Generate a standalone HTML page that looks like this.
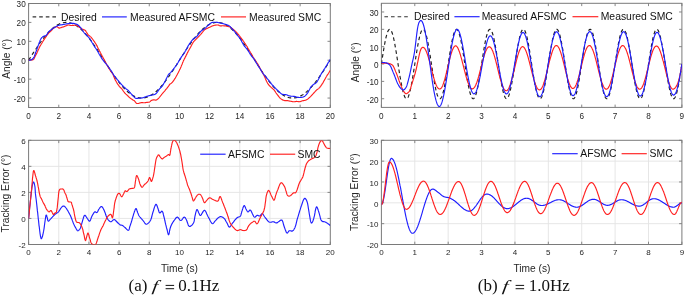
<!DOCTYPE html>
<html><head><meta charset="utf-8"><style>
html,body{margin:0;padding:0;background:#fff;width:685px;height:296px;overflow:hidden}
svg{display:block;will-change:transform}
</style></head><body>
<svg width="685" height="296" viewBox="0 0 685 296">
<defs>
<clipPath id="cTL"><rect x="28.6" y="3.5" width="301.70" height="104.00"/></clipPath>
<clipPath id="cTR"><rect x="381.4" y="3.3" width="300.50" height="104.10"/></clipPath>
<clipPath id="cBL"><rect x="28.6" y="140.3" width="301.70" height="104.20"/></clipPath>
<clipPath id="cBR"><rect x="381.4" y="140.3" width="300.50" height="104.20"/></clipPath>
</defs>
<rect width="685" height="296" fill="#fff"/>
<g font-family='"Liberation Sans", sans-serif' fill="#262626">
<line x1="28.60" y1="107.5" x2="28.60" y2="104.70" stroke="#7a7a7a" stroke-width="0.9"/>
<line x1="28.60" y1="3.5" x2="28.60" y2="6.30" stroke="#7a7a7a" stroke-width="0.9"/>
<text x="28.60" y="118.74" font-size="8.2" text-anchor="middle">0</text>
<line x1="58.77" y1="107.5" x2="58.77" y2="104.70" stroke="#7a7a7a" stroke-width="0.9"/>
<line x1="58.77" y1="3.5" x2="58.77" y2="6.30" stroke="#7a7a7a" stroke-width="0.9"/>
<text x="58.77" y="118.74" font-size="8.2" text-anchor="middle">2</text>
<line x1="88.94" y1="107.5" x2="88.94" y2="104.70" stroke="#7a7a7a" stroke-width="0.9"/>
<line x1="88.94" y1="3.5" x2="88.94" y2="6.30" stroke="#7a7a7a" stroke-width="0.9"/>
<text x="88.94" y="118.74" font-size="8.2" text-anchor="middle">4</text>
<line x1="119.11" y1="107.5" x2="119.11" y2="104.70" stroke="#7a7a7a" stroke-width="0.9"/>
<line x1="119.11" y1="3.5" x2="119.11" y2="6.30" stroke="#7a7a7a" stroke-width="0.9"/>
<text x="119.11" y="118.74" font-size="8.2" text-anchor="middle">6</text>
<line x1="149.28" y1="107.5" x2="149.28" y2="104.70" stroke="#7a7a7a" stroke-width="0.9"/>
<line x1="149.28" y1="3.5" x2="149.28" y2="6.30" stroke="#7a7a7a" stroke-width="0.9"/>
<text x="149.28" y="118.74" font-size="8.2" text-anchor="middle">8</text>
<line x1="179.45" y1="107.5" x2="179.45" y2="104.70" stroke="#7a7a7a" stroke-width="0.9"/>
<line x1="179.45" y1="3.5" x2="179.45" y2="6.30" stroke="#7a7a7a" stroke-width="0.9"/>
<text x="179.45" y="118.74" font-size="8.2" text-anchor="middle">10</text>
<line x1="209.62" y1="107.5" x2="209.62" y2="104.70" stroke="#7a7a7a" stroke-width="0.9"/>
<line x1="209.62" y1="3.5" x2="209.62" y2="6.30" stroke="#7a7a7a" stroke-width="0.9"/>
<text x="209.62" y="118.74" font-size="8.2" text-anchor="middle">12</text>
<line x1="239.79" y1="107.5" x2="239.79" y2="104.70" stroke="#7a7a7a" stroke-width="0.9"/>
<line x1="239.79" y1="3.5" x2="239.79" y2="6.30" stroke="#7a7a7a" stroke-width="0.9"/>
<text x="239.79" y="118.74" font-size="8.2" text-anchor="middle">14</text>
<line x1="269.96" y1="107.5" x2="269.96" y2="104.70" stroke="#7a7a7a" stroke-width="0.9"/>
<line x1="269.96" y1="3.5" x2="269.96" y2="6.30" stroke="#7a7a7a" stroke-width="0.9"/>
<text x="269.96" y="118.74" font-size="8.2" text-anchor="middle">16</text>
<line x1="300.13" y1="107.5" x2="300.13" y2="104.70" stroke="#7a7a7a" stroke-width="0.9"/>
<line x1="300.13" y1="3.5" x2="300.13" y2="6.30" stroke="#7a7a7a" stroke-width="0.9"/>
<text x="300.13" y="118.74" font-size="8.2" text-anchor="middle">18</text>
<line x1="330.30" y1="107.5" x2="330.30" y2="104.70" stroke="#7a7a7a" stroke-width="0.9"/>
<line x1="330.30" y1="3.5" x2="330.30" y2="6.30" stroke="#7a7a7a" stroke-width="0.9"/>
<text x="330.30" y="118.74" font-size="8.2" text-anchor="middle">20</text>
<line x1="28.6" y1="98.05" x2="31.40" y2="98.05" stroke="#7a7a7a" stroke-width="0.9"/>
<line x1="330.3" y1="98.05" x2="327.50" y2="98.05" stroke="#7a7a7a" stroke-width="0.9"/>
<text x="25.70" y="101.88" font-size="8.2" text-anchor="end">-20</text>
<line x1="28.6" y1="79.14" x2="31.40" y2="79.14" stroke="#7a7a7a" stroke-width="0.9"/>
<line x1="330.3" y1="79.14" x2="327.50" y2="79.14" stroke="#7a7a7a" stroke-width="0.9"/>
<text x="25.70" y="82.97" font-size="8.2" text-anchor="end">-10</text>
<line x1="28.6" y1="60.23" x2="31.40" y2="60.23" stroke="#7a7a7a" stroke-width="0.9"/>
<line x1="330.3" y1="60.23" x2="327.50" y2="60.23" stroke="#7a7a7a" stroke-width="0.9"/>
<text x="25.70" y="64.06" font-size="8.2" text-anchor="end">0</text>
<line x1="28.6" y1="41.32" x2="31.40" y2="41.32" stroke="#7a7a7a" stroke-width="0.9"/>
<line x1="330.3" y1="41.32" x2="327.50" y2="41.32" stroke="#7a7a7a" stroke-width="0.9"/>
<text x="25.70" y="45.15" font-size="8.2" text-anchor="end">10</text>
<line x1="28.6" y1="22.41" x2="31.40" y2="22.41" stroke="#7a7a7a" stroke-width="0.9"/>
<line x1="330.3" y1="22.41" x2="327.50" y2="22.41" stroke="#7a7a7a" stroke-width="0.9"/>
<text x="25.70" y="26.24" font-size="8.2" text-anchor="end">20</text>
<line x1="28.6" y1="3.50" x2="31.40" y2="3.50" stroke="#7a7a7a" stroke-width="0.9"/>
<line x1="330.3" y1="3.50" x2="327.50" y2="3.50" stroke="#7a7a7a" stroke-width="0.9"/>
<text x="25.70" y="7.34" font-size="8.2" text-anchor="end">30</text>
<rect x="28.6" y="3.5" width="301.70" height="104.00" fill="none" stroke="#7a7a7a" stroke-width="1"/>
<line x1="381.40" y1="107.4" x2="381.40" y2="104.60" stroke="#7a7a7a" stroke-width="0.9"/>
<line x1="381.40" y1="3.3" x2="381.40" y2="6.10" stroke="#7a7a7a" stroke-width="0.9"/>
<text x="381.40" y="118.54" font-size="8.2" text-anchor="middle">0</text>
<line x1="414.79" y1="107.4" x2="414.79" y2="104.60" stroke="#7a7a7a" stroke-width="0.9"/>
<line x1="414.79" y1="3.3" x2="414.79" y2="6.10" stroke="#7a7a7a" stroke-width="0.9"/>
<text x="414.79" y="118.54" font-size="8.2" text-anchor="middle">1</text>
<line x1="448.18" y1="107.4" x2="448.18" y2="104.60" stroke="#7a7a7a" stroke-width="0.9"/>
<line x1="448.18" y1="3.3" x2="448.18" y2="6.10" stroke="#7a7a7a" stroke-width="0.9"/>
<text x="448.18" y="118.54" font-size="8.2" text-anchor="middle">2</text>
<line x1="481.57" y1="107.4" x2="481.57" y2="104.60" stroke="#7a7a7a" stroke-width="0.9"/>
<line x1="481.57" y1="3.3" x2="481.57" y2="6.10" stroke="#7a7a7a" stroke-width="0.9"/>
<text x="481.57" y="118.54" font-size="8.2" text-anchor="middle">3</text>
<line x1="514.96" y1="107.4" x2="514.96" y2="104.60" stroke="#7a7a7a" stroke-width="0.9"/>
<line x1="514.96" y1="3.3" x2="514.96" y2="6.10" stroke="#7a7a7a" stroke-width="0.9"/>
<text x="514.96" y="118.54" font-size="8.2" text-anchor="middle">4</text>
<line x1="548.34" y1="107.4" x2="548.34" y2="104.60" stroke="#7a7a7a" stroke-width="0.9"/>
<line x1="548.34" y1="3.3" x2="548.34" y2="6.10" stroke="#7a7a7a" stroke-width="0.9"/>
<text x="548.34" y="118.54" font-size="8.2" text-anchor="middle">5</text>
<line x1="581.73" y1="107.4" x2="581.73" y2="104.60" stroke="#7a7a7a" stroke-width="0.9"/>
<line x1="581.73" y1="3.3" x2="581.73" y2="6.10" stroke="#7a7a7a" stroke-width="0.9"/>
<text x="581.73" y="118.54" font-size="8.2" text-anchor="middle">6</text>
<line x1="615.12" y1="107.4" x2="615.12" y2="104.60" stroke="#7a7a7a" stroke-width="0.9"/>
<line x1="615.12" y1="3.3" x2="615.12" y2="6.10" stroke="#7a7a7a" stroke-width="0.9"/>
<text x="615.12" y="118.54" font-size="8.2" text-anchor="middle">7</text>
<line x1="648.51" y1="107.4" x2="648.51" y2="104.60" stroke="#7a7a7a" stroke-width="0.9"/>
<line x1="648.51" y1="3.3" x2="648.51" y2="6.10" stroke="#7a7a7a" stroke-width="0.9"/>
<text x="648.51" y="118.54" font-size="8.2" text-anchor="middle">8</text>
<line x1="681.90" y1="107.4" x2="681.90" y2="104.60" stroke="#7a7a7a" stroke-width="0.9"/>
<line x1="681.90" y1="3.3" x2="681.90" y2="6.10" stroke="#7a7a7a" stroke-width="0.9"/>
<text x="681.90" y="118.54" font-size="8.2" text-anchor="middle">9</text>
<line x1="381.4" y1="98.73" x2="384.20" y2="98.73" stroke="#7a7a7a" stroke-width="0.9"/>
<line x1="681.9" y1="98.73" x2="679.10" y2="98.73" stroke="#7a7a7a" stroke-width="0.9"/>
<text x="378.50" y="102.56" font-size="8.2" text-anchor="end">-20</text>
<line x1="381.4" y1="81.38" x2="384.20" y2="81.38" stroke="#7a7a7a" stroke-width="0.9"/>
<line x1="681.9" y1="81.38" x2="679.10" y2="81.38" stroke="#7a7a7a" stroke-width="0.9"/>
<text x="378.50" y="85.21" font-size="8.2" text-anchor="end">-10</text>
<line x1="381.4" y1="64.03" x2="384.20" y2="64.03" stroke="#7a7a7a" stroke-width="0.9"/>
<line x1="681.9" y1="64.03" x2="679.10" y2="64.03" stroke="#7a7a7a" stroke-width="0.9"/>
<text x="378.50" y="67.86" font-size="8.2" text-anchor="end">0</text>
<line x1="381.4" y1="46.67" x2="384.20" y2="46.67" stroke="#7a7a7a" stroke-width="0.9"/>
<line x1="681.9" y1="46.67" x2="679.10" y2="46.67" stroke="#7a7a7a" stroke-width="0.9"/>
<text x="378.50" y="50.51" font-size="8.2" text-anchor="end">10</text>
<line x1="381.4" y1="29.33" x2="384.20" y2="29.33" stroke="#7a7a7a" stroke-width="0.9"/>
<line x1="681.9" y1="29.33" x2="679.10" y2="29.33" stroke="#7a7a7a" stroke-width="0.9"/>
<text x="378.50" y="33.16" font-size="8.2" text-anchor="end">20</text>
<line x1="381.4" y1="11.98" x2="384.20" y2="11.98" stroke="#7a7a7a" stroke-width="0.9"/>
<line x1="681.9" y1="11.98" x2="679.10" y2="11.98" stroke="#7a7a7a" stroke-width="0.9"/>
<text x="378.50" y="15.81" font-size="8.2" text-anchor="end">30</text>
<rect x="381.4" y="3.3" width="300.50" height="104.10" fill="none" stroke="#7a7a7a" stroke-width="1"/>
<line x1="58.77" y1="140.3" x2="58.77" y2="244.5" stroke="#e3e3e3" stroke-width="0.9"/>
<line x1="88.94" y1="140.3" x2="88.94" y2="244.5" stroke="#e3e3e3" stroke-width="0.9"/>
<line x1="119.11" y1="140.3" x2="119.11" y2="244.5" stroke="#e3e3e3" stroke-width="0.9"/>
<line x1="149.28" y1="140.3" x2="149.28" y2="244.5" stroke="#e3e3e3" stroke-width="0.9"/>
<line x1="179.45" y1="140.3" x2="179.45" y2="244.5" stroke="#e3e3e3" stroke-width="0.9"/>
<line x1="209.62" y1="140.3" x2="209.62" y2="244.5" stroke="#e3e3e3" stroke-width="0.9"/>
<line x1="239.79" y1="140.3" x2="239.79" y2="244.5" stroke="#e3e3e3" stroke-width="0.9"/>
<line x1="269.96" y1="140.3" x2="269.96" y2="244.5" stroke="#e3e3e3" stroke-width="0.9"/>
<line x1="300.13" y1="140.3" x2="300.13" y2="244.5" stroke="#e3e3e3" stroke-width="0.9"/>
<line x1="28.6" y1="218.45" x2="330.3" y2="218.45" stroke="#e3e3e3" stroke-width="0.9"/>
<line x1="28.6" y1="192.40" x2="330.3" y2="192.40" stroke="#e3e3e3" stroke-width="0.9"/>
<line x1="28.6" y1="166.35" x2="330.3" y2="166.35" stroke="#e3e3e3" stroke-width="0.9"/>
<line x1="28.60" y1="244.5" x2="28.60" y2="241.70" stroke="#7a7a7a" stroke-width="0.9"/>
<line x1="28.60" y1="140.3" x2="28.60" y2="143.10" stroke="#7a7a7a" stroke-width="0.9"/>
<text x="28.60" y="255.16" font-size="8.0" text-anchor="middle">0</text>
<line x1="58.77" y1="244.5" x2="58.77" y2="241.70" stroke="#7a7a7a" stroke-width="0.9"/>
<line x1="58.77" y1="140.3" x2="58.77" y2="143.10" stroke="#7a7a7a" stroke-width="0.9"/>
<text x="58.77" y="255.16" font-size="8.0" text-anchor="middle">2</text>
<line x1="88.94" y1="244.5" x2="88.94" y2="241.70" stroke="#7a7a7a" stroke-width="0.9"/>
<line x1="88.94" y1="140.3" x2="88.94" y2="143.10" stroke="#7a7a7a" stroke-width="0.9"/>
<text x="88.94" y="255.16" font-size="8.0" text-anchor="middle">4</text>
<line x1="119.11" y1="244.5" x2="119.11" y2="241.70" stroke="#7a7a7a" stroke-width="0.9"/>
<line x1="119.11" y1="140.3" x2="119.11" y2="143.10" stroke="#7a7a7a" stroke-width="0.9"/>
<text x="119.11" y="255.16" font-size="8.0" text-anchor="middle">6</text>
<line x1="149.28" y1="244.5" x2="149.28" y2="241.70" stroke="#7a7a7a" stroke-width="0.9"/>
<line x1="149.28" y1="140.3" x2="149.28" y2="143.10" stroke="#7a7a7a" stroke-width="0.9"/>
<text x="149.28" y="255.16" font-size="8.0" text-anchor="middle">8</text>
<line x1="179.45" y1="244.5" x2="179.45" y2="241.70" stroke="#7a7a7a" stroke-width="0.9"/>
<line x1="179.45" y1="140.3" x2="179.45" y2="143.10" stroke="#7a7a7a" stroke-width="0.9"/>
<text x="179.45" y="255.16" font-size="8.0" text-anchor="middle">10</text>
<line x1="209.62" y1="244.5" x2="209.62" y2="241.70" stroke="#7a7a7a" stroke-width="0.9"/>
<line x1="209.62" y1="140.3" x2="209.62" y2="143.10" stroke="#7a7a7a" stroke-width="0.9"/>
<text x="209.62" y="255.16" font-size="8.0" text-anchor="middle">12</text>
<line x1="239.79" y1="244.5" x2="239.79" y2="241.70" stroke="#7a7a7a" stroke-width="0.9"/>
<line x1="239.79" y1="140.3" x2="239.79" y2="143.10" stroke="#7a7a7a" stroke-width="0.9"/>
<text x="239.79" y="255.16" font-size="8.0" text-anchor="middle">14</text>
<line x1="269.96" y1="244.5" x2="269.96" y2="241.70" stroke="#7a7a7a" stroke-width="0.9"/>
<line x1="269.96" y1="140.3" x2="269.96" y2="143.10" stroke="#7a7a7a" stroke-width="0.9"/>
<text x="269.96" y="255.16" font-size="8.0" text-anchor="middle">16</text>
<line x1="300.13" y1="244.5" x2="300.13" y2="241.70" stroke="#7a7a7a" stroke-width="0.9"/>
<line x1="300.13" y1="140.3" x2="300.13" y2="143.10" stroke="#7a7a7a" stroke-width="0.9"/>
<text x="300.13" y="255.16" font-size="8.0" text-anchor="middle">18</text>
<line x1="330.30" y1="244.5" x2="330.30" y2="241.70" stroke="#7a7a7a" stroke-width="0.9"/>
<line x1="330.30" y1="140.3" x2="330.30" y2="143.10" stroke="#7a7a7a" stroke-width="0.9"/>
<text x="330.30" y="255.16" font-size="8.0" text-anchor="middle">20</text>
<line x1="28.6" y1="244.50" x2="31.40" y2="244.50" stroke="#7a7a7a" stroke-width="0.9"/>
<line x1="330.3" y1="244.50" x2="327.50" y2="244.50" stroke="#7a7a7a" stroke-width="0.9"/>
<text x="25.70" y="248.26" font-size="8.0" text-anchor="end">-2</text>
<line x1="28.6" y1="218.45" x2="31.40" y2="218.45" stroke="#7a7a7a" stroke-width="0.9"/>
<line x1="330.3" y1="218.45" x2="327.50" y2="218.45" stroke="#7a7a7a" stroke-width="0.9"/>
<text x="25.70" y="222.21" font-size="8.0" text-anchor="end">0</text>
<line x1="28.6" y1="192.40" x2="31.40" y2="192.40" stroke="#7a7a7a" stroke-width="0.9"/>
<line x1="330.3" y1="192.40" x2="327.50" y2="192.40" stroke="#7a7a7a" stroke-width="0.9"/>
<text x="25.70" y="196.16" font-size="8.0" text-anchor="end">2</text>
<line x1="28.6" y1="166.35" x2="31.40" y2="166.35" stroke="#7a7a7a" stroke-width="0.9"/>
<line x1="330.3" y1="166.35" x2="327.50" y2="166.35" stroke="#7a7a7a" stroke-width="0.9"/>
<text x="25.70" y="170.11" font-size="8.0" text-anchor="end">4</text>
<line x1="28.6" y1="140.30" x2="31.40" y2="140.30" stroke="#7a7a7a" stroke-width="0.9"/>
<line x1="330.3" y1="140.30" x2="327.50" y2="140.30" stroke="#7a7a7a" stroke-width="0.9"/>
<text x="25.70" y="144.06" font-size="8.0" text-anchor="end">6</text>
<rect x="28.6" y="140.3" width="301.70" height="104.20" fill="none" stroke="#7a7a7a" stroke-width="1"/>
<line x1="414.79" y1="140.3" x2="414.79" y2="244.5" stroke="#e3e3e3" stroke-width="0.9"/>
<line x1="448.18" y1="140.3" x2="448.18" y2="244.5" stroke="#e3e3e3" stroke-width="0.9"/>
<line x1="481.57" y1="140.3" x2="481.57" y2="244.5" stroke="#e3e3e3" stroke-width="0.9"/>
<line x1="514.96" y1="140.3" x2="514.96" y2="244.5" stroke="#e3e3e3" stroke-width="0.9"/>
<line x1="548.34" y1="140.3" x2="548.34" y2="244.5" stroke="#e3e3e3" stroke-width="0.9"/>
<line x1="581.73" y1="140.3" x2="581.73" y2="244.5" stroke="#e3e3e3" stroke-width="0.9"/>
<line x1="615.12" y1="140.3" x2="615.12" y2="244.5" stroke="#e3e3e3" stroke-width="0.9"/>
<line x1="648.51" y1="140.3" x2="648.51" y2="244.5" stroke="#e3e3e3" stroke-width="0.9"/>
<line x1="381.4" y1="223.66" x2="681.9" y2="223.66" stroke="#e3e3e3" stroke-width="0.9"/>
<line x1="381.4" y1="202.82" x2="681.9" y2="202.82" stroke="#e3e3e3" stroke-width="0.9"/>
<line x1="381.4" y1="181.98" x2="681.9" y2="181.98" stroke="#e3e3e3" stroke-width="0.9"/>
<line x1="381.4" y1="161.14" x2="681.9" y2="161.14" stroke="#e3e3e3" stroke-width="0.9"/>
<line x1="381.40" y1="244.5" x2="381.40" y2="241.70" stroke="#7a7a7a" stroke-width="0.9"/>
<line x1="381.40" y1="140.3" x2="381.40" y2="143.10" stroke="#7a7a7a" stroke-width="0.9"/>
<text x="381.40" y="255.06" font-size="8.0" text-anchor="middle">0</text>
<line x1="414.79" y1="244.5" x2="414.79" y2="241.70" stroke="#7a7a7a" stroke-width="0.9"/>
<line x1="414.79" y1="140.3" x2="414.79" y2="143.10" stroke="#7a7a7a" stroke-width="0.9"/>
<text x="414.79" y="255.06" font-size="8.0" text-anchor="middle">1</text>
<line x1="448.18" y1="244.5" x2="448.18" y2="241.70" stroke="#7a7a7a" stroke-width="0.9"/>
<line x1="448.18" y1="140.3" x2="448.18" y2="143.10" stroke="#7a7a7a" stroke-width="0.9"/>
<text x="448.18" y="255.06" font-size="8.0" text-anchor="middle">2</text>
<line x1="481.57" y1="244.5" x2="481.57" y2="241.70" stroke="#7a7a7a" stroke-width="0.9"/>
<line x1="481.57" y1="140.3" x2="481.57" y2="143.10" stroke="#7a7a7a" stroke-width="0.9"/>
<text x="481.57" y="255.06" font-size="8.0" text-anchor="middle">3</text>
<line x1="514.96" y1="244.5" x2="514.96" y2="241.70" stroke="#7a7a7a" stroke-width="0.9"/>
<line x1="514.96" y1="140.3" x2="514.96" y2="143.10" stroke="#7a7a7a" stroke-width="0.9"/>
<text x="514.96" y="255.06" font-size="8.0" text-anchor="middle">4</text>
<line x1="548.34" y1="244.5" x2="548.34" y2="241.70" stroke="#7a7a7a" stroke-width="0.9"/>
<line x1="548.34" y1="140.3" x2="548.34" y2="143.10" stroke="#7a7a7a" stroke-width="0.9"/>
<text x="548.34" y="255.06" font-size="8.0" text-anchor="middle">5</text>
<line x1="581.73" y1="244.5" x2="581.73" y2="241.70" stroke="#7a7a7a" stroke-width="0.9"/>
<line x1="581.73" y1="140.3" x2="581.73" y2="143.10" stroke="#7a7a7a" stroke-width="0.9"/>
<text x="581.73" y="255.06" font-size="8.0" text-anchor="middle">6</text>
<line x1="615.12" y1="244.5" x2="615.12" y2="241.70" stroke="#7a7a7a" stroke-width="0.9"/>
<line x1="615.12" y1="140.3" x2="615.12" y2="143.10" stroke="#7a7a7a" stroke-width="0.9"/>
<text x="615.12" y="255.06" font-size="8.0" text-anchor="middle">7</text>
<line x1="648.51" y1="244.5" x2="648.51" y2="241.70" stroke="#7a7a7a" stroke-width="0.9"/>
<line x1="648.51" y1="140.3" x2="648.51" y2="143.10" stroke="#7a7a7a" stroke-width="0.9"/>
<text x="648.51" y="255.06" font-size="8.0" text-anchor="middle">8</text>
<line x1="681.90" y1="244.5" x2="681.90" y2="241.70" stroke="#7a7a7a" stroke-width="0.9"/>
<line x1="681.90" y1="140.3" x2="681.90" y2="143.10" stroke="#7a7a7a" stroke-width="0.9"/>
<text x="681.90" y="255.06" font-size="8.0" text-anchor="middle">9</text>
<line x1="381.4" y1="244.50" x2="384.20" y2="244.50" stroke="#7a7a7a" stroke-width="0.9"/>
<line x1="681.9" y1="244.50" x2="679.10" y2="244.50" stroke="#7a7a7a" stroke-width="0.9"/>
<text x="378.50" y="248.26" font-size="8.0" text-anchor="end">-20</text>
<line x1="381.4" y1="223.66" x2="384.20" y2="223.66" stroke="#7a7a7a" stroke-width="0.9"/>
<line x1="681.9" y1="223.66" x2="679.10" y2="223.66" stroke="#7a7a7a" stroke-width="0.9"/>
<text x="378.50" y="227.42" font-size="8.0" text-anchor="end">-10</text>
<line x1="381.4" y1="202.82" x2="384.20" y2="202.82" stroke="#7a7a7a" stroke-width="0.9"/>
<line x1="681.9" y1="202.82" x2="679.10" y2="202.82" stroke="#7a7a7a" stroke-width="0.9"/>
<text x="378.50" y="206.58" font-size="8.0" text-anchor="end">0</text>
<line x1="381.4" y1="181.98" x2="384.20" y2="181.98" stroke="#7a7a7a" stroke-width="0.9"/>
<line x1="681.9" y1="181.98" x2="679.10" y2="181.98" stroke="#7a7a7a" stroke-width="0.9"/>
<text x="378.50" y="185.74" font-size="8.0" text-anchor="end">10</text>
<line x1="381.4" y1="161.14" x2="384.20" y2="161.14" stroke="#7a7a7a" stroke-width="0.9"/>
<line x1="681.9" y1="161.14" x2="679.10" y2="161.14" stroke="#7a7a7a" stroke-width="0.9"/>
<text x="378.50" y="164.90" font-size="8.0" text-anchor="end">20</text>
<line x1="381.4" y1="140.30" x2="384.20" y2="140.30" stroke="#7a7a7a" stroke-width="0.9"/>
<line x1="681.9" y1="140.30" x2="679.10" y2="140.30" stroke="#7a7a7a" stroke-width="0.9"/>
<text x="378.50" y="144.06" font-size="8.0" text-anchor="end">30</text>
<rect x="381.4" y="140.3" width="300.50" height="104.20" fill="none" stroke="#7a7a7a" stroke-width="1"/>
</g>
<g clip-path="url(#cBL)" fill="none" stroke-width="1.15" stroke-linejoin="round">
<path d="M28.6,218.4 L28.8,216.3 L29.1,213.5 L29.4,210.1 L29.8,206.5 L30.2,203.0 L30.5,200.0 L30.8,197.3 L31.1,194.6 L31.4,192.1 L31.7,189.8 L31.9,187.7 L32.2,186.0 L32.5,184.7 L32.7,183.6 L32.9,182.9 L33.2,182.4 L33.4,182.1 L33.6,182.0 L33.8,182.1 L34.0,182.6 L34.2,183.2 L34.4,184.0 L34.6,185.0 L34.8,186.0 L35.0,187.2 L35.1,188.6 L35.2,190.1 L35.3,191.7 L35.4,193.4 L35.6,195.0 L35.8,196.6 L36.0,198.2 L36.2,199.8 L36.4,201.5 L36.6,203.2 L36.8,205.0 L37.0,206.9 L37.2,208.9 L37.4,210.9 L37.7,212.9 L37.9,215.0 L38.1,217.0 L38.3,219.0 L38.6,221.1 L38.8,223.2 L39.0,225.3 L39.3,227.2 L39.5,229.0 L39.7,230.7 L39.9,232.3 L40.1,233.8 L40.3,235.1 L40.5,236.3 L40.7,237.2 L40.9,237.9 L41.0,238.4 L41.1,238.6 L41.2,238.8 L41.3,238.7 L41.5,238.6 L41.7,238.3 L41.9,237.9 L42.1,237.3 L42.4,236.6 L42.6,235.8 L42.8,235.0 L43.0,234.1 L43.2,233.2 L43.4,232.2 L43.6,231.2 L43.8,230.0 L44.0,228.8 L44.2,227.4 L44.4,225.9 L44.6,224.3 L44.8,222.7 L45.0,221.3 L45.2,220.0 L45.4,218.9 L45.5,217.8 L45.7,216.8 L45.9,216.0 L46.0,215.4 L46.2,215.0 L46.4,215.0 L46.5,215.2 L46.7,215.7 L46.9,216.3 L47.0,216.9 L47.2,217.5 L47.4,218.1 L47.5,218.9 L47.6,219.7 L47.8,220.4 L48.0,220.9 L48.3,221.2 L48.6,221.1 L49.0,220.8 L49.5,220.3 L49.9,219.7 L50.5,219.1 L51.0,218.5 L51.6,217.9 L52.3,217.2 L53.0,216.4 L53.7,215.7 L54.4,215.0 L55.0,214.4 L55.6,213.9 L56.2,213.5 L56.8,213.1 L57.3,212.8 L57.9,212.4 L58.4,211.9 L58.9,211.3 L59.3,210.6 L59.8,209.9 L60.2,209.2 L60.6,208.6 L61.0,208.0 L61.4,207.5 L61.8,207.0 L62.3,206.6 L62.7,206.3 L63.1,206.1 L63.5,206.0 L63.9,206.1 L64.3,206.3 L64.8,206.6 L65.2,207.0 L65.6,207.5 L66.0,208.0 L66.4,208.5 L66.8,209.1 L67.2,209.8 L67.7,210.4 L68.1,211.2 L68.5,211.9 L68.9,212.7 L69.3,213.5 L69.7,214.3 L70.2,215.1 L70.6,216.0 L71.0,217.0 L71.4,218.1 L71.9,219.2 L72.3,220.4 L72.8,221.6 L73.2,222.7 L73.6,223.7 L74.0,224.6 L74.4,225.4 L74.7,226.1 L75.1,226.8 L75.4,227.4 L75.8,228.0 L76.1,228.6 L76.5,229.3 L76.8,229.8 L77.1,230.3 L77.4,230.7 L77.8,230.8 L78.2,230.7 L78.6,230.4 L79.1,230.0 L79.5,229.5 L80.0,228.8 L80.4,228.0 L80.8,227.1 L81.1,225.9 L81.5,224.7 L81.8,223.4 L82.2,222.1 L82.5,221.0 L82.8,219.9 L83.2,218.7 L83.5,217.5 L83.9,216.5 L84.2,215.7 L84.6,215.3 L85.0,215.3 L85.4,215.6 L85.8,216.1 L86.2,216.8 L86.6,217.4 L87.0,218.0 L87.4,218.6 L87.9,219.3 L88.4,220.1 L88.8,220.7 L89.3,221.1 L89.7,221.2 L90.1,220.8 L90.5,220.0 L90.8,219.1 L91.2,218.0 L91.6,216.9 L92.0,216.0 L92.4,215.2 L92.9,214.4 L93.4,213.6 L93.8,212.9 L94.3,212.3 L94.7,211.9 L95.1,211.8 L95.5,211.9 L95.9,212.2 L96.3,212.4 L96.6,212.6 L97.0,212.5 L97.3,212.1 L97.7,211.6 L98.0,210.9 L98.3,210.2 L98.6,209.6 L99.0,209.0 L99.4,208.5 L99.8,207.9 L100.2,207.3 L100.6,206.9 L101.1,206.6 L101.5,206.5 L101.9,206.7 L102.3,207.0 L102.7,207.6 L103.1,208.2 L103.5,209.1 L104.0,210.0 L104.5,211.2 L105.1,212.7 L105.6,214.3 L106.2,216.0 L106.8,217.4 L107.4,218.6 L108.0,219.5 L108.5,220.2 L109.1,220.8 L109.7,221.3 L110.2,221.6 L110.8,221.7 L111.4,221.6 L111.9,221.2 L112.5,220.6 L113.0,220.1 L113.6,219.7 L114.1,219.5 L114.6,219.6 L115.1,220.0 L115.6,220.4 L116.0,221.0 L116.5,221.5 L117.0,222.0 L117.5,222.5 L118.0,223.0 L118.5,223.5 L119.0,223.9 L119.5,224.4 L120.0,224.7 L120.4,224.9 L120.9,225.1 L121.3,225.1 L121.7,225.2 L122.1,225.3 L122.5,225.5 L122.9,225.8 L123.3,226.0 L123.7,226.4 L124.1,226.7 L124.5,227.1 L125.0,227.5 L125.5,228.0 L126.1,228.6 L126.8,229.3 L127.4,229.9 L127.9,230.2 L128.4,230.3 L128.8,230.0 L129.1,229.4 L129.3,228.7 L129.5,227.8 L129.7,226.9 L130.0,226.0 L130.3,225.2 L130.6,224.3 L130.9,223.4 L131.2,222.5 L131.5,221.5 L131.8,220.5 L132.1,219.3 L132.5,218.0 L132.9,216.7 L133.3,215.3 L133.6,214.1 L134.0,213.0 L134.3,212.0 L134.7,211.0 L135.0,210.1 L135.4,209.3 L135.7,208.8 L136.0,208.6 L136.3,208.8 L136.6,209.5 L136.9,210.3 L137.2,211.3 L137.5,212.2 L137.8,213.0 L138.1,213.6 L138.3,214.1 L138.5,214.7 L138.7,215.2 L139.0,215.7 L139.4,216.3 L139.9,217.0 L140.5,217.7 L141.1,218.4 L141.8,219.1 L142.4,219.8 L143.0,220.5 L143.5,221.2 L144.1,222.0 L144.6,222.8 L145.1,223.5 L145.6,224.0 L146.2,224.2 L146.9,224.1 L147.6,223.7 L148.3,223.1 L149.1,222.4 L149.8,221.5 L150.4,220.5 L150.9,219.4 L151.4,218.0 L151.8,216.5 L152.2,214.9 L152.6,213.4 L153.0,212.0 L153.5,210.6 L153.9,209.0 L154.4,207.4 L154.9,206.1 L155.4,205.0 L155.8,204.4 L156.2,204.3 L156.5,204.7 L156.9,205.4 L157.2,206.3 L157.5,207.2 L157.8,208.0 L158.1,208.8 L158.4,209.8 L158.7,210.8 L159.0,211.7 L159.3,212.5 L159.7,212.9 L160.1,212.9 L160.5,212.5 L161.0,212.0 L161.4,211.5 L161.8,211.1 L162.2,211.2 L162.5,211.7 L162.9,212.5 L163.2,213.6 L163.4,214.7 L163.7,215.9 L164.0,217.0 L164.3,218.1 L164.6,219.3 L164.8,220.5 L165.1,221.7 L165.3,222.8 L165.6,223.9 L165.8,224.9 L166.1,225.9 L166.3,226.8 L166.5,227.7 L166.8,228.6 L167.0,229.5 L167.3,230.5 L167.5,231.7 L167.8,232.9 L168.1,233.9 L168.3,234.6 L168.6,234.8 L168.8,234.5 L169.1,233.6 L169.3,232.5 L169.5,231.2 L169.8,230.0 L170.0,229.0 L170.2,228.2 L170.4,227.5 L170.7,226.8 L170.9,226.1 L171.2,225.4 L171.5,224.7 L171.9,223.9 L172.4,223.1 L172.9,222.3 L173.5,221.4 L174.0,220.7 L174.5,220.0 L175.0,219.3 L175.5,218.7 L175.9,218.0 L176.4,217.5 L176.9,217.2 L177.4,217.1 L177.9,217.4 L178.5,218.0 L179.1,218.8 L179.6,219.6 L180.2,220.3 L180.8,220.5 L181.4,220.3 L182.0,219.6 L182.6,218.8 L183.1,218.0 L183.7,217.4 L184.2,217.1 L184.6,217.2 L185.0,217.5 L185.4,217.9 L185.7,218.5 L186.1,219.2 L186.5,220.0 L186.9,221.0 L187.3,222.2 L187.8,223.6 L188.2,224.9 L188.7,225.9 L189.3,226.4 L190.0,226.4 L190.7,226.1 L191.5,225.5 L192.2,224.8 L192.9,223.9 L193.5,223.0 L193.9,222.0 L194.2,220.9 L194.4,219.7 L194.6,218.4 L194.8,217.2 L195.0,216.0 L195.3,214.8 L195.6,213.4 L195.9,212.1 L196.3,210.9 L196.6,210.0 L196.9,209.5 L197.2,209.5 L197.5,210.0 L197.9,210.7 L198.2,211.5 L198.5,212.4 L198.8,213.0 L199.1,213.6 L199.4,214.2 L199.6,214.7 L199.9,215.2 L200.3,215.4 L200.7,215.4 L201.2,214.9 L201.8,213.8 L202.5,212.6 L203.2,211.4 L203.9,210.6 L204.5,210.3 L205.1,210.7 L205.7,211.5 L206.2,212.6 L206.8,214.0 L207.4,215.3 L208.0,216.5 L208.7,217.7 L209.4,219.1 L210.1,220.5 L210.8,221.8 L211.5,222.9 L212.1,223.5 L212.7,223.7 L213.2,223.5 L213.6,223.0 L214.1,222.4 L214.5,221.7 L215.0,221.2 L215.5,220.7 L216.0,220.1 L216.5,219.5 L217.0,219.0 L217.5,218.4 L218.0,218.0 L218.5,217.6 L219.0,217.3 L219.4,217.0 L219.9,216.7 L220.4,216.6 L220.9,216.6 L221.4,216.7 L222.0,216.9 L222.6,217.2 L223.2,217.6 L223.8,218.1 L224.3,218.6 L224.8,219.2 L225.3,219.9 L225.7,220.7 L226.1,221.5 L226.6,222.3 L227.0,223.0 L227.4,223.8 L227.8,224.7 L228.2,225.6 L228.5,226.4 L229.0,226.9 L229.4,227.1 L229.9,226.9 L230.4,226.3 L230.9,225.6 L231.5,224.7 L232.1,223.7 L232.7,222.9 L233.4,222.1 L234.1,221.1 L234.8,220.2 L235.6,219.3 L236.3,218.5 L237.0,217.8 L237.6,217.4 L238.2,217.1 L238.8,217.0 L239.4,216.8 L239.9,216.5 L240.3,216.1 L240.7,215.5 L241.0,214.7 L241.2,213.8 L241.5,212.9 L241.7,211.9 L242.0,211.0 L242.3,210.0 L242.7,208.9 L243.0,207.7 L243.4,206.7 L243.8,205.9 L244.1,205.5 L244.4,205.6 L244.7,206.0 L245.1,206.7 L245.4,207.5 L245.7,208.3 L246.0,209.0 L246.3,209.6 L246.6,210.2 L247.0,210.8 L247.3,211.3 L247.6,211.7 L248.0,211.9 L248.4,211.8 L248.8,211.4 L249.1,210.8 L249.6,210.3 L250.0,210.0 L250.5,210.2 L251.1,210.9 L251.7,212.2 L252.3,213.6 L253.0,215.0 L253.6,216.3 L254.2,217.0 L254.7,217.2 L255.3,217.0 L255.8,216.5 L256.3,216.0 L256.7,215.5 L257.2,215.3 L257.7,215.3 L258.1,215.5 L258.5,215.7 L259.0,215.9 L259.4,216.0 L259.8,216.0 L260.2,215.7 L260.6,215.2 L261.1,214.6 L261.5,214.1 L261.9,213.7 L262.3,213.6 L262.7,213.8 L263.1,214.2 L263.4,214.8 L263.8,215.5 L264.3,216.3 L264.8,217.0 L265.4,217.8 L266.1,218.7 L266.8,219.7 L267.6,220.7 L268.4,221.5 L269.1,222.0 L269.8,222.2 L270.5,222.2 L271.3,222.1 L272.0,221.9 L272.6,221.7 L273.3,221.7 L273.9,221.9 L274.4,222.1 L275.0,222.5 L275.5,222.7 L276.1,222.9 L276.7,222.9 L277.5,222.6 L278.3,221.9 L279.3,221.2 L280.2,220.5 L281.0,220.0 L281.7,220.0 L282.2,220.5 L282.6,221.3 L283.0,222.4 L283.3,223.6 L283.6,224.8 L284.0,226.0 L284.4,227.2 L284.9,228.6 L285.4,230.0 L285.9,231.3 L286.3,232.4 L286.8,233.0 L287.2,233.1 L287.6,232.9 L288.0,232.3 L288.4,231.7 L288.8,231.1 L289.3,230.8 L289.8,230.7 L290.4,230.8 L291.0,230.9 L291.5,231.1 L292.1,231.1 L292.6,230.9 L293.1,230.5 L293.5,230.1 L293.9,229.5 L294.3,228.8 L294.7,228.1 L295.1,227.2 L295.4,226.2 L295.8,225.1 L296.1,223.9 L296.4,222.6 L296.7,221.3 L297.0,220.0 L297.4,218.7 L297.8,217.4 L298.2,216.1 L298.6,214.7 L299.0,213.3 L299.4,212.0 L299.8,210.6 L300.3,209.2 L300.7,207.8 L301.1,206.5 L301.6,205.2 L302.0,204.0 L302.4,202.8 L302.8,201.6 L303.2,200.5 L303.7,199.5 L304.1,198.8 L304.5,198.4 L304.9,198.4 L305.4,198.6 L305.8,199.1 L306.3,199.8 L306.7,200.7 L307.1,201.8 L307.5,203.1 L307.8,204.7 L308.1,206.4 L308.4,208.3 L308.7,210.2 L309.0,212.0 L309.3,214.0 L309.7,216.1 L310.1,218.3 L310.4,220.4 L310.8,221.9 L311.2,222.9 L311.6,223.1 L312.0,222.8 L312.5,222.0 L312.9,221.0 L313.3,219.8 L313.7,218.7 L314.0,217.4 L314.4,215.9 L314.7,214.3 L315.0,212.7 L315.2,211.2 L315.5,210.0 L315.7,209.1 L315.9,208.2 L316.1,207.6 L316.3,207.1 L316.5,206.9 L316.8,206.9 L317.1,207.2 L317.4,207.9 L317.7,208.7 L318.1,209.8 L318.4,210.9 L318.8,212.0 L319.2,213.3 L319.6,214.8 L320.0,216.4 L320.4,218.0 L320.8,219.4 L321.3,220.4 L321.8,221.0 L322.4,221.4 L323.0,221.6 L323.6,221.6 L324.2,221.7 L324.7,221.8 L325.1,222.0 L325.5,222.2 L325.9,222.3 L326.2,222.5 L326.6,222.7 L327.0,223.0 L327.5,223.4 L328.1,223.8 L328.8,224.3 L329.4,224.8 L329.9,225.2 L330.3,225.5" stroke="#1f1fff"/>
<path d="M28.6,218.4 L28.8,217.0 L29.0,215.0 L29.2,212.6 L29.5,210.1 L29.7,207.5 L30.0,205.0 L30.2,202.6 L30.5,200.2 L30.7,197.7 L31.0,195.1 L31.2,192.6 L31.5,190.0 L31.8,187.2 L32.0,184.3 L32.3,181.3 L32.5,178.4 L32.8,176.0 L33.0,174.0 L33.2,172.6 L33.3,171.6 L33.5,171.0 L33.6,170.6 L33.7,170.5 L33.9,170.5 L34.1,170.8 L34.3,171.3 L34.5,172.1 L34.8,173.0 L35.0,174.0 L35.3,175.0 L35.6,176.0 L35.9,176.9 L36.2,178.0 L36.6,179.1 L36.9,180.5 L37.3,182.0 L37.7,183.9 L38.1,186.2 L38.6,188.7 L39.0,191.1 L39.4,193.3 L39.8,195.0 L40.1,196.2 L40.4,197.0 L40.7,197.5 L41.0,198.0 L41.2,198.4 L41.5,198.9 L41.8,199.5 L42.1,200.2 L42.4,200.8 L42.6,201.4 L42.9,202.0 L43.2,202.6 L43.5,203.1 L43.8,203.6 L44.1,204.1 L44.3,204.6 L44.6,205.1 L44.9,205.6 L45.2,206.2 L45.4,206.9 L45.7,207.5 L46.0,208.2 L46.3,208.8 L46.6,209.4 L47.0,209.9 L47.4,210.5 L47.8,211.0 L48.3,211.4 L48.7,211.7 L49.1,211.9 L49.4,211.8 L49.8,211.5 L50.1,211.1 L50.4,210.7 L50.7,210.5 L51.0,210.5 L51.4,210.9 L51.8,211.6 L52.2,212.5 L52.6,213.3 L52.9,214.0 L53.3,214.4 L53.6,214.5 L53.9,214.3 L54.2,214.1 L54.5,213.7 L54.7,213.3 L55.0,213.0 L55.3,212.8 L55.6,212.7 L55.9,212.6 L56.2,212.4 L56.4,211.9 L56.7,211.0 L56.9,209.7 L57.2,207.9 L57.4,206.0 L57.6,203.9 L57.8,201.9 L58.0,200.0 L58.2,198.2 L58.4,196.4 L58.5,194.6 L58.7,192.9 L58.9,191.5 L59.2,190.4 L59.5,189.7 L59.9,189.3 L60.3,189.1 L60.7,189.0 L61.1,189.0 L61.5,189.0 L61.9,189.0 L62.2,188.9 L62.5,189.0 L62.9,189.1 L63.2,189.3 L63.5,189.6 L63.8,190.0 L64.1,190.6 L64.3,191.2 L64.6,191.9 L64.8,192.5 L65.0,193.0 L65.2,193.4 L65.3,193.6 L65.5,193.9 L65.6,194.1 L65.8,194.5 L66.0,195.0 L66.3,195.8 L66.5,196.7 L66.9,197.8 L67.2,198.8 L67.5,199.8 L67.7,200.5 L67.9,201.0 L68.0,201.3 L68.0,201.5 L68.1,201.6 L68.3,201.7 L68.5,201.8 L68.8,201.9 L69.3,201.9 L69.8,202.0 L70.3,202.0 L70.7,202.0 L71.1,202.2 L71.3,202.4 L71.5,202.6 L71.6,202.9 L71.6,203.3 L71.7,203.7 L71.9,204.3 L72.1,205.0 L72.4,205.7 L72.6,206.6 L72.9,207.6 L73.3,208.7 L73.6,210.0 L74.0,211.7 L74.3,213.7 L74.7,215.8 L75.2,218.0 L75.6,219.8 L76.1,221.2 L76.6,222.0 L77.2,222.4 L77.8,222.5 L78.4,222.5 L79.0,222.6 L79.5,222.9 L80.0,223.4 L80.4,224.0 L80.8,224.7 L81.3,225.4 L81.6,226.2 L82.0,227.1 L82.3,228.1 L82.7,229.2 L83.0,230.4 L83.2,231.6 L83.5,232.8 L83.8,234.0 L84.1,235.2 L84.4,236.6 L84.6,238.0 L84.9,239.2 L85.2,240.1 L85.4,240.6 L85.6,240.6 L85.8,240.2 L86.0,239.5 L86.2,238.6 L86.4,237.7 L86.6,237.0 L86.8,236.3 L87.0,235.4 L87.3,234.5 L87.5,233.7 L87.8,233.2 L88.0,233.0 L88.3,233.3 L88.5,234.0 L88.8,234.9 L89.1,236.0 L89.3,237.1 L89.6,238.0 L89.9,238.9 L90.2,239.8 L90.4,240.8 L90.7,241.7 L91.0,242.5 L91.3,243.1 L91.6,243.6 L91.8,243.9 L92.1,244.1 L92.4,244.3 L92.7,244.4 L93.0,244.5 L93.4,244.7 L93.8,244.8 L94.3,245.0 L94.7,245.0 L95.2,244.9 L95.6,244.5 L96.0,243.8 L96.4,242.9 L96.8,241.7 L97.2,240.5 L97.6,239.2 L98.0,238.0 L98.4,236.8 L98.9,235.5 L99.3,234.2 L99.7,232.9 L100.2,231.6 L100.6,230.5 L101.0,229.5 L101.4,228.7 L101.8,228.0 L102.2,227.3 L102.7,226.4 L103.2,225.4 L103.8,224.1 L104.5,222.6 L105.2,221.0 L106.0,219.5 L106.7,218.1 L107.4,217.0 L108.0,216.2 L108.7,215.5 L109.3,215.0 L109.8,214.6 L110.3,214.4 L110.8,214.4 L111.2,214.7 L111.5,215.5 L111.8,216.4 L112.0,217.3 L112.3,217.8 L112.5,217.8 L112.7,217.2 L113.0,216.0 L113.2,214.6 L113.4,213.0 L113.6,211.5 L113.8,210.0 L114.0,208.6 L114.2,207.3 L114.3,205.9 L114.5,204.5 L114.7,203.1 L115.0,201.8 L115.3,200.5 L115.8,199.1 L116.2,197.8 L116.7,196.5 L117.1,195.4 L117.5,194.6 L117.9,194.0 L118.2,193.6 L118.5,193.4 L118.8,193.3 L119.2,193.4 L119.5,193.5 L119.9,193.9 L120.2,194.5 L120.6,195.3 L121.0,196.0 L121.4,196.6 L121.7,196.8 L122.0,196.7 L122.3,196.3 L122.6,195.8 L122.9,195.2 L123.2,194.6 L123.5,194.0 L123.8,193.5 L124.0,192.9 L124.3,192.2 L124.6,191.7 L124.8,191.2 L125.1,190.9 L125.4,190.8 L125.7,190.9 L126.0,191.2 L126.3,191.4 L126.7,191.5 L127.0,191.5 L127.4,191.2 L127.7,190.8 L128.1,190.3 L128.5,189.8 L128.9,189.3 L129.3,189.0 L129.7,188.8 L130.1,188.7 L130.5,188.6 L131.0,188.6 L131.4,188.5 L131.8,188.4 L132.2,188.3 L132.7,188.3 L133.2,188.3 L133.6,188.2 L134.1,188.0 L134.4,187.5 L134.7,186.7 L134.9,185.7 L135.0,184.5 L135.2,183.3 L135.3,182.1 L135.5,181.0 L135.7,179.9 L135.8,178.8 L136.0,177.6 L136.2,176.6 L136.4,175.9 L136.6,175.5 L136.9,175.5 L137.2,175.9 L137.5,176.6 L137.9,177.4 L138.2,178.2 L138.5,179.0 L138.8,179.8 L139.0,180.6 L139.2,181.5 L139.5,182.4 L139.7,183.2 L140.0,184.0 L140.3,184.7 L140.6,185.4 L141.0,186.1 L141.3,186.7 L141.7,187.1 L142.0,187.3 L142.3,187.2 L142.7,186.9 L143.0,186.5 L143.3,185.9 L143.7,185.4 L144.0,185.0 L144.4,184.7 L144.7,184.3 L145.1,184.0 L145.5,183.7 L145.9,183.4 L146.2,183.1 L146.5,182.8 L146.8,182.5 L147.1,182.1 L147.4,181.8 L147.7,181.4 L148.0,181.0 L148.3,180.4 L148.5,179.7 L148.8,178.9 L149.1,178.2 L149.3,177.7 L149.6,177.5 L149.9,177.8 L150.2,178.5 L150.5,179.4 L150.8,180.3 L151.0,181.0 L151.3,181.4 L151.5,181.4 L151.7,181.2 L151.9,180.8 L152.1,180.2 L152.3,179.6 L152.5,179.0 L152.7,178.3 L152.9,177.6 L153.2,176.7 L153.4,175.8 L153.6,174.8 L153.8,173.8 L154.0,172.6 L154.2,171.4 L154.4,170.0 L154.6,168.7 L154.8,167.3 L155.0,166.0 L155.2,164.7 L155.4,163.4 L155.6,162.0 L155.8,160.8 L156.0,159.6 L156.3,158.6 L156.6,157.7 L157.0,156.9 L157.4,156.2 L157.8,155.6 L158.1,155.1 L158.5,154.9 L158.8,154.9 L159.1,155.2 L159.4,155.6 L159.7,156.1 L160.0,156.6 L160.3,157.0 L160.6,157.4 L160.9,157.8 L161.3,158.2 L161.6,158.5 L161.9,158.8 L162.2,158.9 L162.5,158.9 L162.8,158.7 L163.1,158.4 L163.4,158.1 L163.7,157.8 L164.0,157.5 L164.4,157.3 L164.8,157.0 L165.2,156.8 L165.7,156.5 L166.1,156.3 L166.5,156.0 L166.9,155.7 L167.2,155.4 L167.6,155.1 L167.9,154.8 L168.2,154.6 L168.5,154.5 L168.8,154.6 L169.0,154.8 L169.2,155.1 L169.4,155.3 L169.6,155.4 L169.8,155.2 L170.0,154.7 L170.1,153.9 L170.3,152.9 L170.4,151.9 L170.6,150.9 L170.7,150.0 L170.8,149.3 L171.0,148.5 L171.1,147.9 L171.2,147.2 L171.4,146.6 L171.5,145.9 L171.7,145.2 L171.8,144.5 L172.0,143.8 L172.1,143.1 L172.3,142.5 L172.5,142.0 L172.7,141.6 L172.9,141.2 L173.1,140.9 L173.2,140.6 L173.5,140.4 L173.7,140.3 L174.0,140.2 L174.3,140.3 L174.6,140.3 L174.9,140.5 L175.2,140.7 L175.5,141.0 L175.8,141.4 L176.1,141.8 L176.4,142.3 L176.8,142.9 L177.1,143.5 L177.4,144.2 L177.7,144.9 L178.0,145.6 L178.3,146.4 L178.6,147.2 L178.9,148.1 L179.2,149.0 L179.5,149.9 L179.8,150.9 L180.0,152.0 L180.3,153.0 L180.6,154.1 L180.8,155.2 L181.0,156.3 L181.2,157.4 L181.4,158.5 L181.6,159.6 L181.8,160.8 L182.0,162.0 L182.2,163.3 L182.4,164.7 L182.6,166.1 L182.8,167.5 L183.0,169.0 L183.3,170.4 L183.7,171.8 L184.1,173.3 L184.6,174.8 L185.1,176.2 L185.5,177.6 L185.9,178.9 L186.2,180.1 L186.5,181.2 L186.8,182.2 L187.1,183.2 L187.3,184.1 L187.6,185.0 L187.9,185.8 L188.2,186.5 L188.5,187.1 L188.7,187.7 L189.0,188.3 L189.3,189.0 L189.6,189.7 L189.9,190.4 L190.1,191.2 L190.4,191.9 L190.7,192.7 L190.9,193.4 L191.1,194.1 L191.4,194.8 L191.6,195.5 L191.8,196.2 L192.0,196.9 L192.2,197.5 L192.4,198.2 L192.6,199.0 L192.8,199.8 L193.0,200.4 L193.2,200.9 L193.5,201.0 L193.8,200.8 L194.2,200.2 L194.7,199.4 L195.1,198.5 L195.6,197.7 L196.0,197.0 L196.4,196.4 L196.8,195.9 L197.2,195.3 L197.7,194.9 L198.1,194.5 L198.5,194.3 L198.9,194.2 L199.4,194.2 L199.8,194.3 L200.2,194.6 L200.6,194.8 L201.0,195.2 L201.3,195.7 L201.7,196.3 L201.9,196.9 L202.2,197.6 L202.5,198.3 L202.8,199.0 L203.1,199.7 L203.3,200.5 L203.6,201.3 L203.9,201.9 L204.2,202.5 L204.5,202.7 L204.9,202.6 L205.3,202.3 L205.7,201.7 L206.1,201.1 L206.6,200.5 L207.0,200.0 L207.4,199.6 L207.8,199.1 L208.2,198.6 L208.7,198.2 L209.1,197.9 L209.5,197.7 L209.9,197.7 L210.3,197.9 L210.7,198.1 L211.2,198.4 L211.6,198.7 L212.0,199.0 L212.4,199.2 L212.8,199.4 L213.2,199.6 L213.7,199.8 L214.1,200.0 L214.6,200.2 L215.1,200.4 L215.7,200.7 L216.3,201.0 L216.9,201.1 L217.5,201.2 L218.0,201.0 L218.4,200.4 L218.8,199.5 L219.1,198.5 L219.4,197.5 L219.7,196.7 L220.1,196.5 L220.5,196.8 L220.9,197.6 L221.3,198.6 L221.7,199.7 L222.1,200.9 L222.5,202.0 L222.9,203.0 L223.4,204.1 L223.8,205.2 L224.2,206.3 L224.7,207.4 L225.1,208.5 L225.5,209.6 L225.9,210.6 L226.3,211.7 L226.7,212.7 L227.1,213.8 L227.5,215.0 L227.9,216.3 L228.4,217.7 L228.8,219.1 L229.2,220.5 L229.7,221.8 L230.2,222.9 L230.7,223.9 L231.2,224.7 L231.8,225.5 L232.4,226.2 L232.9,226.9 L233.5,227.5 L234.1,228.1 L234.7,228.8 L235.2,229.3 L235.8,229.8 L236.4,230.2 L237.0,230.5 L237.6,230.6 L238.1,230.4 L238.7,230.2 L239.3,229.9 L239.8,229.7 L240.3,229.6 L240.8,229.7 L241.2,229.8 L241.6,230.0 L242.0,230.2 L242.4,230.4 L242.9,230.5 L243.4,230.5 L244.0,230.6 L244.7,230.5 L245.3,230.5 L245.8,230.3 L246.3,230.1 L246.7,229.7 L247.0,229.2 L247.3,228.7 L247.5,228.1 L247.7,227.5 L248.0,227.0 L248.3,226.6 L248.5,226.1 L248.8,225.7 L249.0,225.4 L249.3,225.0 L249.6,224.6 L250.0,224.2 L250.3,223.8 L250.7,223.5 L251.1,223.1 L251.6,222.8 L252.0,222.5 L252.4,222.2 L252.9,221.9 L253.3,221.6 L253.8,221.3 L254.3,221.2 L254.7,221.2 L255.1,221.5 L255.5,222.1 L255.9,222.8 L256.3,223.4 L256.7,223.8 L257.2,223.7 L257.7,223.1 L258.3,222.2 L258.8,220.9 L259.4,219.6 L260.0,218.2 L260.6,217.0 L261.2,215.9 L261.8,214.8 L262.4,213.6 L263.0,212.5 L263.6,211.4 L264.0,210.2 L264.3,209.0 L264.6,207.9 L264.8,206.7 L265.0,205.5 L265.1,204.3 L265.3,203.0 L265.5,201.7 L265.7,200.3 L265.8,198.8 L266.0,197.4 L266.2,196.1 L266.5,195.0 L266.8,193.9 L267.1,192.8 L267.5,191.9 L267.9,191.1 L268.3,190.5 L268.7,190.4 L269.1,190.8 L269.6,191.6 L270.1,192.7 L270.6,193.9 L271.0,195.0 L271.5,196.0 L272.0,196.9 L272.4,197.9 L272.9,198.8 L273.3,199.5 L273.7,200.1 L274.1,200.2 L274.4,199.9 L274.7,199.1 L275.0,198.1 L275.3,197.0 L275.5,195.9 L275.8,195.0 L276.1,194.2 L276.3,193.5 L276.5,192.9 L276.8,192.1 L277.1,191.3 L277.5,190.4 L278.0,189.2 L278.5,187.7 L279.1,186.1 L279.7,184.6 L280.3,183.5 L280.9,182.8 L281.5,182.7 L282.1,183.1 L282.7,183.7 L283.3,184.6 L283.8,185.4 L284.3,186.2 L284.7,186.9 L285.0,187.7 L285.3,188.5 L285.5,189.4 L285.7,190.2 L286.0,191.0 L286.3,191.8 L286.5,192.7 L286.7,193.5 L287.0,194.3 L287.3,195.0 L287.6,195.5 L288.0,195.8 L288.4,196.0 L288.8,196.1 L289.2,196.1 L289.7,196.0 L290.2,195.8 L290.7,195.5 L291.3,195.0 L291.8,194.4 L292.4,193.8 L293.0,193.3 L293.5,192.9 L294.0,192.7 L294.4,192.8 L294.8,192.9 L295.2,192.9 L295.6,192.7 L296.1,192.1 L296.6,191.0 L297.2,189.5 L297.8,187.8 L298.3,186.0 L298.9,184.3 L299.5,182.8 L300.1,181.6 L300.7,180.6 L301.2,179.7 L301.8,178.8 L302.3,177.9 L302.8,176.9 L303.2,175.8 L303.5,174.6 L303.8,173.4 L304.1,172.2 L304.3,171.1 L304.6,170.0 L304.9,169.0 L305.1,168.0 L305.4,167.0 L305.7,166.1 L305.9,165.3 L306.2,164.5 L306.5,163.8 L306.8,163.3 L307.1,162.8 L307.4,162.3 L307.7,161.9 L308.0,161.5 L308.3,161.1 L308.6,160.8 L309.0,160.5 L309.3,160.3 L309.8,160.0 L310.3,159.6 L311.0,159.2 L311.8,158.8 L312.7,158.4 L313.6,157.9 L314.4,157.4 L315.0,156.9 L315.5,156.4 L315.8,155.8 L316.1,155.2 L316.3,154.6 L316.5,153.8 L316.8,153.0 L317.1,152.0 L317.3,150.8 L317.6,149.6 L317.8,148.3 L318.1,147.2 L318.4,146.1 L318.7,145.1 L319.0,144.2 L319.4,143.3 L319.7,142.6 L320.1,141.9 L320.4,141.4 L320.7,141.0 L321.1,140.8 L321.4,140.7 L321.7,140.7 L322.1,140.8 L322.4,141.0 L322.7,141.4 L323.1,142.0 L323.4,142.7 L323.8,143.4 L324.2,144.2 L324.5,144.8 L324.8,145.4 L325.1,145.9 L325.5,146.4 L325.8,146.9 L326.1,147.3 L326.5,147.7 L326.9,148.0 L327.4,148.2 L327.9,148.3 L328.4,148.4 L328.8,148.5 L329.2,148.5 L329.5,148.5 L329.7,148.4 L329.9,148.3 L330.1,148.2 L330.2,148.2 L330.3,148.1" stroke="#ff2020"/>
</g>
<g clip-path="url(#cTL)" fill="none" stroke-width="1.15" stroke-linejoin="round">
<path d="M28.6,60.2 L28.9,59.7 L29.3,59.2 L29.6,58.6 L29.9,58.1 L30.3,57.6 L30.6,57.1 L30.9,56.5 L31.3,56.0 L31.6,55.5 L32.0,55.0 L32.3,54.4 L32.6,53.9 L33.0,53.4 L33.3,52.9 L33.6,52.4 L34.0,51.8 L34.3,51.3 L34.6,50.8 L35.0,50.3 L35.3,49.8 L35.6,49.3 L36.0,48.8 L36.3,48.3 L36.7,47.8 L37.0,47.3 L37.3,46.8 L37.7,46.3 L38.0,45.8 L38.3,45.3 L38.7,44.8 L39.0,44.3 L39.3,43.9 L39.7,43.4 L40.0,42.9 L40.3,42.5 L40.7,42.0 L41.0,41.5 L41.4,41.1 L41.7,40.6 L42.0,40.2 L42.4,39.7 L42.7,39.3 L43.0,38.8 L43.4,38.4 L43.7,38.0 L44.0,37.6 L44.4,37.1 L44.7,36.7 L45.0,36.3 L45.4,35.9 L45.7,35.5 L46.1,35.1 L46.4,34.7 L46.7,34.3 L47.1,33.9 L47.4,33.6 L47.7,33.2 L48.1,32.8 L48.4,32.5 L48.7,32.1 L49.1,31.7 L49.4,31.4 L49.7,31.1 L50.1,30.7 L50.4,30.4 L50.7,30.1 L51.1,29.8 L51.4,29.5 L51.8,29.1 L52.1,28.9 L52.4,28.6 L52.8,28.3 L53.1,28.0 L53.4,27.7 L53.8,27.5 L54.1,27.2 L54.4,26.9 L54.8,26.7 L55.1,26.5 L55.4,26.2 L55.8,26.0 L56.1,25.8 L56.5,25.6 L56.8,25.3 L57.1,25.1 L57.5,25.0 L57.8,24.8 L58.1,24.6 L58.5,24.4 L58.8,24.2 L59.1,24.1 L59.5,23.9 L59.8,23.8 L60.1,23.6 L60.5,23.5 L60.8,23.4 L61.2,23.3 L61.5,23.2 L61.8,23.1 L62.2,23.0 L62.5,22.9 L62.8,22.8 L63.2,22.7 L63.5,22.7 L63.8,22.6 L64.2,22.6 L64.5,22.5 L64.8,22.5 L65.2,22.5 L65.5,22.4 L65.9,22.4 L66.2,22.4 L66.5,22.4 L66.9,22.4 L67.2,22.4 L67.5,22.5 L67.9,22.5 L68.2,22.5 L68.5,22.6 L68.9,22.6 L69.2,22.7 L69.5,22.8 L69.9,22.8 L70.2,22.9 L70.5,23.0 L70.9,23.1 L71.2,23.2 L71.6,23.3 L71.9,23.4 L72.2,23.6 L72.6,23.7 L72.9,23.8 L73.2,24.0 L73.6,24.1 L73.9,24.3 L74.2,24.5 L74.6,24.6 L74.9,24.8 L75.2,25.0 L75.6,25.2 L75.9,25.4 L76.3,25.6 L76.6,25.8 L76.9,26.0 L77.3,26.3 L77.6,26.5 L77.9,26.8 L78.3,27.0 L78.6,27.3 L78.9,27.5 L79.3,27.8 L79.6,28.1 L79.9,28.3 L80.3,28.6 L80.6,28.9 L81.0,29.2 L81.3,29.5 L81.6,29.8 L82.0,30.2 L82.3,30.5 L82.6,30.8 L83.0,31.1 L83.3,31.5 L83.6,31.8 L84.0,32.2 L84.3,32.5 L84.6,32.9 L85.0,33.3 L85.3,33.6 L85.7,34.0 L86.0,34.4 L86.3,34.8 L86.7,35.2 L87.0,35.6 L87.3,36.0 L87.7,36.4 L88.0,36.8 L88.3,37.2 L88.7,37.7 L89.0,38.1 L89.3,38.5 L89.7,38.9 L90.0,39.4 L90.3,39.8 L90.7,40.3 L91.0,40.7 L91.4,41.2 L91.7,41.6 L92.0,42.1 L92.4,42.6 L92.7,43.0 L93.0,43.5 L93.4,44.0 L93.7,44.5 L94.0,44.9 L94.4,45.4 L94.7,45.9 L95.0,46.4 L95.4,46.9 L95.7,47.4 L96.1,47.9 L96.4,48.4 L96.7,48.9 L97.1,49.4 L97.4,49.9 L97.7,50.4 L98.1,50.9 L98.4,51.5 L98.7,52.0 L99.1,52.5 L99.4,53.0 L99.7,53.5 L100.1,54.0 L100.4,54.6 L100.8,55.1 L101.1,55.6 L101.4,56.1 L101.8,56.7 L102.1,57.2 L102.4,57.7 L102.8,58.2 L103.1,58.8 L103.4,59.3 L103.8,59.8 L104.1,60.4 L104.4,60.9 L104.8,61.4 L105.1,61.9 L105.5,62.5 L105.8,63.0 L106.1,63.5 L106.5,64.1 L106.8,64.6 L107.1,65.1 L107.5,65.6 L107.8,66.1 L108.1,66.7 L108.5,67.2 L108.8,67.7 L109.1,68.2 L109.5,68.7 L109.8,69.3 L110.1,69.8 L110.5,70.3 L110.8,70.8 L111.2,71.3 L111.5,71.8 L111.8,72.3 L112.2,72.8 L112.5,73.3 L112.8,73.8 L113.2,74.3 L113.5,74.8 L113.8,75.3 L114.2,75.7 L114.5,76.2 L114.8,76.7 L115.2,77.2 L115.5,77.6 L115.9,78.1 L116.2,78.6 L116.5,79.0 L116.9,79.5 L117.2,80.0 L117.5,80.4 L117.9,80.8 L118.2,81.3 L118.5,81.7 L118.9,82.2 L119.2,82.6 L119.5,83.0 L119.9,83.4 L120.2,83.8 L120.6,84.3 L120.9,84.7 L121.2,85.1 L121.6,85.5 L121.9,85.8 L122.2,86.2 L122.6,86.6 L122.9,87.0 L123.2,87.4 L123.6,87.7 L123.9,88.1 L124.2,88.4 L124.6,88.8 L124.9,89.1 L125.3,89.5 L125.6,89.8 L125.9,90.1 L126.3,90.5 L126.6,90.8 L126.9,91.1 L127.3,91.4 L127.6,91.7 L127.9,92.0 L128.3,92.3 L128.6,92.5 L128.9,92.8 L129.3,93.1 L129.6,93.3 L129.9,93.6 L130.3,93.8 L130.6,94.1 L131.0,94.3 L131.3,94.5 L131.6,94.7 L132.0,95.0 L132.3,95.2 L132.6,95.4 L133.0,95.6 L133.3,95.7 L133.6,95.9 L134.0,96.1 L134.3,96.3 L134.6,96.4 L135.0,96.6 L135.3,96.7 L135.7,96.8 L136.0,97.0 L136.3,97.1 L136.7,97.2 L137.0,97.3 L137.3,97.4 L137.7,97.5 L138.0,97.6 L138.3,97.7 L138.7,97.7 L139.0,97.8 L139.3,97.9 L139.7,97.9 L140.0,97.9 L140.4,98.0 L140.7,98.0 L141.0,98.0 L141.4,98.0 L141.7,98.0 L142.0,98.0 L142.4,98.0 L142.7,98.0 L143.0,98.0 L143.4,98.0 L143.7,97.9 L144.0,97.9 L144.4,97.8 L144.7,97.8 L145.1,97.7 L145.4,97.6 L145.7,97.5 L146.1,97.4 L146.4,97.3 L146.7,97.2 L147.1,97.1 L147.4,97.0 L147.7,96.9 L148.1,96.7 L148.4,96.6 L148.7,96.4 L149.1,96.3 L149.4,96.1 L149.7,96.0 L150.1,95.8 L150.4,95.6 L150.8,95.4 L151.1,95.2 L151.4,95.0 L151.8,94.8 L152.1,94.6 L152.4,94.4 L152.8,94.1 L153.1,93.9 L153.4,93.6 L153.8,93.4 L154.1,93.1 L154.4,92.9 L154.8,92.6 L155.1,92.3 L155.5,92.0 L155.8,91.7 L156.1,91.5 L156.5,91.2 L156.8,90.8 L157.1,90.5 L157.5,90.2 L157.8,89.9 L158.1,89.6 L158.5,89.2 L158.8,88.9 L159.1,88.5 L159.5,88.2 L159.8,87.8 L160.2,87.5 L160.5,87.1 L160.8,86.7 L161.2,86.3 L161.5,85.9 L161.8,85.6 L162.2,85.2 L162.5,84.8 L162.8,84.4 L163.2,83.9 L163.5,83.5 L163.8,83.1 L164.2,82.7 L164.5,82.3 L164.9,81.8 L165.2,81.4 L165.5,81.0 L165.9,80.5 L166.2,80.1 L166.5,79.6 L166.9,79.2 L167.2,78.7 L167.5,78.2 L167.9,77.8 L168.2,77.3 L168.5,76.8 L168.9,76.3 L169.2,75.9 L169.5,75.4 L169.9,74.9 L170.2,74.4 L170.6,73.9 L170.9,73.4 L171.2,72.9 L171.6,72.4 L171.9,71.9 L172.2,71.4 L172.6,70.9 L172.9,70.4 L173.2,69.9 L173.6,69.4 L173.9,68.9 L174.2,68.4 L174.6,67.8 L174.9,67.3 L175.3,66.8 L175.6,66.3 L175.9,65.8 L176.3,65.2 L176.6,64.7 L176.9,64.2 L177.3,63.7 L177.6,63.1 L177.9,62.6 L178.3,62.1 L178.6,61.5 L178.9,61.0 L179.3,60.5 L179.6,60.0 L180.0,59.4 L180.3,58.9 L180.6,58.4 L181.0,57.9 L181.3,57.3 L181.6,56.8 L182.0,56.3 L182.3,55.7 L182.6,55.2 L183.0,54.7 L183.3,54.2 L183.6,53.7 L184.0,53.1 L184.3,52.6 L184.7,52.1 L185.0,51.6 L185.3,51.1 L185.7,50.6 L186.0,50.0 L186.3,49.5 L186.7,49.0 L187.0,48.5 L187.3,48.0 L187.7,47.5 L188.0,47.0 L188.3,46.5 L188.7,46.0 L189.0,45.6 L189.4,45.1 L189.7,44.6 L190.0,44.1 L190.4,43.6 L190.7,43.2 L191.0,42.7 L191.4,42.2 L191.7,41.8 L192.0,41.3 L192.4,40.8 L192.7,40.4 L193.0,39.9 L193.4,39.5 L193.7,39.1 L194.0,38.6 L194.4,38.2 L194.7,37.8 L195.1,37.3 L195.4,36.9 L195.7,36.5 L196.1,36.1 L196.4,35.7 L196.7,35.3 L197.1,34.9 L197.4,34.5 L197.7,34.1 L198.1,33.7 L198.4,33.4 L198.7,33.0 L199.1,32.6 L199.4,32.3 L199.8,31.9 L200.1,31.6 L200.4,31.2 L200.8,30.9 L201.1,30.6 L201.4,30.2 L201.8,29.9 L202.1,29.6 L202.4,29.3 L202.8,29.0 L203.1,28.7 L203.4,28.4 L203.8,28.1 L204.1,27.9 L204.5,27.6 L204.8,27.3 L205.1,27.1 L205.5,26.8 L205.8,26.6 L206.1,26.3 L206.5,26.1 L206.8,25.9 L207.1,25.7 L207.5,25.4 L207.8,25.2 L208.1,25.0 L208.5,24.9 L208.8,24.7 L209.2,24.5 L209.5,24.3 L209.8,24.2 L210.2,24.0 L210.5,23.9 L210.8,23.7 L211.2,23.6 L211.5,23.5 L211.8,23.3 L212.2,23.2 L212.5,23.1 L212.8,23.0 L213.2,22.9 L213.5,22.8 L213.8,22.8 L214.2,22.7 L214.5,22.6 L214.9,22.6 L215.2,22.5 L215.5,22.5 L215.9,22.5 L216.2,22.4 L216.5,22.4 L216.9,22.4 L217.2,22.4 L217.5,22.4 L217.9,22.4 L218.2,22.4 L218.5,22.5 L218.9,22.5 L219.2,22.5 L219.6,22.6 L219.9,22.7 L220.2,22.7 L220.6,22.8 L220.9,22.9 L221.2,23.0 L221.6,23.0 L221.9,23.1 L222.2,23.3 L222.6,23.4 L222.9,23.5 L223.2,23.6 L223.6,23.8 L223.9,23.9 L224.3,24.0 L224.6,24.2 L224.9,24.4 L225.3,24.5 L225.6,24.7 L225.9,24.9 L226.3,25.1 L226.6,25.3 L226.9,25.5 L227.3,25.7 L227.6,25.9 L227.9,26.2 L228.3,26.4 L228.6,26.6 L229.0,26.9 L229.3,27.1 L229.6,27.4 L230.0,27.7 L230.3,27.9 L230.6,28.2 L231.0,28.5 L231.3,28.8 L231.6,29.1 L232.0,29.4 L232.3,29.7 L232.6,30.0 L233.0,30.3 L233.3,30.6 L233.6,31.0 L234.0,31.3 L234.3,31.7 L234.7,32.0 L235.0,32.4 L235.3,32.7 L235.7,33.1 L236.0,33.5 L236.3,33.8 L236.7,34.2 L237.0,34.6 L237.3,35.0 L237.7,35.4 L238.0,35.8 L238.3,36.2 L238.7,36.6 L239.0,37.0 L239.4,37.4 L239.7,37.9 L240.0,38.3 L240.4,38.7 L240.7,39.2 L241.0,39.6 L241.4,40.1 L241.7,40.5 L242.0,41.0 L242.4,41.4 L242.7,41.9 L243.0,42.3 L243.4,42.8 L243.7,43.3 L244.1,43.8 L244.4,44.2 L244.7,44.7 L245.1,45.2 L245.4,45.7 L245.7,46.2 L246.1,46.7 L246.4,47.2 L246.7,47.7 L247.1,48.2 L247.4,48.7 L247.7,49.2 L248.1,49.7 L248.4,50.2 L248.8,50.7 L249.1,51.2 L249.4,51.7 L249.8,52.2 L250.1,52.7 L250.4,53.3 L250.8,53.8 L251.1,54.3 L251.4,54.8 L251.8,55.4 L252.1,55.9 L252.4,56.4 L252.8,56.9 L253.1,57.5 L253.4,58.0 L253.8,58.5 L254.1,59.0 L254.5,59.6 L254.8,60.1 L255.1,60.6 L255.5,61.2 L255.8,61.7 L256.1,62.2 L256.5,62.7 L256.8,63.3 L257.1,63.8 L257.5,64.3 L257.8,64.8 L258.1,65.4 L258.5,65.9 L258.8,66.4 L259.2,66.9 L259.5,67.5 L259.8,68.0 L260.2,68.5 L260.5,69.0 L260.8,69.5 L261.2,70.0 L261.5,70.5 L261.8,71.0 L262.2,71.5 L262.5,72.1 L262.8,72.6 L263.2,73.1 L263.5,73.5 L263.9,74.0 L264.2,74.5 L264.5,75.0 L264.9,75.5 L265.2,76.0 L265.5,76.5 L265.9,76.9 L266.2,77.4 L266.5,77.9 L266.9,78.3 L267.2,78.8 L267.5,79.3 L267.9,79.7 L268.2,80.2 L268.6,80.6 L268.9,81.1 L269.2,81.5 L269.6,81.9 L269.9,82.4 L270.2,82.8 L270.6,83.2 L270.9,83.6 L271.2,84.0 L271.6,84.5 L271.9,84.9 L272.2,85.3 L272.6,85.7 L272.9,86.0 L273.2,86.4 L273.6,86.8 L273.9,87.2 L274.3,87.5 L274.6,87.9 L274.9,88.3 L275.3,88.6 L275.6,89.0 L275.9,89.3 L276.3,89.6 L276.6,90.0 L276.9,90.3 L277.3,90.6 L277.6,90.9 L277.9,91.2 L278.3,91.5 L278.6,91.8 L279.0,92.1 L279.3,92.4 L279.6,92.7 L280.0,92.9 L280.3,93.2 L280.6,93.5 L281.0,93.7 L281.3,93.9 L281.6,94.2 L282.0,94.4 L282.3,94.6 L282.6,94.8 L283.0,95.1 L283.3,95.3 L283.7,95.5 L284.0,95.6 L284.3,95.8 L284.7,96.0 L285.0,96.2 L285.3,96.3 L285.7,96.5 L286.0,96.6 L286.3,96.8 L286.7,96.9 L287.0,97.0 L287.3,97.1 L287.7,97.3 L288.0,97.4 L288.4,97.5 L288.7,97.5 L289.0,97.6 L289.4,97.7 L289.7,97.8 L290.0,97.8 L290.4,97.9 L290.7,97.9 L291.0,98.0 L291.4,98.0 L291.7,98.0 L292.0,98.0 L292.4,98.0 L292.7,98.0 L293.0,98.0 L293.4,98.0 L293.7,98.0 L294.1,98.0 L294.4,97.9 L294.7,97.9 L295.1,97.8 L295.4,97.8 L295.7,97.7 L296.1,97.6 L296.4,97.6 L296.7,97.5 L297.1,97.4 L297.4,97.3 L297.7,97.2 L298.1,97.1 L298.4,96.9 L298.8,96.8 L299.1,96.7 L299.4,96.5 L299.8,96.4 L300.1,96.2 L300.4,96.0 L300.8,95.9 L301.1,95.7 L301.4,95.5 L301.8,95.3 L302.1,95.1 L302.4,94.9 L302.8,94.7 L303.1,94.5 L303.5,94.2 L303.8,94.0 L304.1,93.8 L304.5,93.5 L304.8,93.3 L305.1,93.0 L305.5,92.7 L305.8,92.5 L306.1,92.2 L306.5,91.9 L306.8,91.6 L307.1,91.3 L307.5,91.0 L307.8,90.7 L308.2,90.4 L308.5,90.1 L308.8,89.7 L309.2,89.4 L309.5,89.1 L309.8,88.7 L310.2,88.4 L310.5,88.0 L310.8,87.6 L311.2,87.3 L311.5,86.9 L311.8,86.5 L312.2,86.1 L312.5,85.8 L312.8,85.4 L313.2,85.0 L313.5,84.6 L313.9,84.2 L314.2,83.7 L314.5,83.3 L314.9,82.9 L315.2,82.5 L315.5,82.0 L315.9,81.6 L316.2,81.2 L316.5,80.7 L316.9,80.3 L317.2,79.8 L317.5,79.4 L317.9,78.9 L318.2,78.5 L318.6,78.0 L318.9,77.5 L319.2,77.1 L319.6,76.6 L319.9,76.1 L320.2,75.6 L320.6,75.1 L320.9,74.7 L321.2,74.2 L321.6,73.7 L321.9,73.2 L322.2,72.7 L322.6,72.2 L322.9,71.7 L323.3,71.2 L323.6,70.7 L323.9,70.2 L324.3,69.6 L324.6,69.1 L324.9,68.6 L325.3,68.1 L325.6,67.6 L325.9,67.1 L326.3,66.5 L326.6,66.0 L326.9,65.5 L327.3,65.0 L327.6,64.4 L328.0,63.9 L328.3,63.4 L328.6,62.9 L329.0,62.3 L329.3,61.8 L329.6,61.3 L330.0,60.8 L330.3,60.2" stroke="#1e1e1e" stroke-dasharray="3.6,2.9" stroke-width="1.15"/>
<path d="M28.6,60.2 L28.9,60.2 L29.3,60.1 L29.6,60.0 L29.9,60.0 L30.3,59.9 L30.6,59.9 L30.9,59.8 L31.3,59.8 L31.6,59.8 L32.0,59.9 L32.3,59.9 L32.6,59.9 L33.0,59.8 L33.3,59.6 L33.6,59.3 L34.0,58.8 L34.3,58.2 L34.6,57.5 L35.0,56.8 L35.3,56.1 L35.6,55.4 L36.0,54.8 L36.3,54.1 L36.7,53.4 L37.0,52.8 L37.3,52.1 L37.7,51.3 L38.0,50.6 L38.3,49.8 L38.7,49.0 L39.0,48.3 L39.3,47.5 L39.7,46.9 L40.0,46.2 L40.3,45.6 L40.7,45.1 L41.0,44.5 L41.4,44.0 L41.7,43.4 L42.0,42.8 L42.4,42.3 L42.7,41.7 L43.0,41.2 L43.4,40.7 L43.7,40.1 L44.0,39.6 L44.4,39.1 L44.7,38.6 L45.0,38.1 L45.4,37.6 L45.7,37.1 L46.1,36.6 L46.4,36.1 L46.7,35.6 L47.1,35.2 L47.4,34.7 L47.7,34.3 L48.1,33.9 L48.4,33.4 L48.7,33.1 L49.1,32.7 L49.4,32.4 L49.7,32.1 L50.1,31.8 L50.4,31.5 L50.7,31.2 L51.1,30.9 L51.4,30.6 L51.8,30.2 L52.1,29.7 L52.4,29.3 L52.8,28.9 L53.1,28.6 L53.4,28.3 L53.8,28.1 L54.1,27.8 L54.4,27.6 L54.8,27.4 L55.1,27.3 L55.4,27.1 L55.8,26.9 L56.1,26.7 L56.5,26.6 L56.8,26.5 L57.1,26.6 L57.5,26.9 L57.8,27.2 L58.1,27.4 L58.5,27.7 L58.8,28.0 L59.1,28.1 L59.5,28.1 L59.8,28.0 L60.1,27.9 L60.5,27.8 L60.8,27.7 L61.2,27.6 L61.5,27.4 L61.8,27.3 L62.2,27.2 L62.5,27.1 L62.8,27.0 L63.2,26.9 L63.5,26.9 L63.8,26.7 L64.2,26.6 L64.5,26.4 L64.8,26.2 L65.2,26.1 L65.5,26.0 L65.9,25.9 L66.2,25.7 L66.5,25.6 L66.9,25.4 L67.2,25.2 L67.5,25.1 L67.9,25.0 L68.2,25.0 L68.5,25.0 L68.9,25.0 L69.2,25.1 L69.5,25.1 L69.9,25.2 L70.2,25.3 L70.5,25.4 L70.9,25.5 L71.2,25.5 L71.6,25.5 L71.9,25.5 L72.2,25.5 L72.6,25.4 L72.9,25.4 L73.2,25.4 L73.6,25.4 L73.9,25.3 L74.2,25.2 L74.6,25.1 L74.9,25.0 L75.2,25.0 L75.6,25.0 L75.9,25.0 L76.3,25.2 L76.6,25.4 L76.9,25.6 L77.3,25.8 L77.6,26.0 L77.9,26.2 L78.3,26.4 L78.6,26.7 L78.9,26.9 L79.3,27.2 L79.6,27.4 L79.9,27.6 L80.3,27.9 L80.6,28.1 L81.0,28.3 L81.3,28.5 L81.6,28.7 L82.0,28.9 L82.3,29.1 L82.6,29.3 L83.0,29.4 L83.3,29.5 L83.6,29.7 L84.0,29.8 L84.3,29.9 L84.6,30.0 L85.0,30.2 L85.3,30.4 L85.7,30.9 L86.0,31.4 L86.3,32.0 L86.7,32.5 L87.0,33.1 L87.3,33.7 L87.7,34.2 L88.0,34.7 L88.3,35.1 L88.7,35.3 L89.0,35.6 L89.3,35.8 L89.7,36.1 L90.0,36.3 L90.3,36.6 L90.7,36.9 L91.0,37.2 L91.4,37.6 L91.7,38.0 L92.0,38.4 L92.4,38.8 L92.7,39.3 L93.0,39.7 L93.4,40.2 L93.7,40.7 L94.0,41.2 L94.4,41.7 L94.7,42.1 L95.0,42.6 L95.4,43.1 L95.7,43.6 L96.1,44.2 L96.4,44.8 L96.7,45.4 L97.1,46.1 L97.4,46.8 L97.7,47.5 L98.1,48.1 L98.4,48.8 L98.7,49.4 L99.1,50.1 L99.4,50.8 L99.7,51.4 L100.1,52.1 L100.4,52.8 L100.8,53.4 L101.1,54.0 L101.4,54.6 L101.8,55.3 L102.1,55.9 L102.4,56.5 L102.8,57.1 L103.1,57.7 L103.4,58.4 L103.8,59.0 L104.1,59.6 L104.4,60.3 L104.8,60.9 L105.1,61.6 L105.5,62.2 L105.8,62.8 L106.1,63.4 L106.5,64.1 L106.8,64.7 L107.1,65.3 L107.5,65.8 L107.8,66.4 L108.1,67.0 L108.5,67.6 L108.8,68.1 L109.1,68.7 L109.5,69.3 L109.8,69.8 L110.1,70.3 L110.5,70.9 L110.8,71.4 L111.2,71.8 L111.5,72.2 L111.8,72.6 L112.2,72.9 L112.5,73.4 L112.8,74.0 L113.2,74.8 L113.5,75.7 L113.8,76.5 L114.2,77.4 L114.5,78.2 L114.8,79.0 L115.2,79.7 L115.5,80.4 L115.9,81.0 L116.2,81.6 L116.5,82.2 L116.9,82.8 L117.2,83.4 L117.5,83.9 L117.9,84.4 L118.2,84.8 L118.5,85.3 L118.9,85.8 L119.2,86.2 L119.5,86.6 L119.9,87.0 L120.2,87.3 L120.6,87.7 L120.9,88.0 L121.2,88.3 L121.6,88.6 L121.9,89.0 L122.2,89.4 L122.6,89.9 L122.9,90.4 L123.2,90.8 L123.6,91.3 L123.9,91.8 L124.2,92.2 L124.6,92.7 L124.9,93.1 L125.3,93.5 L125.6,93.8 L125.9,94.1 L126.3,94.4 L126.6,94.7 L126.9,95.0 L127.3,95.3 L127.6,95.6 L127.9,96.0 L128.3,96.4 L128.6,96.7 L128.9,97.0 L129.3,97.3 L129.6,97.6 L129.9,97.9 L130.3,98.1 L130.6,98.4 L131.0,98.6 L131.3,98.9 L131.6,99.1 L132.0,99.3 L132.3,99.5 L132.6,99.7 L133.0,100.0 L133.3,100.2 L133.6,100.3 L134.0,100.5 L134.3,100.7 L134.6,101.0 L135.0,101.5 L135.3,102.0 L135.7,102.4 L136.0,102.9 L136.3,103.2 L136.7,103.4 L137.0,103.5 L137.3,103.5 L137.7,103.5 L138.0,103.5 L138.3,103.5 L138.7,103.4 L139.0,103.3 L139.3,103.2 L139.7,103.0 L140.0,102.9 L140.4,102.9 L140.7,102.8 L141.0,102.7 L141.4,102.6 L141.7,102.6 L142.0,102.6 L142.4,102.6 L142.7,102.6 L143.0,102.7 L143.4,102.7 L143.7,102.7 L144.0,102.7 L144.4,102.7 L144.7,102.7 L145.1,102.7 L145.4,102.6 L145.7,102.6 L146.1,102.5 L146.4,102.5 L146.7,102.4 L147.1,102.4 L147.4,102.3 L147.7,102.3 L148.1,102.2 L148.4,102.2 L148.7,102.2 L149.1,102.1 L149.4,102.1 L149.7,101.9 L150.1,101.6 L150.4,101.3 L150.8,100.9 L151.1,100.6 L151.4,100.4 L151.8,100.2 L152.1,100.1 L152.4,100.1 L152.8,100.0 L153.1,99.9 L153.4,99.9 L153.8,99.9 L154.1,99.9 L154.4,99.9 L154.8,100.0 L155.1,100.0 L155.5,100.1 L155.8,100.1 L156.1,100.1 L156.5,99.9 L156.8,99.7 L157.1,99.5 L157.5,99.3 L157.8,99.0 L158.1,98.8 L158.5,98.4 L158.8,98.1 L159.1,97.7 L159.5,97.3 L159.8,96.8 L160.2,96.4 L160.5,96.0 L160.8,95.5 L161.2,95.1 L161.5,94.7 L161.8,94.2 L162.2,93.8 L162.5,93.4 L162.8,93.0 L163.2,92.7 L163.5,92.3 L163.8,91.9 L164.2,91.6 L164.5,91.2 L164.9,90.8 L165.2,90.3 L165.5,89.9 L165.9,89.5 L166.2,89.1 L166.5,88.7 L166.9,88.3 L167.2,87.9 L167.5,87.4 L167.9,87.0 L168.2,86.6 L168.5,86.1 L168.9,85.6 L169.2,85.1 L169.5,84.6 L169.9,84.1 L170.2,83.9 L170.6,83.7 L170.9,83.5 L171.2,83.3 L171.6,83.0 L171.9,82.7 L172.2,82.4 L172.6,82.0 L172.9,81.6 L173.2,81.2 L173.6,80.7 L173.9,80.2 L174.2,79.7 L174.6,79.2 L174.9,78.6 L175.3,78.1 L175.6,77.5 L175.9,76.9 L176.3,76.3 L176.6,75.7 L176.9,75.1 L177.3,74.5 L177.6,73.8 L177.9,73.2 L178.3,72.6 L178.6,71.9 L178.9,71.2 L179.3,70.5 L179.6,69.8 L180.0,69.1 L180.3,68.4 L180.6,67.7 L181.0,66.9 L181.3,66.1 L181.6,65.3 L182.0,64.5 L182.3,63.7 L182.6,62.8 L183.0,61.9 L183.3,61.1 L183.6,60.4 L184.0,59.7 L184.3,59.0 L184.7,58.4 L185.0,57.7 L185.3,57.1 L185.7,56.4 L186.0,55.7 L186.3,55.1 L186.7,54.4 L187.0,53.7 L187.3,53.0 L187.7,52.4 L188.0,51.7 L188.3,51.1 L188.7,50.5 L189.0,49.9 L189.4,49.3 L189.7,48.7 L190.0,48.1 L190.4,47.5 L190.7,46.9 L191.0,46.3 L191.4,45.6 L191.7,45.0 L192.0,44.4 L192.4,43.8 L192.7,43.2 L193.0,42.6 L193.4,42.0 L193.7,41.6 L194.0,41.2 L194.4,40.9 L194.7,40.5 L195.1,40.2 L195.4,39.9 L195.7,39.6 L196.1,39.2 L196.4,38.9 L196.7,38.6 L197.1,38.2 L197.4,37.9 L197.7,37.6 L198.1,37.2 L198.4,36.9 L198.7,36.5 L199.1,36.1 L199.4,35.8 L199.8,35.4 L200.1,35.0 L200.4,34.7 L200.8,34.3 L201.1,33.9 L201.4,33.5 L201.8,33.1 L202.1,32.7 L202.4,32.2 L202.8,31.8 L203.1,31.4 L203.4,31.0 L203.8,30.6 L204.1,30.2 L204.5,29.9 L204.8,29.6 L205.1,29.4 L205.5,29.2 L205.8,29.0 L206.1,28.8 L206.5,28.7 L206.8,28.5 L207.1,28.4 L207.5,28.2 L207.8,28.1 L208.1,27.9 L208.5,27.8 L208.8,27.6 L209.2,27.5 L209.5,27.3 L209.8,27.2 L210.2,27.0 L210.5,26.8 L210.8,26.7 L211.2,26.5 L211.5,26.3 L211.8,26.2 L212.2,26.0 L212.5,25.9 L212.8,25.8 L213.2,25.7 L213.5,25.6 L213.8,25.5 L214.2,25.4 L214.5,25.3 L214.9,25.2 L215.2,25.2 L215.5,25.1 L215.9,25.1 L216.2,25.0 L216.5,25.0 L216.9,25.0 L217.2,25.0 L217.5,25.0 L217.9,25.0 L218.2,25.0 L218.5,25.1 L218.9,25.3 L219.2,25.5 L219.6,25.7 L219.9,25.8 L220.2,25.9 L220.6,25.9 L220.9,25.9 L221.2,25.9 L221.6,25.8 L221.9,25.8 L222.2,25.7 L222.6,25.7 L222.9,25.7 L223.2,25.7 L223.6,25.8 L223.9,25.8 L224.3,25.8 L224.6,25.8 L224.9,25.9 L225.3,25.9 L225.6,26.0 L225.9,26.0 L226.3,26.1 L226.6,26.2 L226.9,26.2 L227.3,26.3 L227.6,26.4 L227.9,26.5 L228.3,26.5 L228.6,26.6 L229.0,26.7 L229.3,26.8 L229.6,26.9 L230.0,27.1 L230.3,27.3 L230.6,27.4 L231.0,27.6 L231.3,27.9 L231.6,28.1 L232.0,28.3 L232.3,28.6 L232.6,28.8 L233.0,29.1 L233.3,29.4 L233.6,29.6 L234.0,29.9 L234.3,30.2 L234.7,30.5 L235.0,30.8 L235.3,31.1 L235.7,31.4 L236.0,31.8 L236.3,32.1 L236.7,32.5 L237.0,32.9 L237.3,33.3 L237.7,33.7 L238.0,34.1 L238.3,34.5 L238.7,34.9 L239.0,35.4 L239.4,35.8 L239.7,36.2 L240.0,36.7 L240.4,37.1 L240.7,37.5 L241.0,38.0 L241.4,38.4 L241.7,38.8 L242.0,39.2 L242.4,39.7 L242.7,40.1 L243.0,40.6 L243.4,41.1 L243.7,41.5 L244.1,42.0 L244.4,42.5 L244.7,43.0 L245.1,43.5 L245.4,44.0 L245.7,44.5 L246.1,45.0 L246.4,45.5 L246.7,46.0 L247.1,46.6 L247.4,47.2 L247.7,47.8 L248.1,48.4 L248.4,49.0 L248.8,49.6 L249.1,50.2 L249.4,50.8 L249.8,51.4 L250.1,51.9 L250.4,52.5 L250.8,53.1 L251.1,53.6 L251.4,54.2 L251.8,54.7 L252.1,55.3 L252.4,55.9 L252.8,56.4 L253.1,57.0 L253.4,57.5 L253.8,58.1 L254.1,58.6 L254.5,59.2 L254.8,59.7 L255.1,60.2 L255.5,60.7 L255.8,61.1 L256.1,61.6 L256.5,62.0 L256.8,62.5 L257.1,63.0 L257.5,63.6 L257.8,64.1 L258.1,64.7 L258.5,65.4 L258.8,66.0 L259.2,66.6 L259.5,67.3 L259.8,67.9 L260.2,68.6 L260.5,69.2 L260.8,69.8 L261.2,70.4 L261.5,71.0 L261.8,71.6 L262.2,72.1 L262.5,72.7 L262.8,73.3 L263.2,73.9 L263.5,74.5 L263.9,75.2 L264.2,75.8 L264.5,76.6 L264.9,77.3 L265.2,78.1 L265.5,78.9 L265.9,79.8 L266.2,80.6 L266.5,81.3 L266.9,81.9 L267.2,82.5 L267.5,83.1 L267.9,83.7 L268.2,84.2 L268.6,84.7 L268.9,85.1 L269.2,85.5 L269.6,85.9 L269.9,86.2 L270.2,86.5 L270.6,86.8 L270.9,87.1 L271.2,87.4 L271.6,87.7 L271.9,88.0 L272.2,88.3 L272.6,88.6 L272.9,88.9 L273.2,89.2 L273.6,89.5 L273.9,89.8 L274.3,90.2 L274.6,90.7 L274.9,91.2 L275.3,91.7 L275.6,92.3 L275.9,92.8 L276.3,93.2 L276.6,93.7 L276.9,94.2 L277.3,94.6 L277.6,95.0 L277.9,95.5 L278.3,95.9 L278.6,96.4 L279.0,96.8 L279.3,97.2 L279.6,97.6 L280.0,98.0 L280.3,98.3 L280.6,98.6 L281.0,98.9 L281.3,99.1 L281.6,99.3 L282.0,99.5 L282.3,99.7 L282.6,99.9 L283.0,100.0 L283.3,100.2 L283.7,100.3 L284.0,100.4 L284.3,100.5 L284.7,100.6 L285.0,100.6 L285.3,100.6 L285.7,100.6 L286.0,100.6 L286.3,100.6 L286.7,100.6 L287.0,100.5 L287.3,100.5 L287.7,100.6 L288.0,100.7 L288.4,100.8 L288.7,100.8 L289.0,100.9 L289.4,101.0 L289.7,101.1 L290.0,101.1 L290.4,101.2 L290.7,101.2 L291.0,101.3 L291.4,101.4 L291.7,101.5 L292.0,101.5 L292.4,101.6 L292.7,101.7 L293.0,101.7 L293.4,101.7 L293.7,101.7 L294.1,101.7 L294.4,101.7 L294.7,101.7 L295.1,101.6 L295.4,101.6 L295.7,101.5 L296.1,101.5 L296.4,101.4 L296.7,101.4 L297.1,101.5 L297.4,101.5 L297.7,101.5 L298.1,101.6 L298.4,101.6 L298.8,101.7 L299.1,101.7 L299.4,101.7 L299.8,101.6 L300.1,101.6 L300.4,101.5 L300.8,101.4 L301.1,101.3 L301.4,101.2 L301.8,101.0 L302.1,100.9 L302.4,100.8 L302.8,100.7 L303.1,100.6 L303.5,100.6 L303.8,100.6 L304.1,100.5 L304.5,100.5 L304.8,100.4 L305.1,100.3 L305.5,100.2 L305.8,100.1 L306.1,100.0 L306.5,99.8 L306.8,99.6 L307.1,99.4 L307.5,99.2 L307.8,98.9 L308.2,98.7 L308.5,98.4 L308.8,98.1 L309.2,97.8 L309.5,97.5 L309.8,97.2 L310.2,96.9 L310.5,96.6 L310.8,96.2 L311.2,95.9 L311.5,95.5 L311.8,95.2 L312.2,94.8 L312.5,94.5 L312.8,94.1 L313.2,93.7 L313.5,93.3 L313.9,93.0 L314.2,92.6 L314.5,92.2 L314.9,91.8 L315.2,91.4 L315.5,91.1 L315.9,90.8 L316.2,90.4 L316.5,90.1 L316.9,89.8 L317.2,89.6 L317.5,89.3 L317.9,89.1 L318.2,88.9 L318.6,88.6 L318.9,88.3 L319.2,87.9 L319.6,87.6 L319.9,87.2 L320.2,86.8 L320.6,86.3 L320.9,85.9 L321.2,85.4 L321.6,84.9 L321.9,84.4 L322.2,83.9 L322.6,83.4 L322.9,82.9 L323.3,82.3 L323.6,81.6 L323.9,81.0 L324.3,80.4 L324.6,79.8 L324.9,79.2 L325.3,78.6 L325.6,78.0 L325.9,77.4 L326.3,76.8 L326.6,76.3 L326.9,75.7 L327.3,75.2 L327.6,74.6 L328.0,74.1 L328.3,73.6 L328.6,73.0 L329.0,72.5 L329.3,72.0 L329.6,71.5 L330.0,70.9 L330.3,70.4" stroke="#ff2020"/>
<path d="M28.6,60.2 L28.9,60.2 L29.3,60.2 L29.6,60.1 L29.9,60.1 L30.3,60.0 L30.6,59.9 L30.9,59.8 L31.3,59.8 L31.6,59.7 L32.0,59.5 L32.3,59.2 L32.6,58.9 L33.0,58.5 L33.3,58.1 L33.6,57.6 L34.0,57.1 L34.3,56.4 L34.6,55.6 L35.0,54.8 L35.3,53.7 L35.6,52.6 L36.0,51.7 L36.3,50.8 L36.7,49.9 L37.0,49.0 L37.3,48.0 L37.7,47.1 L38.0,46.1 L38.3,45.2 L38.7,44.3 L39.0,43.4 L39.3,42.5 L39.7,41.7 L40.0,40.8 L40.3,40.0 L40.7,39.3 L41.0,38.7 L41.4,38.2 L41.7,37.7 L42.0,37.4 L42.4,37.1 L42.7,36.8 L43.0,36.6 L43.4,36.4 L43.7,36.2 L44.0,36.1 L44.4,36.0 L44.7,36.0 L45.0,35.9 L45.4,35.8 L45.7,35.8 L46.1,35.6 L46.4,35.2 L46.7,34.7 L47.1,34.1 L47.4,33.6 L47.7,33.0 L48.1,32.5 L48.4,32.1 L48.7,31.7 L49.1,31.4 L49.4,31.1 L49.7,30.8 L50.1,30.6 L50.4,30.3 L50.7,30.0 L51.1,29.8 L51.4,29.5 L51.8,29.3 L52.1,29.0 L52.4,28.8 L52.8,28.5 L53.1,28.3 L53.4,28.1 L53.8,27.9 L54.1,27.7 L54.4,27.5 L54.8,27.3 L55.1,27.1 L55.4,26.9 L55.8,26.7 L56.1,26.5 L56.5,26.3 L56.8,26.1 L57.1,25.9 L57.5,25.8 L57.8,25.6 L58.1,25.5 L58.5,25.4 L58.8,25.3 L59.1,25.2 L59.5,25.1 L59.8,25.0 L60.1,25.0 L60.5,24.9 L60.8,24.9 L61.2,24.8 L61.5,24.8 L61.8,24.7 L62.2,24.7 L62.5,24.6 L62.8,24.6 L63.2,24.5 L63.5,24.5 L63.8,24.4 L64.2,24.3 L64.5,24.3 L64.8,24.2 L65.2,24.1 L65.5,24.0 L65.9,24.0 L66.2,23.9 L66.5,23.8 L66.9,23.8 L67.2,23.7 L67.5,23.7 L67.9,23.6 L68.2,23.6 L68.5,23.5 L68.9,23.5 L69.2,23.4 L69.5,23.4 L69.9,23.4 L70.2,23.4 L70.5,23.4 L70.9,23.3 L71.2,23.3 L71.6,23.3 L71.9,23.3 L72.2,23.3 L72.6,23.3 L72.9,23.3 L73.2,23.3 L73.6,23.4 L73.9,23.4 L74.2,23.5 L74.6,23.6 L74.9,23.7 L75.2,23.7 L75.6,23.9 L75.9,24.0 L76.3,24.1 L76.6,24.2 L76.9,24.4 L77.3,24.5 L77.6,24.7 L77.9,25.0 L78.3,25.2 L78.6,25.5 L78.9,25.8 L79.3,26.2 L79.6,26.5 L79.9,26.9 L80.3,27.2 L80.6,27.6 L81.0,28.0 L81.3,28.5 L81.6,29.0 L82.0,29.5 L82.3,30.0 L82.6,30.5 L83.0,31.0 L83.3,31.5 L83.6,32.0 L84.0,32.5 L84.3,33.0 L84.6,33.4 L85.0,33.7 L85.3,34.0 L85.7,34.4 L86.0,34.7 L86.3,35.0 L86.7,35.3 L87.0,35.7 L87.3,36.0 L87.7,36.3 L88.0,36.7 L88.3,37.0 L88.7,37.4 L89.0,37.7 L89.3,38.1 L89.7,38.6 L90.0,39.0 L90.3,39.5 L90.7,40.1 L91.0,40.7 L91.4,41.3 L91.7,41.9 L92.0,42.5 L92.4,43.0 L92.7,43.6 L93.0,44.2 L93.4,44.7 L93.7,45.3 L94.0,45.8 L94.4,46.4 L94.7,46.9 L95.0,47.4 L95.4,47.8 L95.7,48.3 L96.1,48.8 L96.4,49.3 L96.7,49.8 L97.1,50.3 L97.4,50.8 L97.7,51.4 L98.1,52.0 L98.4,52.7 L98.7,53.3 L99.1,53.9 L99.4,54.5 L99.7,55.0 L100.1,55.6 L100.4,56.2 L100.8,56.8 L101.1,57.3 L101.4,57.9 L101.8,58.4 L102.1,58.9 L102.4,59.4 L102.8,59.8 L103.1,60.2 L103.4,60.7 L103.8,61.1 L104.1,61.6 L104.4,62.0 L104.8,62.4 L105.1,62.8 L105.5,63.2 L105.8,63.5 L106.1,63.9 L106.5,64.3 L106.8,64.7 L107.1,65.1 L107.5,65.6 L107.8,66.1 L108.1,66.5 L108.5,67.0 L108.8,67.4 L109.1,67.9 L109.5,68.4 L109.8,68.8 L110.1,69.3 L110.5,69.8 L110.8,70.3 L111.2,70.8 L111.5,71.4 L111.8,71.9 L112.2,72.4 L112.5,73.0 L112.8,73.5 L113.2,74.1 L113.5,74.6 L113.8,75.1 L114.2,75.6 L114.5,76.1 L114.8,76.5 L115.2,76.9 L115.5,77.4 L115.9,77.8 L116.2,78.2 L116.5,78.6 L116.9,79.0 L117.2,79.4 L117.5,79.8 L117.9,80.2 L118.2,80.6 L118.5,81.0 L118.9,81.4 L119.2,81.8 L119.5,82.1 L119.9,82.5 L120.2,82.9 L120.6,83.3 L120.9,83.7 L121.2,84.1 L121.6,84.5 L121.9,84.9 L122.2,85.2 L122.6,85.6 L122.9,85.9 L123.2,86.3 L123.6,86.6 L123.9,86.9 L124.2,87.2 L124.6,87.5 L124.9,87.8 L125.3,88.1 L125.6,88.4 L125.9,88.7 L126.3,89.0 L126.6,89.2 L126.9,89.5 L127.3,89.7 L127.6,90.0 L127.9,90.3 L128.3,90.5 L128.6,90.8 L128.9,91.2 L129.3,91.6 L129.6,92.0 L129.9,92.5 L130.3,92.8 L130.6,93.2 L131.0,93.6 L131.3,94.0 L131.6,94.4 L132.0,94.7 L132.3,95.1 L132.6,95.5 L133.0,95.9 L133.3,96.2 L133.6,96.6 L134.0,96.9 L134.3,97.2 L134.6,97.5 L135.0,97.8 L135.3,98.0 L135.7,98.2 L136.0,98.4 L136.3,98.5 L136.7,98.5 L137.0,98.4 L137.3,98.4 L137.7,98.3 L138.0,98.3 L138.3,98.3 L138.7,98.2 L139.0,98.2 L139.3,98.2 L139.7,98.2 L140.0,98.1 L140.4,98.1 L140.7,98.1 L141.0,98.0 L141.4,98.0 L141.7,98.0 L142.0,97.9 L142.4,97.8 L142.7,97.8 L143.0,97.7 L143.4,97.6 L143.7,97.5 L144.0,97.4 L144.4,97.2 L144.7,97.1 L145.1,97.0 L145.4,96.8 L145.7,96.7 L146.1,96.6 L146.4,96.5 L146.7,96.4 L147.1,96.3 L147.4,96.2 L147.7,96.1 L148.1,96.0 L148.4,95.9 L148.7,95.8 L149.1,95.7 L149.4,95.6 L149.7,95.5 L150.1,95.4 L150.4,95.3 L150.8,95.2 L151.1,95.1 L151.4,95.1 L151.8,95.1 L152.1,95.0 L152.4,95.0 L152.8,95.0 L153.1,94.9 L153.4,94.8 L153.8,94.7 L154.1,94.6 L154.4,94.5 L154.8,94.4 L155.1,94.3 L155.5,94.0 L155.8,93.8 L156.1,93.5 L156.5,93.1 L156.8,92.7 L157.1,92.3 L157.5,91.8 L157.8,91.4 L158.1,90.9 L158.5,90.4 L158.8,89.9 L159.1,89.4 L159.5,89.0 L159.8,88.6 L160.2,88.3 L160.5,87.9 L160.8,87.6 L161.2,87.3 L161.5,87.0 L161.8,86.6 L162.2,86.2 L162.5,85.8 L162.8,85.2 L163.2,84.7 L163.5,84.0 L163.8,83.4 L164.2,82.8 L164.5,82.2 L164.9,81.5 L165.2,80.9 L165.5,80.2 L165.9,79.6 L166.2,78.9 L166.5,78.3 L166.9,77.6 L167.2,77.0 L167.5,76.3 L167.9,75.6 L168.2,75.0 L168.5,74.5 L168.9,74.0 L169.2,73.8 L169.5,73.5 L169.9,73.3 L170.2,73.0 L170.6,72.6 L170.9,72.3 L171.2,71.9 L171.6,71.5 L171.9,71.1 L172.2,70.7 L172.6,70.3 L172.9,69.9 L173.2,69.4 L173.6,69.0 L173.9,68.5 L174.2,68.1 L174.6,67.6 L174.9,67.2 L175.3,66.7 L175.6,66.3 L175.9,65.8 L176.3,65.3 L176.6,64.9 L176.9,64.4 L177.3,63.9 L177.6,63.3 L177.9,62.8 L178.3,62.2 L178.6,61.6 L178.9,61.0 L179.3,60.4 L179.6,59.8 L180.0,59.2 L180.3,58.6 L180.6,58.1 L181.0,57.6 L181.3,57.1 L181.6,56.6 L182.0,56.1 L182.3,55.7 L182.6,55.2 L183.0,54.7 L183.3,54.3 L183.6,53.8 L184.0,53.3 L184.3,52.8 L184.7,52.3 L185.0,51.7 L185.3,51.1 L185.7,50.5 L186.0,49.9 L186.3,49.4 L186.7,48.8 L187.0,48.1 L187.3,47.5 L187.7,46.9 L188.0,46.2 L188.3,45.6 L188.7,45.0 L189.0,44.4 L189.4,43.9 L189.7,43.4 L190.0,43.0 L190.4,42.5 L190.7,42.1 L191.0,41.6 L191.4,41.2 L191.7,40.8 L192.0,40.4 L192.4,40.0 L192.7,39.6 L193.0,39.2 L193.4,38.8 L193.7,38.5 L194.0,38.2 L194.4,38.1 L194.7,37.9 L195.1,37.7 L195.4,37.5 L195.7,37.3 L196.1,37.1 L196.4,36.9 L196.7,36.6 L197.1,36.2 L197.4,35.7 L197.7,35.3 L198.1,34.8 L198.4,34.3 L198.7,33.8 L199.1,33.4 L199.4,32.9 L199.8,32.5 L200.1,32.1 L200.4,31.7 L200.8,31.3 L201.1,31.0 L201.4,30.8 L201.8,30.5 L202.1,30.3 L202.4,30.1 L202.8,29.9 L203.1,29.7 L203.4,29.5 L203.8,29.2 L204.1,29.0 L204.5,28.8 L204.8,28.5 L205.1,28.2 L205.5,27.9 L205.8,27.6 L206.1,27.2 L206.5,26.9 L206.8,26.5 L207.1,26.2 L207.5,25.9 L207.8,25.6 L208.1,25.3 L208.5,25.0 L208.8,24.7 L209.2,24.4 L209.5,24.2 L209.8,23.9 L210.2,23.6 L210.5,23.4 L210.8,23.1 L211.2,22.9 L211.5,22.8 L211.8,22.6 L212.2,22.5 L212.5,22.4 L212.8,22.3 L213.2,22.3 L213.5,22.2 L213.8,22.2 L214.2,22.2 L214.5,22.2 L214.9,22.2 L215.2,22.2 L215.5,22.2 L215.9,22.2 L216.2,22.2 L216.5,22.3 L216.9,22.3 L217.2,22.4 L217.5,22.4 L217.9,22.5 L218.2,22.5 L218.5,22.6 L218.9,22.7 L219.2,22.7 L219.6,22.8 L219.9,22.9 L220.2,23.0 L220.6,23.1 L220.9,23.1 L221.2,23.2 L221.6,23.3 L221.9,23.4 L222.2,23.5 L222.6,23.5 L222.9,23.6 L223.2,23.7 L223.6,23.8 L223.9,23.9 L224.3,24.0 L224.6,24.1 L224.9,24.2 L225.3,24.3 L225.6,24.4 L225.9,24.5 L226.3,24.6 L226.6,24.7 L226.9,24.9 L227.3,25.0 L227.6,25.1 L227.9,25.2 L228.3,25.3 L228.6,25.5 L229.0,25.7 L229.3,25.9 L229.6,26.1 L230.0,26.4 L230.3,26.7 L230.6,27.1 L231.0,27.4 L231.3,27.8 L231.6,28.2 L232.0,28.6 L232.3,29.0 L232.6,29.3 L233.0,29.7 L233.3,30.1 L233.6,30.5 L234.0,30.9 L234.3,31.3 L234.7,31.7 L235.0,32.2 L235.3,32.6 L235.7,33.0 L236.0,33.4 L236.3,33.9 L236.7,34.3 L237.0,34.7 L237.3,35.1 L237.7,35.5 L238.0,36.0 L238.3,36.4 L238.7,36.8 L239.0,37.2 L239.4,37.7 L239.7,38.1 L240.0,38.6 L240.4,39.1 L240.7,39.6 L241.0,40.2 L241.4,40.8 L241.7,41.4 L242.0,42.1 L242.4,42.7 L242.7,43.3 L243.0,43.9 L243.4,44.5 L243.7,45.1 L244.1,45.6 L244.4,46.1 L244.7,46.5 L245.1,46.9 L245.4,47.2 L245.7,47.6 L246.1,48.0 L246.4,48.4 L246.7,48.8 L247.1,49.2 L247.4,49.7 L247.7,50.1 L248.1,50.6 L248.4,51.1 L248.8,51.7 L249.1,52.2 L249.4,52.8 L249.8,53.4 L250.1,53.9 L250.4,54.5 L250.8,55.0 L251.1,55.4 L251.4,55.9 L251.8,56.3 L252.1,56.7 L252.4,57.1 L252.8,57.5 L253.1,57.9 L253.4,58.3 L253.8,58.8 L254.1,59.2 L254.5,59.8 L254.8,60.3 L255.1,60.9 L255.5,61.5 L255.8,62.0 L256.1,62.6 L256.5,63.2 L256.8,63.7 L257.1,64.2 L257.5,64.8 L257.8,65.3 L258.1,65.8 L258.5,66.3 L258.8,66.8 L259.2,67.3 L259.5,67.8 L259.8,68.3 L260.2,68.9 L260.5,69.4 L260.8,70.0 L261.2,70.6 L261.5,71.2 L261.8,71.7 L262.2,72.3 L262.5,72.7 L262.8,73.2 L263.2,73.7 L263.5,74.1 L263.9,74.5 L264.2,74.9 L264.5,75.3 L264.9,75.7 L265.2,76.1 L265.5,76.5 L265.9,76.9 L266.2,77.3 L266.5,77.7 L266.9,78.1 L267.2,78.5 L267.5,78.9 L267.9,79.3 L268.2,79.7 L268.6,80.1 L268.9,80.6 L269.2,81.0 L269.6,81.4 L269.9,81.9 L270.2,82.3 L270.6,82.7 L270.9,83.1 L271.2,83.6 L271.6,84.0 L271.9,84.4 L272.2,84.8 L272.6,85.2 L272.9,85.6 L273.2,86.0 L273.6,86.3 L273.9,86.7 L274.3,87.0 L274.6,87.4 L274.9,87.7 L275.3,88.0 L275.6,88.4 L275.9,88.7 L276.3,89.0 L276.6,89.3 L276.9,89.7 L277.3,90.0 L277.6,90.3 L277.9,90.6 L278.3,91.0 L278.6,91.3 L279.0,91.6 L279.3,92.0 L279.6,92.3 L280.0,92.6 L280.3,92.9 L280.6,93.2 L281.0,93.5 L281.3,93.7 L281.6,94.0 L282.0,94.2 L282.3,94.3 L282.6,94.4 L283.0,94.4 L283.3,94.5 L283.7,94.5 L284.0,94.6 L284.3,94.6 L284.7,94.6 L285.0,94.6 L285.3,94.6 L285.7,94.6 L286.0,94.7 L286.3,94.7 L286.7,94.8 L287.0,94.9 L287.3,95.1 L287.7,95.2 L288.0,95.4 L288.4,95.6 L288.7,95.7 L289.0,95.8 L289.4,95.9 L289.7,96.0 L290.0,96.0 L290.4,96.1 L290.7,96.1 L291.0,96.2 L291.4,96.2 L291.7,96.2 L292.0,96.2 L292.4,96.2 L292.7,96.2 L293.0,96.3 L293.4,96.3 L293.7,96.3 L294.1,96.4 L294.4,96.4 L294.7,96.5 L295.1,96.6 L295.4,96.6 L295.7,96.7 L296.1,96.9 L296.4,97.0 L296.7,97.1 L297.1,97.2 L297.4,97.3 L297.7,97.3 L298.1,97.4 L298.4,97.4 L298.8,97.4 L299.1,97.5 L299.4,97.5 L299.8,97.5 L300.1,97.5 L300.4,97.5 L300.8,97.4 L301.1,97.4 L301.4,97.4 L301.8,97.3 L302.1,97.2 L302.4,97.2 L302.8,97.1 L303.1,97.0 L303.5,96.9 L303.8,96.8 L304.1,96.6 L304.5,96.4 L304.8,96.2 L305.1,95.9 L305.5,95.6 L305.8,95.2 L306.1,94.9 L306.5,94.5 L306.8,94.1 L307.1,93.7 L307.5,93.2 L307.8,92.7 L308.2,92.1 L308.5,91.4 L308.8,90.8 L309.2,90.2 L309.5,89.6 L309.8,88.9 L310.2,88.2 L310.5,87.6 L310.8,87.1 L311.2,86.6 L311.5,86.3 L311.8,85.9 L312.2,85.6 L312.5,85.3 L312.8,85.0 L313.2,84.7 L313.5,84.5 L313.9,84.2 L314.2,84.0 L314.5,83.8 L314.9,83.7 L315.2,83.5 L315.5,83.3 L315.9,83.0 L316.2,82.7 L316.5,82.4 L316.9,82.0 L317.2,81.5 L317.5,80.9 L317.9,80.3 L318.2,79.7 L318.6,79.0 L318.9,78.4 L319.2,77.8 L319.6,77.1 L319.9,76.4 L320.2,75.7 L320.6,75.1 L320.9,74.5 L321.2,73.9 L321.6,73.4 L321.9,72.8 L322.2,72.3 L322.6,71.8 L322.9,71.3 L323.3,70.8 L323.6,70.2 L323.9,69.7 L324.3,69.2 L324.6,68.7 L324.9,68.1 L325.3,67.6 L325.6,67.0 L325.9,66.5 L326.3,65.9 L326.6,65.4 L326.9,64.8 L327.3,64.3 L327.6,63.7 L328.0,63.2 L328.3,62.6 L328.6,62.0 L329.0,61.5 L329.3,60.9 L329.6,60.3 L330.0,59.8 L330.3,59.2" stroke="#1f1fff"/>
</g>
<g clip-path="url(#cBR)" fill="none" stroke-width="1.15" stroke-linejoin="round">
<path d="M381.4,204.3 L381.7,204.2 L382.0,203.9 L382.3,203.4 L382.6,202.7 L382.9,201.8 L383.2,200.7 L383.5,199.5 L383.8,198.1 L384.1,196.5 L384.4,194.8 L384.7,193.0 L385.0,191.1 L385.3,189.1 L385.6,187.0 L385.9,184.9 L386.2,182.8 L386.5,180.6 L386.8,178.4 L387.1,176.3 L387.4,174.2 L387.7,172.2 L388.0,170.3 L388.3,168.4 L388.6,166.7 L388.9,165.1 L389.2,163.7 L389.5,162.4 L389.8,161.2 L390.1,160.3 L390.4,159.5 L390.7,159.0 L391.0,158.6 L391.3,158.4 L391.6,158.4 L391.9,158.5 L392.2,158.7 L392.5,158.9 L392.8,159.3 L393.1,159.7 L393.4,160.1 L393.7,160.6 L394.0,161.3 L394.3,161.9 L394.6,162.7 L394.9,163.5 L395.2,164.4 L395.5,165.3 L395.8,166.3 L396.1,167.4 L396.4,168.5 L396.7,169.6 L397.0,170.9 L397.3,172.1 L397.6,173.5 L397.9,174.8 L398.2,176.3 L398.5,177.7 L398.8,179.2 L399.1,180.7 L399.4,182.3 L399.7,183.8 L400.0,185.4 L400.4,187.1 L400.7,188.7 L401.0,190.4 L401.3,192.0 L401.6,193.7 L401.9,195.4 L402.2,197.1 L402.5,198.8 L402.8,200.4 L403.1,202.1 L403.4,203.7 L403.7,205.4 L404.0,207.0 L404.3,208.6 L404.6,210.1 L404.9,211.7 L405.2,213.2 L405.5,214.7 L405.8,216.1 L406.1,217.5 L406.4,218.8 L406.7,220.1 L407.0,221.4 L407.3,222.6 L407.6,223.7 L407.9,224.8 L408.2,225.9 L408.5,226.8 L408.8,227.7 L409.1,228.6 L409.4,229.4 L409.7,230.1 L410.0,230.7 L410.3,231.3 L410.6,231.8 L410.9,232.2 L411.2,232.6 L411.5,232.9 L411.8,233.1 L412.1,233.2 L412.4,233.2 L412.7,233.2 L413.0,233.2 L413.3,233.1 L413.6,232.9 L413.9,232.7 L414.2,232.5 L414.5,232.2 L414.8,231.8 L415.1,231.4 L415.4,231.0 L415.7,230.5 L416.0,230.0 L416.3,229.5 L416.6,228.9 L416.9,228.3 L417.2,227.6 L417.5,226.9 L417.8,226.2 L418.1,225.4 L418.4,224.6 L418.7,223.8 L419.0,222.9 L419.3,222.0 L419.6,221.1 L419.9,220.2 L420.2,219.2 L420.5,218.3 L420.8,217.3 L421.1,216.3 L421.4,215.3 L421.7,214.3 L422.0,213.3 L422.3,212.3 L422.6,211.2 L422.9,210.2 L423.2,209.2 L423.5,208.2 L423.8,207.2 L424.1,206.2 L424.4,205.2 L424.7,204.2 L425.0,203.2 L425.3,202.3 L425.6,201.3 L425.9,200.4 L426.2,199.6 L426.5,198.7 L426.8,197.9 L427.1,197.1 L427.4,196.3 L427.7,195.5 L428.0,194.8 L428.3,194.2 L428.6,193.5 L428.9,192.9 L429.2,192.4 L429.5,191.9 L429.8,191.4 L430.1,190.9 L430.4,190.5 L430.7,190.2 L431.0,189.9 L431.3,189.6 L431.6,189.5 L431.9,189.3 L432.2,189.2 L432.5,189.1 L432.8,189.1 L433.1,189.1 L433.4,189.1 L433.7,189.2 L434.0,189.4 L434.3,189.5 L434.6,189.7 L434.9,189.9 L435.2,190.1 L435.5,190.3 L435.8,190.6 L436.1,190.8 L436.4,191.1 L436.7,191.3 L437.0,191.6 L437.3,191.8 L437.6,192.0 L438.0,192.3 L438.3,192.5 L438.6,192.7 L438.9,192.9 L439.2,193.1 L439.5,193.4 L439.8,193.6 L440.1,193.9 L440.4,194.2 L440.7,194.4 L441.0,194.7 L441.3,194.9 L441.6,195.2 L441.9,195.4 L442.2,195.7 L442.5,195.9 L442.8,196.1 L443.1,196.3 L443.4,196.4 L443.7,196.6 L444.0,196.7 L444.3,196.8 L444.6,196.9 L444.9,197.0 L445.2,197.0 L445.5,197.1 L445.8,197.2 L446.1,197.2 L446.4,197.3 L446.7,197.3 L447.0,197.4 L447.3,197.4 L447.6,197.5 L447.9,197.5 L448.2,197.6 L448.5,197.6 L448.8,197.7 L449.1,197.8 L449.4,197.9 L449.7,198.0 L450.0,198.1 L450.3,198.3 L450.6,198.4 L450.9,198.6 L451.2,198.7 L451.5,198.9 L451.8,199.1 L452.1,199.2 L452.4,199.4 L452.7,199.6 L453.0,199.8 L453.3,200.0 L453.6,200.2 L453.9,200.4 L454.2,200.6 L454.5,200.8 L454.8,201.0 L455.1,201.3 L455.4,201.5 L455.7,201.8 L456.0,202.0 L456.3,202.3 L456.6,202.5 L456.9,202.8 L457.2,203.1 L457.5,203.4 L457.8,203.6 L458.1,203.9 L458.4,204.2 L458.7,204.5 L459.0,204.8 L459.3,205.0 L459.6,205.3 L459.9,205.6 L460.2,205.9 L460.5,206.2 L460.8,206.4 L461.1,206.7 L461.4,207.0 L461.7,207.2 L462.0,207.5 L462.3,207.8 L462.6,208.0 L462.9,208.3 L463.2,208.5 L463.5,208.7 L463.8,209.0 L464.1,209.2 L464.4,209.4 L464.7,209.6 L465.0,209.8 L465.3,209.9 L465.6,210.1 L465.9,210.3 L466.2,210.4 L466.5,210.6 L466.8,210.7 L467.1,210.8 L467.4,210.9 L467.7,211.0 L468.0,211.0 L468.3,211.1 L468.6,211.1 L468.9,211.1 L469.2,211.2 L469.5,211.1 L469.8,211.1 L470.1,211.0 L470.4,211.0 L470.7,210.8 L471.0,210.7 L471.3,210.6 L471.6,210.4 L471.9,210.2 L472.2,210.0 L472.5,209.7 L472.8,209.4 L473.1,209.2 L473.4,208.9 L473.7,208.5 L474.0,208.2 L474.3,207.8 L474.6,207.5 L474.9,207.1 L475.2,206.7 L475.6,206.3 L475.9,205.9 L476.2,205.5 L476.5,205.0 L476.8,204.6 L477.1,204.1 L477.4,203.7 L477.7,203.2 L478.0,202.8 L478.3,202.3 L478.6,201.9 L478.9,201.4 L479.2,201.0 L479.5,200.5 L479.8,200.1 L480.1,199.6 L480.4,199.2 L480.7,198.8 L481.0,198.4 L481.3,198.0 L481.6,197.6 L481.9,197.3 L482.2,196.9 L482.5,196.6 L482.8,196.3 L483.1,196.0 L483.4,195.7 L483.7,195.4 L484.0,195.2 L484.3,195.0 L484.6,194.8 L484.9,194.6 L485.2,194.5 L485.5,194.3 L485.8,194.2 L486.1,194.2 L486.4,194.1 L486.7,194.1 L487.0,194.1 L487.3,194.1 L487.6,194.1 L487.9,194.1 L488.2,194.2 L488.5,194.3 L488.8,194.4 L489.1,194.5 L489.4,194.6 L489.7,194.7 L490.0,194.9 L490.3,195.0 L490.6,195.2 L490.9,195.4 L491.2,195.6 L491.5,195.8 L491.8,196.0 L492.1,196.3 L492.4,196.5 L492.7,196.8 L493.0,197.1 L493.3,197.3 L493.6,197.6 L493.9,197.9 L494.2,198.2 L494.5,198.5 L494.8,198.8 L495.1,199.2 L495.4,199.5 L495.7,199.8 L496.0,200.1 L496.3,200.5 L496.6,200.8 L496.9,201.2 L497.2,201.5 L497.5,201.8 L497.8,202.2 L498.1,202.5 L498.4,202.8 L498.7,203.2 L499.0,203.5 L499.3,203.8 L499.6,204.1 L499.9,204.4 L500.2,204.7 L500.5,205.0 L500.8,205.3 L501.1,205.6 L501.4,205.9 L501.7,206.1 L502.0,206.4 L502.3,206.6 L502.6,206.9 L502.9,207.1 L503.2,207.3 L503.5,207.5 L503.8,207.6 L504.1,207.8 L504.4,208.0 L504.7,208.1 L505.0,208.2 L505.3,208.3 L505.6,208.4 L505.9,208.5 L506.2,208.6 L506.5,208.6 L506.8,208.6 L507.1,208.7 L507.4,208.7 L507.7,208.6 L508.0,208.6 L508.3,208.6 L508.6,208.5 L508.9,208.5 L509.2,208.4 L509.5,208.3 L509.8,208.2 L510.1,208.1 L510.4,208.0 L510.7,207.9 L511.0,207.7 L511.3,207.6 L511.6,207.4 L511.9,207.2 L512.2,207.1 L512.5,206.9 L512.8,206.7 L513.2,206.5 L513.5,206.3 L513.8,206.0 L514.1,205.8 L514.4,205.6 L514.7,205.3 L515.0,205.1 L515.3,204.9 L515.6,204.6 L515.9,204.4 L516.2,204.1 L516.5,203.9 L516.8,203.6 L517.1,203.4 L517.4,203.1 L517.7,202.9 L518.0,202.6 L518.3,202.4 L518.6,202.1 L518.9,201.9 L519.2,201.6 L519.5,201.4 L519.8,201.2 L520.1,200.9 L520.4,200.7 L520.7,200.5 L521.0,200.3 L521.3,200.1 L521.6,199.9 L521.9,199.7 L522.2,199.5 L522.5,199.4 L522.8,199.2 L523.1,199.1 L523.4,198.9 L523.7,198.8 L524.0,198.7 L524.3,198.6 L524.6,198.5 L524.9,198.4 L525.2,198.4 L525.5,198.3 L525.8,198.3 L526.1,198.3 L526.4,198.2 L526.7,198.2 L527.0,198.2 L527.3,198.3 L527.6,198.3 L527.9,198.4 L528.2,198.4 L528.5,198.5 L528.8,198.6 L529.1,198.7 L529.4,198.8 L529.7,199.0 L530.0,199.1 L530.3,199.2 L530.6,199.4 L530.9,199.6 L531.2,199.8 L531.5,200.0 L531.8,200.2 L532.1,200.4 L532.4,200.6 L532.7,200.8 L533.0,201.0 L533.3,201.2 L533.6,201.5 L533.9,201.7 L534.2,201.9 L534.5,202.2 L534.8,202.4 L535.1,202.6 L535.4,202.8 L535.7,203.0 L536.0,203.3 L536.3,203.5 L536.6,203.7 L536.9,203.9 L537.2,204.1 L537.5,204.2 L537.8,204.4 L538.1,204.6 L538.4,204.7 L538.7,204.9 L539.0,205.0 L539.3,205.1 L539.6,205.2 L539.9,205.3 L540.2,205.4 L540.5,205.4 L540.8,205.5 L541.1,205.5 L541.4,205.5 L541.7,205.5 L542.0,205.5 L542.3,205.5 L542.6,205.5 L542.9,205.5 L543.2,205.4 L543.5,205.4 L543.8,205.3 L544.1,205.2 L544.4,205.2 L544.7,205.1 L545.0,205.0 L545.3,204.9 L545.6,204.8 L545.9,204.7 L546.2,204.6 L546.5,204.5 L546.8,204.3 L547.1,204.2 L547.4,204.1 L547.7,203.9 L548.0,203.8 L548.3,203.6 L548.6,203.5 L548.9,203.3 L549.2,203.2 L549.5,203.0 L549.8,202.9 L550.1,202.7 L550.5,202.6 L550.8,202.4 L551.1,202.2 L551.4,202.1 L551.7,201.9 L552.0,201.8 L552.3,201.6 L552.6,201.5 L552.9,201.3 L553.2,201.2 L553.5,201.1 L553.8,200.9 L554.1,200.8 L554.4,200.7 L554.7,200.6 L555.0,200.4 L555.3,200.3 L555.6,200.2 L555.9,200.2 L556.2,200.1 L556.5,200.0 L556.8,199.9 L557.1,199.9 L557.4,199.8 L557.7,199.8 L558.0,199.7 L558.3,199.7 L558.6,199.7 L558.9,199.7 L559.2,199.7 L559.5,199.7 L559.8,199.7 L560.1,199.8 L560.4,199.8 L560.7,199.9 L561.0,199.9 L561.3,200.0 L561.6,200.1 L561.9,200.2 L562.2,200.3 L562.5,200.4 L562.8,200.5 L563.1,200.6 L563.4,200.8 L563.7,200.9 L564.0,201.1 L564.3,201.2 L564.6,201.4 L564.9,201.5 L565.2,201.7 L565.5,201.9 L565.8,202.1 L566.1,202.3 L566.4,202.5 L566.7,202.7 L567.0,202.9 L567.3,203.1 L567.6,203.3 L567.9,203.5 L568.2,203.7 L568.5,203.9 L568.8,204.1 L569.1,204.3 L569.4,204.4 L569.7,204.6 L570.0,204.8 L570.3,205.0 L570.6,205.2 L570.9,205.4 L571.2,205.5 L571.5,205.7 L571.8,205.9 L572.1,206.0 L572.4,206.1 L572.7,206.3 L573.0,206.4 L573.3,206.5 L573.6,206.6 L573.9,206.7 L574.2,206.8 L574.5,206.9 L574.8,207.0 L575.1,207.0 L575.4,207.1 L575.7,207.1 L576.0,207.2 L576.3,207.2 L576.6,207.2 L576.9,207.2 L577.2,207.2 L577.5,207.2 L577.8,207.1 L578.1,207.1 L578.4,207.0 L578.7,206.9 L579.0,206.8 L579.3,206.7 L579.6,206.6 L579.9,206.5 L580.2,206.4 L580.5,206.2 L580.8,206.1 L581.1,205.9 L581.4,205.7 L581.7,205.6 L582.0,205.4 L582.3,205.2 L582.6,205.0 L582.9,204.8 L583.2,204.6 L583.5,204.4 L583.8,204.1 L584.1,203.9 L584.4,203.7 L584.7,203.5 L585.0,203.3 L585.3,203.0 L585.6,202.8 L585.9,202.6 L586.2,202.4 L586.5,202.2 L586.8,201.9 L587.1,201.7 L587.4,201.5 L587.7,201.3 L588.1,201.1 L588.4,200.9 L588.7,200.8 L589.0,200.6 L589.3,200.4 L589.6,200.3 L589.9,200.1 L590.2,200.0 L590.5,199.9 L590.8,199.8 L591.1,199.7 L591.4,199.6 L591.7,199.5 L592.0,199.4 L592.3,199.4 L592.6,199.3 L592.9,199.3 L593.2,199.3 L593.5,199.3 L593.8,199.3 L594.1,199.3 L594.4,199.3 L594.7,199.4 L595.0,199.5 L595.3,199.5 L595.6,199.6 L595.9,199.7 L596.2,199.8 L596.5,200.0 L596.8,200.1 L597.1,200.2 L597.4,200.4 L597.7,200.5 L598.0,200.7 L598.3,200.9 L598.6,201.1 L598.9,201.3 L599.2,201.5 L599.5,201.7 L599.8,201.9 L600.1,202.1 L600.4,202.3 L600.7,202.5 L601.0,202.7 L601.3,202.9 L601.6,203.1 L601.9,203.3 L602.2,203.5 L602.5,203.6 L602.8,203.8 L603.1,204.0 L603.4,204.2 L603.7,204.3 L604.0,204.5 L604.3,204.6 L604.6,204.7 L604.9,204.8 L605.2,204.9 L605.5,205.0 L605.8,205.1 L606.1,205.2 L606.4,205.2 L606.7,205.3 L607.0,205.3 L607.3,205.3 L607.6,205.3 L607.9,205.3 L608.2,205.3 L608.5,205.2 L608.8,205.2 L609.1,205.1 L609.4,205.1 L609.7,205.0 L610.0,204.9 L610.3,204.8 L610.6,204.6 L610.9,204.5 L611.2,204.4 L611.5,204.2 L611.8,204.1 L612.1,203.9 L612.4,203.7 L612.7,203.6 L613.0,203.4 L613.3,203.2 L613.6,203.0 L613.9,202.8 L614.2,202.7 L614.5,202.5 L614.8,202.3 L615.1,202.1 L615.4,201.9 L615.7,201.7 L616.0,201.5 L616.3,201.4 L616.6,201.2 L616.9,201.0 L617.2,200.9 L617.5,200.7 L617.8,200.6 L618.1,200.4 L618.4,200.3 L618.7,200.2 L619.0,200.1 L619.3,200.0 L619.6,199.9 L619.9,199.9 L620.2,199.8 L620.5,199.8 L620.8,199.7 L621.1,199.7 L621.4,199.7 L621.7,199.7 L622.0,199.7 L622.3,199.7 L622.6,199.8 L622.9,199.8 L623.2,199.9 L623.5,199.9 L623.8,200.0 L624.1,200.1 L624.4,200.1 L624.7,200.2 L625.0,200.3 L625.3,200.4 L625.7,200.5 L626.0,200.7 L626.3,200.8 L626.6,200.9 L626.9,201.1 L627.2,201.2 L627.5,201.4 L627.8,201.5 L628.1,201.7 L628.4,201.8 L628.7,202.0 L629.0,202.2 L629.3,202.3 L629.6,202.5 L629.9,202.7 L630.2,202.8 L630.5,203.0 L630.8,203.2 L631.1,203.4 L631.4,203.5 L631.7,203.7 L632.0,203.9 L632.3,204.0 L632.6,204.2 L632.9,204.3 L633.2,204.5 L633.5,204.6 L633.8,204.8 L634.1,204.9 L634.4,205.1 L634.7,205.2 L635.0,205.3 L635.3,205.4 L635.6,205.5 L635.9,205.6 L636.2,205.7 L636.5,205.8 L636.8,205.9 L637.1,205.9 L637.4,206.0 L637.7,206.0 L638.0,206.1 L638.3,206.1 L638.6,206.1 L638.9,206.2 L639.2,206.2 L639.5,206.1 L639.8,206.1 L640.1,206.1 L640.4,206.0 L640.7,206.0 L641.0,205.9 L641.3,205.8 L641.6,205.7 L641.9,205.5 L642.2,205.4 L642.5,205.2 L642.8,205.1 L643.1,204.9 L643.4,204.7 L643.7,204.5 L644.0,204.3 L644.3,204.1 L644.6,203.9 L644.9,203.7 L645.2,203.4 L645.5,203.2 L645.8,203.0 L646.1,202.7 L646.4,202.5 L646.7,202.2 L647.0,202.0 L647.3,201.8 L647.6,201.5 L647.9,201.3 L648.2,201.1 L648.5,200.8 L648.8,200.6 L649.1,200.4 L649.4,200.2 L649.7,200.0 L650.0,199.8 L650.3,199.7 L650.6,199.5 L650.9,199.4 L651.2,199.2 L651.5,199.1 L651.8,199.0 L652.1,198.9 L652.4,198.8 L652.7,198.8 L653.0,198.7 L653.3,198.7 L653.6,198.7 L653.9,198.7 L654.2,198.7 L654.5,198.7 L654.8,198.7 L655.1,198.7 L655.4,198.8 L655.7,198.8 L656.0,198.9 L656.3,199.0 L656.6,199.1 L656.9,199.2 L657.2,199.3 L657.5,199.4 L657.8,199.5 L658.1,199.6 L658.4,199.7 L658.7,199.9 L659.0,200.0 L659.3,200.2 L659.6,200.3 L659.9,200.5 L660.2,200.7 L660.5,200.9 L660.8,201.0 L661.1,201.2 L661.4,201.4 L661.7,201.6 L662.0,201.8 L662.3,202.0 L662.6,202.2 L662.9,202.4 L663.3,202.6 L663.6,202.8 L663.9,203.0 L664.2,203.2 L664.5,203.4 L664.8,203.6 L665.1,203.8 L665.4,204.0 L665.7,204.2 L666.0,204.4 L666.3,204.6 L666.6,204.8 L666.9,205.0 L667.2,205.2 L667.5,205.3 L667.8,205.5 L668.1,205.7 L668.4,205.8 L668.7,206.0 L669.0,206.1 L669.3,206.2 L669.6,206.4 L669.9,206.5 L670.2,206.6 L670.5,206.7 L670.8,206.8 L671.1,206.9 L671.4,206.9 L671.7,207.0 L672.0,207.1 L672.3,207.1 L672.6,207.1 L672.9,207.2 L673.2,207.2 L673.5,207.2 L673.8,207.2 L674.1,207.2 L674.4,207.1 L674.7,207.0 L675.0,206.9 L675.3,206.8 L675.6,206.6 L675.9,206.4 L676.2,206.3 L676.5,206.1 L676.8,205.8 L677.1,205.6 L677.4,205.4 L677.7,205.1 L678.0,204.9 L678.3,204.7 L678.6,204.4 L678.9,204.2 L679.2,204.0 L679.5,203.8 L679.8,203.6 L680.1,203.5 L680.4,203.4 L680.7,203.2 L681.0,203.1 L681.3,203.1 L681.6,203.0 L681.9,203.0" stroke="#1f1fff"/>
<path d="M381.4,204.9 L381.7,204.8 L382.0,204.3 L382.3,203.6 L382.6,202.6 L382.9,201.3 L383.2,199.8 L383.5,198.0 L383.8,196.0 L384.1,193.9 L384.4,191.6 L384.7,189.2 L385.0,186.8 L385.3,184.2 L385.6,181.7 L385.9,179.2 L386.2,176.8 L386.5,174.4 L386.8,172.2 L387.1,170.1 L387.4,168.2 L387.7,166.5 L388.0,165.1 L388.3,163.9 L388.6,163.0 L388.9,162.4 L389.2,162.0 L389.5,162.0 L389.8,162.0 L390.1,162.2 L390.4,162.4 L390.7,162.7 L391.0,163.0 L391.3,163.4 L391.6,163.9 L391.9,164.5 L392.2,165.1 L392.5,165.8 L392.8,166.5 L393.1,167.3 L393.4,168.2 L393.7,169.1 L394.0,170.1 L394.3,171.1 L394.6,172.1 L394.9,173.2 L395.2,174.4 L395.5,175.5 L395.8,176.7 L396.1,178.0 L396.4,179.2 L396.7,180.5 L397.0,181.8 L397.3,183.1 L397.6,184.4 L397.9,185.7 L398.2,187.0 L398.5,188.3 L398.8,189.6 L399.1,190.9 L399.4,192.2 L399.7,193.4 L400.0,194.7 L400.4,195.9 L400.7,197.0 L401.0,198.2 L401.3,199.2 L401.6,200.3 L401.9,201.3 L402.2,202.3 L402.5,203.2 L402.8,204.0 L403.1,204.8 L403.4,205.6 L403.7,206.2 L404.0,206.8 L404.3,207.4 L404.6,207.9 L404.9,208.3 L405.2,208.6 L405.5,208.9 L405.8,209.1 L406.1,209.2 L406.4,209.3 L406.7,209.3 L407.0,209.2 L407.3,209.1 L407.6,209.0 L407.9,208.8 L408.2,208.6 L408.5,208.3 L408.8,208.0 L409.1,207.7 L409.4,207.3 L409.7,206.9 L410.0,206.4 L410.3,205.9 L410.6,205.4 L410.9,204.8 L411.2,204.2 L411.5,203.6 L411.8,203.0 L412.1,202.3 L412.4,201.6 L412.7,200.9 L413.0,200.2 L413.3,199.5 L413.6,198.7 L413.9,198.0 L414.2,197.2 L414.5,196.4 L414.8,195.6 L415.1,194.9 L415.4,194.1 L415.7,193.3 L416.0,192.5 L416.3,191.8 L416.6,191.0 L416.9,190.3 L417.2,189.6 L417.5,188.9 L417.8,188.2 L418.1,187.5 L418.4,186.9 L418.7,186.3 L419.0,185.7 L419.3,185.1 L419.6,184.6 L419.9,184.1 L420.2,183.6 L420.5,183.2 L420.8,182.8 L421.1,182.5 L421.4,182.2 L421.7,181.9 L422.0,181.7 L422.3,181.5 L422.6,181.3 L422.9,181.2 L423.2,181.2 L423.5,181.1 L423.8,181.2 L424.1,181.3 L424.4,181.4 L424.7,181.6 L425.0,181.8 L425.3,182.1 L425.6,182.5 L425.9,182.9 L426.2,183.3 L426.5,183.8 L426.8,184.4 L427.1,184.9 L427.4,185.5 L427.7,186.2 L428.0,186.9 L428.3,187.6 L428.6,188.4 L428.9,189.2 L429.2,190.0 L429.5,190.9 L429.8,191.7 L430.1,192.6 L430.4,193.5 L430.7,194.4 L431.0,195.4 L431.3,196.3 L431.6,197.2 L431.9,198.2 L432.2,199.1 L432.5,200.1 L432.8,201.0 L433.1,201.9 L433.4,202.8 L433.7,203.7 L434.0,204.6 L434.3,205.4 L434.6,206.3 L434.9,207.1 L435.2,207.8 L435.5,208.6 L435.8,209.3 L436.1,209.9 L436.4,210.6 L436.7,211.2 L437.0,211.7 L437.3,212.2 L437.6,212.7 L438.0,213.1 L438.3,213.4 L438.6,213.7 L438.9,214.0 L439.2,214.2 L439.5,214.3 L439.8,214.4 L440.1,214.5 L440.4,214.5 L440.7,214.4 L441.0,214.3 L441.3,214.2 L441.6,214.0 L441.9,213.8 L442.2,213.5 L442.5,213.2 L442.8,212.9 L443.1,212.5 L443.4,212.1 L443.7,211.6 L444.0,211.1 L444.3,210.6 L444.6,210.0 L444.9,209.4 L445.2,208.8 L445.5,208.2 L445.8,207.5 L446.1,206.8 L446.4,206.0 L446.7,205.3 L447.0,204.5 L447.3,203.7 L447.6,202.9 L447.9,202.1 L448.2,201.3 L448.5,200.5 L448.8,199.6 L449.1,198.8 L449.4,197.9 L449.7,197.1 L450.0,196.2 L450.3,195.4 L450.6,194.6 L450.9,193.7 L451.2,192.9 L451.5,192.1 L451.8,191.3 L452.1,190.6 L452.4,189.8 L452.7,189.1 L453.0,188.4 L453.3,187.7 L453.6,187.1 L453.9,186.5 L454.2,185.9 L454.5,185.3 L454.8,184.8 L455.1,184.3 L455.4,183.9 L455.7,183.5 L456.0,183.1 L456.3,182.7 L456.6,182.5 L456.9,182.2 L457.2,182.0 L457.5,181.8 L457.8,181.7 L458.1,181.6 L458.4,181.6 L458.7,181.6 L459.0,181.6 L459.3,181.8 L459.6,182.0 L459.9,182.2 L460.2,182.5 L460.5,182.9 L460.8,183.3 L461.1,183.8 L461.4,184.3 L461.7,184.9 L462.0,185.5 L462.3,186.2 L462.6,186.9 L462.9,187.7 L463.2,188.5 L463.5,189.3 L463.8,190.2 L464.1,191.1 L464.4,192.0 L464.7,193.0 L465.0,193.9 L465.3,194.9 L465.6,195.9 L465.9,196.9 L466.2,197.9 L466.5,199.0 L466.8,200.0 L467.1,201.0 L467.4,202.0 L467.7,203.0 L468.0,203.9 L468.3,204.9 L468.6,205.8 L468.9,206.7 L469.2,207.6 L469.5,208.4 L469.8,209.2 L470.1,210.0 L470.4,210.7 L470.7,211.4 L471.0,212.0 L471.3,212.6 L471.6,213.1 L471.9,213.6 L472.2,214.0 L472.5,214.4 L472.8,214.7 L473.1,214.9 L473.4,215.1 L473.7,215.2 L474.0,215.3 L474.3,215.3 L474.6,215.3 L474.9,215.2 L475.2,215.0 L475.6,214.8 L475.9,214.5 L476.2,214.2 L476.5,213.8 L476.8,213.4 L477.1,213.0 L477.4,212.5 L477.7,211.9 L478.0,211.3 L478.3,210.7 L478.6,210.0 L478.9,209.3 L479.2,208.5 L479.5,207.7 L479.8,206.9 L480.1,206.1 L480.4,205.2 L480.7,204.3 L481.0,203.4 L481.3,202.5 L481.6,201.5 L481.9,200.6 L482.2,199.6 L482.5,198.7 L482.8,197.7 L483.1,196.7 L483.4,195.8 L483.7,194.8 L484.0,193.9 L484.3,193.0 L484.6,192.1 L484.9,191.2 L485.2,190.3 L485.5,189.5 L485.8,188.7 L486.1,187.9 L486.4,187.2 L486.7,186.5 L487.0,185.8 L487.3,185.2 L487.6,184.6 L487.9,184.0 L488.2,183.5 L488.5,183.1 L488.8,182.7 L489.1,182.4 L489.4,182.1 L489.7,181.8 L490.0,181.6 L490.3,181.5 L490.6,181.4 L490.9,181.4 L491.2,181.4 L491.5,181.5 L491.8,181.6 L492.1,181.8 L492.4,182.0 L492.7,182.3 L493.0,182.6 L493.3,183.0 L493.6,183.4 L493.9,183.9 L494.2,184.4 L494.5,184.9 L494.8,185.5 L495.1,186.1 L495.4,186.8 L495.7,187.5 L496.0,188.2 L496.3,189.0 L496.6,189.8 L496.9,190.6 L497.2,191.4 L497.5,192.3 L497.8,193.2 L498.1,194.0 L498.4,194.9 L498.7,195.8 L499.0,196.7 L499.3,197.6 L499.6,198.5 L499.9,199.4 L500.2,200.3 L500.5,201.2 L500.8,202.1 L501.1,202.9 L501.4,203.7 L501.7,204.5 L502.0,205.3 L502.3,206.1 L502.6,206.8 L502.9,207.5 L503.2,208.1 L503.5,208.7 L503.8,209.3 L504.1,209.8 L504.4,210.3 L504.7,210.8 L505.0,211.2 L505.3,211.5 L505.6,211.8 L505.9,212.1 L506.2,212.3 L506.5,212.5 L506.8,212.6 L507.1,212.6 L507.4,212.6 L507.7,212.6 L508.0,212.5 L508.3,212.3 L508.6,212.1 L508.9,211.9 L509.2,211.6 L509.5,211.3 L509.8,211.0 L510.1,210.6 L510.4,210.1 L510.7,209.6 L511.0,209.1 L511.3,208.6 L511.6,208.0 L511.9,207.4 L512.2,206.7 L512.5,206.0 L512.8,205.3 L513.2,204.6 L513.5,203.8 L513.8,203.1 L514.1,202.3 L514.4,201.5 L514.7,200.6 L515.0,199.8 L515.3,199.0 L515.6,198.1 L515.9,197.3 L516.2,196.4 L516.5,195.6 L516.8,194.7 L517.1,193.9 L517.4,193.1 L517.7,192.2 L518.0,191.4 L518.3,190.6 L518.6,189.9 L518.9,189.1 L519.2,188.4 L519.5,187.7 L519.8,187.0 L520.1,186.4 L520.4,185.8 L520.7,185.2 L521.0,184.7 L521.3,184.2 L521.6,183.7 L521.9,183.3 L522.2,182.9 L522.5,182.5 L522.8,182.2 L523.1,182.0 L523.4,181.8 L523.7,181.6 L524.0,181.5 L524.3,181.4 L524.6,181.4 L524.9,181.4 L525.2,181.4 L525.5,181.6 L525.8,181.8 L526.1,182.0 L526.4,182.3 L526.7,182.6 L527.0,183.0 L527.3,183.5 L527.6,184.0 L527.9,184.5 L528.2,185.1 L528.5,185.7 L528.8,186.4 L529.1,187.1 L529.4,187.9 L529.7,188.7 L530.0,189.5 L530.3,190.3 L530.6,191.2 L530.9,192.1 L531.2,193.0 L531.5,193.9 L531.8,194.8 L532.1,195.8 L532.4,196.7 L532.7,197.7 L533.0,198.6 L533.3,199.6 L533.6,200.5 L533.9,201.4 L534.2,202.4 L534.5,203.3 L534.8,204.1 L535.1,205.0 L535.4,205.8 L535.7,206.6 L536.0,207.4 L536.3,208.1 L536.6,208.8 L536.9,209.5 L537.2,210.1 L537.5,210.7 L537.8,211.2 L538.1,211.7 L538.4,212.1 L538.7,212.5 L539.0,212.8 L539.3,213.1 L539.6,213.3 L539.9,213.5 L540.2,213.6 L540.5,213.7 L540.8,213.6 L541.1,213.6 L541.4,213.5 L541.7,213.4 L542.0,213.2 L542.3,212.9 L542.6,212.6 L542.9,212.3 L543.2,211.9 L543.5,211.5 L543.8,211.0 L544.1,210.5 L544.4,210.0 L544.7,209.4 L545.0,208.8 L545.3,208.1 L545.6,207.5 L545.9,206.8 L546.2,206.0 L546.5,205.3 L546.8,204.5 L547.1,203.7 L547.4,202.9 L547.7,202.0 L548.0,201.2 L548.3,200.4 L548.6,199.5 L548.9,198.6 L549.2,197.8 L549.5,196.9 L549.8,196.1 L550.1,195.2 L550.5,194.4 L550.8,193.6 L551.1,192.7 L551.4,192.0 L551.7,191.2 L552.0,190.4 L552.3,189.7 L552.6,189.0 L552.9,188.4 L553.2,187.7 L553.5,187.1 L553.8,186.6 L554.1,186.1 L554.4,185.6 L554.7,185.1 L555.0,184.8 L555.3,184.4 L555.6,184.1 L555.9,183.8 L556.2,183.6 L556.5,183.4 L556.8,183.3 L557.1,183.3 L557.4,183.2 L557.7,183.3 L558.0,183.3 L558.3,183.5 L558.6,183.6 L558.9,183.9 L559.2,184.2 L559.5,184.5 L559.8,184.9 L560.1,185.3 L560.4,185.7 L560.7,186.3 L561.0,186.8 L561.3,187.4 L561.6,188.0 L561.9,188.7 L562.2,189.4 L562.5,190.1 L562.8,190.9 L563.1,191.7 L563.4,192.5 L563.7,193.3 L564.0,194.2 L564.3,195.0 L564.6,195.9 L564.9,196.8 L565.2,197.7 L565.5,198.6 L565.8,199.5 L566.1,200.4 L566.4,201.3 L566.7,202.2 L567.0,203.1 L567.3,204.0 L567.6,204.9 L567.9,205.7 L568.2,206.5 L568.5,207.3 L568.8,208.1 L569.1,208.8 L569.4,209.6 L569.7,210.2 L570.0,210.9 L570.3,211.5 L570.6,212.1 L570.9,212.6 L571.2,213.1 L571.5,213.5 L571.8,213.9 L572.1,214.3 L572.4,214.6 L572.7,214.8 L573.0,215.0 L573.3,215.2 L573.6,215.3 L573.9,215.3 L574.2,215.3 L574.5,215.3 L574.8,215.2 L575.1,215.0 L575.4,214.8 L575.7,214.6 L576.0,214.3 L576.3,214.0 L576.6,213.6 L576.9,213.2 L577.2,212.7 L577.5,212.2 L577.8,211.7 L578.1,211.1 L578.4,210.5 L578.7,209.8 L579.0,209.1 L579.3,208.4 L579.6,207.7 L579.9,206.9 L580.2,206.1 L580.5,205.3 L580.8,204.5 L581.1,203.6 L581.4,202.8 L581.7,201.9 L582.0,201.0 L582.3,200.1 L582.6,199.3 L582.9,198.4 L583.2,197.5 L583.5,196.6 L583.8,195.7 L584.1,194.9 L584.4,194.0 L584.7,193.2 L585.0,192.3 L585.3,191.5 L585.6,190.7 L585.9,190.0 L586.2,189.3 L586.5,188.6 L586.8,187.9 L587.1,187.2 L587.4,186.6 L587.7,186.1 L588.1,185.5 L588.4,185.1 L588.7,184.6 L589.0,184.2 L589.3,183.8 L589.6,183.5 L589.9,183.3 L590.2,183.0 L590.5,182.9 L590.8,182.7 L591.1,182.6 L591.4,182.6 L591.7,182.6 L592.0,182.7 L592.3,182.8 L592.6,183.0 L592.9,183.2 L593.2,183.5 L593.5,183.9 L593.8,184.3 L594.1,184.7 L594.4,185.2 L594.7,185.7 L595.0,186.3 L595.3,186.9 L595.6,187.6 L595.9,188.3 L596.2,189.0 L596.5,189.8 L596.8,190.6 L597.1,191.4 L597.4,192.3 L597.7,193.2 L598.0,194.1 L598.3,195.0 L598.6,195.9 L598.9,196.8 L599.2,197.8 L599.5,198.7 L599.8,199.6 L600.1,200.6 L600.4,201.5 L600.7,202.4 L601.0,203.3 L601.3,204.2 L601.6,205.1 L601.9,205.9 L602.2,206.8 L602.5,207.5 L602.8,208.3 L603.1,209.0 L603.4,209.7 L603.7,210.4 L604.0,211.0 L604.3,211.5 L604.6,212.1 L604.9,212.5 L605.2,213.0 L605.5,213.3 L605.8,213.7 L606.1,213.9 L606.4,214.2 L606.7,214.3 L607.0,214.4 L607.3,214.5 L607.6,214.5 L607.9,214.4 L608.2,214.3 L608.5,214.2 L608.8,214.0 L609.1,213.8 L609.4,213.5 L609.7,213.2 L610.0,212.8 L610.3,212.4 L610.6,211.9 L610.9,211.5 L611.2,210.9 L611.5,210.4 L611.8,209.8 L612.1,209.1 L612.4,208.5 L612.7,207.8 L613.0,207.0 L613.3,206.3 L613.6,205.5 L613.9,204.7 L614.2,203.9 L614.5,203.1 L614.8,202.3 L615.1,201.4 L615.4,200.6 L615.7,199.7 L616.0,198.8 L616.3,198.0 L616.6,197.1 L616.9,196.2 L617.2,195.4 L617.5,194.5 L617.8,193.7 L618.1,192.9 L618.4,192.1 L618.7,191.3 L619.0,190.5 L619.3,189.8 L619.6,189.1 L619.9,188.4 L620.2,187.8 L620.5,187.1 L620.8,186.5 L621.1,186.0 L621.4,185.5 L621.7,185.0 L622.0,184.6 L622.3,184.2 L622.6,183.8 L622.9,183.5 L623.2,183.2 L623.5,183.0 L623.8,182.8 L624.1,182.7 L624.4,182.6 L624.7,182.6 L625.0,182.6 L625.3,182.7 L625.7,182.8 L626.0,183.0 L626.3,183.2 L626.6,183.5 L626.9,183.9 L627.2,184.3 L627.5,184.7 L627.8,185.2 L628.1,185.7 L628.4,186.3 L628.7,186.9 L629.0,187.6 L629.3,188.3 L629.6,189.0 L629.9,189.8 L630.2,190.6 L630.5,191.4 L630.8,192.3 L631.1,193.2 L631.4,194.1 L631.7,195.0 L632.0,195.9 L632.3,196.8 L632.6,197.8 L632.9,198.7 L633.2,199.6 L633.5,200.6 L633.8,201.5 L634.1,202.4 L634.4,203.3 L634.7,204.2 L635.0,205.1 L635.3,205.9 L635.6,206.8 L635.9,207.5 L636.2,208.3 L636.5,209.0 L636.8,209.7 L637.1,210.4 L637.4,211.0 L637.7,211.5 L638.0,212.1 L638.3,212.5 L638.6,213.0 L638.9,213.3 L639.2,213.7 L639.5,213.9 L639.8,214.2 L640.1,214.3 L640.4,214.4 L640.7,214.5 L641.0,214.5 L641.3,214.4 L641.6,214.3 L641.9,214.2 L642.2,214.0 L642.5,213.7 L642.8,213.4 L643.1,213.1 L643.4,212.7 L643.7,212.2 L644.0,211.7 L644.3,211.2 L644.6,210.6 L644.9,210.0 L645.2,209.4 L645.5,208.7 L645.8,208.0 L646.1,207.3 L646.4,206.5 L646.7,205.7 L647.0,204.9 L647.3,204.0 L647.6,203.2 L647.9,202.3 L648.2,201.4 L648.5,200.5 L648.8,199.6 L649.1,198.7 L649.4,197.8 L649.7,196.9 L650.0,196.0 L650.3,195.2 L650.6,194.3 L650.9,193.4 L651.2,192.6 L651.5,191.8 L651.8,190.9 L652.1,190.2 L652.4,189.4 L652.7,188.7 L653.0,188.0 L653.3,187.3 L653.6,186.7 L653.9,186.1 L654.2,185.6 L654.5,185.1 L654.8,184.6 L655.1,184.2 L655.4,183.8 L655.7,183.5 L656.0,183.2 L656.3,183.0 L656.6,182.8 L656.9,182.7 L657.2,182.6 L657.5,182.6 L657.8,182.6 L658.1,182.7 L658.4,182.8 L658.7,183.0 L659.0,183.2 L659.3,183.5 L659.6,183.9 L659.9,184.2 L660.2,184.6 L660.5,185.1 L660.8,185.6 L661.1,186.2 L661.4,186.7 L661.7,187.4 L662.0,188.0 L662.3,188.7 L662.6,189.5 L662.9,190.2 L663.3,191.0 L663.6,191.8 L663.9,192.6 L664.2,193.5 L664.5,194.3 L664.8,195.2 L665.1,196.1 L665.4,197.0 L665.7,197.9 L666.0,198.8 L666.3,199.7 L666.6,200.6 L666.9,201.5 L667.2,202.4 L667.5,203.2 L667.8,204.1 L668.1,204.9 L668.4,205.7 L668.7,206.5 L669.0,207.3 L669.3,208.0 L669.6,208.8 L669.9,209.4 L670.2,210.1 L670.5,210.7 L670.8,211.2 L671.1,211.8 L671.4,212.3 L671.7,212.7 L672.0,213.1 L672.3,213.4 L672.6,213.7 L672.9,214.0 L673.2,214.2 L673.5,214.3 L673.8,214.4 L674.1,214.5 L674.4,214.5 L674.7,214.4 L675.0,214.2 L675.3,213.9 L675.6,213.6 L675.9,213.1 L676.2,212.6 L676.5,212.1 L676.8,211.5 L677.1,210.8 L677.4,210.1 L677.7,209.4 L678.0,208.6 L678.3,207.9 L678.6,207.1 L678.9,206.4 L679.2,205.7 L679.5,205.1 L679.8,204.5 L680.1,204.0 L680.4,203.5 L680.7,203.1 L681.0,202.8 L681.3,202.6 L681.6,202.4 L681.9,202.4" stroke="#ff2020"/>
</g>
<g clip-path="url(#cTR)" fill="none" stroke-width="1.15" stroke-linejoin="round">
<path d="M381.4,64.0 L381.7,62.1 L382.0,60.1 L382.3,58.2 L382.6,56.2 L382.9,54.3 L383.2,52.5 L383.5,50.6 L383.8,48.8 L384.1,47.1 L384.4,45.4 L384.7,43.8 L385.0,42.2 L385.3,40.7 L385.6,39.3 L385.9,38.0 L386.2,36.7 L386.5,35.6 L386.8,34.5 L387.1,33.5 L387.4,32.6 L387.7,31.8 L388.0,31.1 L388.3,30.6 L388.6,30.1 L388.9,29.7 L389.2,29.5 L389.5,29.4 L389.8,29.3 L390.1,29.4 L390.4,29.6 L390.7,29.9 L391.0,30.3 L391.3,30.8 L391.6,31.5 L391.9,32.2 L392.2,33.0 L392.5,34.0 L392.8,35.0 L393.1,36.1 L393.4,37.3 L393.7,38.6 L394.0,40.0 L394.3,41.5 L394.6,43.0 L394.9,44.6 L395.2,46.3 L395.5,48.0 L395.8,49.7 L396.1,51.5 L396.4,53.4 L396.7,55.3 L397.0,57.2 L397.3,59.1 L397.6,61.1 L397.9,63.0 L398.2,65.0 L398.5,67.0 L398.8,68.9 L399.1,70.9 L399.4,72.8 L399.7,74.7 L400.0,76.5 L400.4,78.3 L400.7,80.1 L401.0,81.8 L401.3,83.5 L401.6,85.1 L401.9,86.6 L402.2,88.0 L402.5,89.4 L402.8,90.7 L403.1,91.9 L403.4,93.0 L403.7,94.1 L404.0,95.0 L404.3,95.8 L404.6,96.6 L404.9,97.2 L405.2,97.7 L405.5,98.1 L405.8,98.4 L406.1,98.6 L406.4,98.7 L406.7,98.7 L407.0,98.6 L407.3,98.3 L407.6,97.9 L407.9,97.5 L408.2,96.9 L408.5,96.2 L408.8,95.4 L409.1,94.6 L409.4,93.6 L409.7,92.5 L410.0,91.3 L410.3,90.1 L410.6,88.7 L410.9,87.3 L411.2,85.8 L411.5,84.3 L411.8,82.6 L412.1,80.9 L412.4,79.2 L412.7,77.4 L413.0,75.6 L413.3,73.7 L413.6,71.8 L413.9,69.9 L414.2,67.9 L414.5,66.0 L414.8,64.0 L415.1,62.1 L415.4,60.1 L415.7,58.2 L416.0,56.2 L416.3,54.3 L416.6,52.5 L416.9,50.6 L417.2,48.8 L417.5,47.1 L417.8,45.4 L418.1,43.8 L418.4,42.2 L418.7,40.7 L419.0,39.3 L419.3,38.0 L419.6,36.7 L419.9,35.6 L420.2,34.5 L420.5,33.5 L420.8,32.6 L421.1,31.8 L421.4,31.1 L421.7,30.6 L422.0,30.1 L422.3,29.7 L422.6,29.5 L422.9,29.4 L423.2,29.3 L423.5,29.4 L423.8,29.6 L424.1,29.9 L424.4,30.3 L424.7,30.8 L425.0,31.5 L425.3,32.2 L425.6,33.0 L425.9,34.0 L426.2,35.0 L426.5,36.1 L426.8,37.3 L427.1,38.6 L427.4,40.0 L427.7,41.5 L428.0,43.0 L428.3,44.6 L428.6,46.3 L428.9,48.0 L429.2,49.7 L429.5,51.5 L429.8,53.4 L430.1,55.3 L430.4,57.2 L430.7,59.1 L431.0,61.1 L431.3,63.0 L431.6,65.0 L431.9,67.0 L432.2,68.9 L432.5,70.9 L432.8,72.8 L433.1,74.7 L433.4,76.5 L433.7,78.3 L434.0,80.1 L434.3,81.8 L434.6,83.5 L434.9,85.1 L435.2,86.6 L435.5,88.0 L435.8,89.4 L436.1,90.7 L436.4,91.9 L436.7,93.0 L437.0,94.1 L437.3,95.0 L437.6,95.8 L438.0,96.6 L438.3,97.2 L438.6,97.7 L438.9,98.1 L439.2,98.4 L439.5,98.6 L439.8,98.7 L440.1,98.7 L440.4,98.6 L440.7,98.3 L441.0,97.9 L441.3,97.5 L441.6,96.9 L441.9,96.2 L442.2,95.4 L442.5,94.6 L442.8,93.6 L443.1,92.5 L443.4,91.3 L443.7,90.1 L444.0,88.7 L444.3,87.3 L444.6,85.8 L444.9,84.3 L445.2,82.6 L445.5,80.9 L445.8,79.2 L446.1,77.4 L446.4,75.6 L446.7,73.7 L447.0,71.8 L447.3,69.9 L447.6,67.9 L447.9,66.0 L448.2,64.0 L448.5,62.1 L448.8,60.1 L449.1,58.2 L449.4,56.2 L449.7,54.3 L450.0,52.5 L450.3,50.6 L450.6,48.8 L450.9,47.1 L451.2,45.4 L451.5,43.8 L451.8,42.2 L452.1,40.7 L452.4,39.3 L452.7,38.0 L453.0,36.7 L453.3,35.6 L453.6,34.5 L453.9,33.5 L454.2,32.6 L454.5,31.8 L454.8,31.1 L455.1,30.6 L455.4,30.1 L455.7,29.7 L456.0,29.5 L456.3,29.4 L456.6,29.3 L456.9,29.4 L457.2,29.6 L457.5,29.9 L457.8,30.3 L458.1,30.8 L458.4,31.5 L458.7,32.2 L459.0,33.0 L459.3,34.0 L459.6,35.0 L459.9,36.1 L460.2,37.3 L460.5,38.6 L460.8,40.0 L461.1,41.5 L461.4,43.0 L461.7,44.6 L462.0,46.3 L462.3,48.0 L462.6,49.7 L462.9,51.5 L463.2,53.4 L463.5,55.3 L463.8,57.2 L464.1,59.1 L464.4,61.1 L464.7,63.0 L465.0,65.0 L465.3,67.0 L465.6,68.9 L465.9,70.9 L466.2,72.8 L466.5,74.7 L466.8,76.5 L467.1,78.3 L467.4,80.1 L467.7,81.8 L468.0,83.5 L468.3,85.1 L468.6,86.6 L468.9,88.0 L469.2,89.4 L469.5,90.7 L469.8,91.9 L470.1,93.0 L470.4,94.1 L470.7,95.0 L471.0,95.8 L471.3,96.6 L471.6,97.2 L471.9,97.7 L472.2,98.1 L472.5,98.4 L472.8,98.6 L473.1,98.7 L473.4,98.7 L473.7,98.6 L474.0,98.3 L474.3,97.9 L474.6,97.5 L474.9,96.9 L475.2,96.2 L475.6,95.4 L475.9,94.6 L476.2,93.6 L476.5,92.5 L476.8,91.3 L477.1,90.1 L477.4,88.7 L477.7,87.3 L478.0,85.8 L478.3,84.3 L478.6,82.6 L478.9,80.9 L479.2,79.2 L479.5,77.4 L479.8,75.6 L480.1,73.7 L480.4,71.8 L480.7,69.9 L481.0,67.9 L481.3,66.0 L481.6,64.0 L481.9,62.1 L482.2,60.1 L482.5,58.2 L482.8,56.2 L483.1,54.3 L483.4,52.5 L483.7,50.6 L484.0,48.8 L484.3,47.1 L484.6,45.4 L484.9,43.8 L485.2,42.2 L485.5,40.7 L485.8,39.3 L486.1,38.0 L486.4,36.7 L486.7,35.6 L487.0,34.5 L487.3,33.5 L487.6,32.6 L487.9,31.8 L488.2,31.1 L488.5,30.6 L488.8,30.1 L489.1,29.7 L489.4,29.5 L489.7,29.4 L490.0,29.3 L490.3,29.4 L490.6,29.6 L490.9,29.9 L491.2,30.3 L491.5,30.8 L491.8,31.5 L492.1,32.2 L492.4,33.0 L492.7,34.0 L493.0,35.0 L493.3,36.1 L493.6,37.3 L493.9,38.6 L494.2,40.0 L494.5,41.5 L494.8,43.0 L495.1,44.6 L495.4,46.3 L495.7,48.0 L496.0,49.7 L496.3,51.5 L496.6,53.4 L496.9,55.3 L497.2,57.2 L497.5,59.1 L497.8,61.1 L498.1,63.0 L498.4,65.0 L498.7,67.0 L499.0,68.9 L499.3,70.9 L499.6,72.8 L499.9,74.7 L500.2,76.5 L500.5,78.3 L500.8,80.1 L501.1,81.8 L501.4,83.5 L501.7,85.1 L502.0,86.6 L502.3,88.0 L502.6,89.4 L502.9,90.7 L503.2,91.9 L503.5,93.0 L503.8,94.1 L504.1,95.0 L504.4,95.8 L504.7,96.6 L505.0,97.2 L505.3,97.7 L505.6,98.1 L505.9,98.4 L506.2,98.6 L506.5,98.7 L506.8,98.7 L507.1,98.6 L507.4,98.3 L507.7,97.9 L508.0,97.5 L508.3,96.9 L508.6,96.2 L508.9,95.4 L509.2,94.6 L509.5,93.6 L509.8,92.5 L510.1,91.3 L510.4,90.1 L510.7,88.7 L511.0,87.3 L511.3,85.8 L511.6,84.3 L511.9,82.6 L512.2,80.9 L512.5,79.2 L512.8,77.4 L513.2,75.6 L513.5,73.7 L513.8,71.8 L514.1,69.9 L514.4,67.9 L514.7,66.0 L515.0,64.0 L515.3,62.1 L515.6,60.1 L515.9,58.2 L516.2,56.2 L516.5,54.3 L516.8,52.5 L517.1,50.6 L517.4,48.8 L517.7,47.1 L518.0,45.4 L518.3,43.8 L518.6,42.2 L518.9,40.7 L519.2,39.3 L519.5,38.0 L519.8,36.7 L520.1,35.6 L520.4,34.5 L520.7,33.5 L521.0,32.6 L521.3,31.8 L521.6,31.1 L521.9,30.6 L522.2,30.1 L522.5,29.7 L522.8,29.5 L523.1,29.4 L523.4,29.3 L523.7,29.4 L524.0,29.6 L524.3,29.9 L524.6,30.3 L524.9,30.8 L525.2,31.5 L525.5,32.2 L525.8,33.0 L526.1,34.0 L526.4,35.0 L526.7,36.1 L527.0,37.3 L527.3,38.6 L527.6,40.0 L527.9,41.5 L528.2,43.0 L528.5,44.6 L528.8,46.3 L529.1,48.0 L529.4,49.7 L529.7,51.5 L530.0,53.4 L530.3,55.3 L530.6,57.2 L530.9,59.1 L531.2,61.1 L531.5,63.0 L531.8,65.0 L532.1,67.0 L532.4,68.9 L532.7,70.9 L533.0,72.8 L533.3,74.7 L533.6,76.5 L533.9,78.3 L534.2,80.1 L534.5,81.8 L534.8,83.5 L535.1,85.1 L535.4,86.6 L535.7,88.0 L536.0,89.4 L536.3,90.7 L536.6,91.9 L536.9,93.0 L537.2,94.1 L537.5,95.0 L537.8,95.8 L538.1,96.6 L538.4,97.2 L538.7,97.7 L539.0,98.1 L539.3,98.4 L539.6,98.6 L539.9,98.7 L540.2,98.7 L540.5,98.6 L540.8,98.3 L541.1,97.9 L541.4,97.5 L541.7,96.9 L542.0,96.2 L542.3,95.4 L542.6,94.6 L542.9,93.6 L543.2,92.5 L543.5,91.3 L543.8,90.1 L544.1,88.7 L544.4,87.3 L544.7,85.8 L545.0,84.3 L545.3,82.6 L545.6,80.9 L545.9,79.2 L546.2,77.4 L546.5,75.6 L546.8,73.7 L547.1,71.8 L547.4,69.9 L547.7,67.9 L548.0,66.0 L548.3,64.0 L548.6,62.1 L548.9,60.1 L549.2,58.2 L549.5,56.2 L549.8,54.3 L550.1,52.5 L550.5,50.6 L550.8,48.8 L551.1,47.1 L551.4,45.4 L551.7,43.8 L552.0,42.2 L552.3,40.7 L552.6,39.3 L552.9,38.0 L553.2,36.7 L553.5,35.6 L553.8,34.5 L554.1,33.5 L554.4,32.6 L554.7,31.8 L555.0,31.1 L555.3,30.6 L555.6,30.1 L555.9,29.7 L556.2,29.5 L556.5,29.4 L556.8,29.3 L557.1,29.4 L557.4,29.6 L557.7,29.9 L558.0,30.3 L558.3,30.8 L558.6,31.5 L558.9,32.2 L559.2,33.0 L559.5,34.0 L559.8,35.0 L560.1,36.1 L560.4,37.3 L560.7,38.6 L561.0,40.0 L561.3,41.5 L561.6,43.0 L561.9,44.6 L562.2,46.3 L562.5,48.0 L562.8,49.7 L563.1,51.5 L563.4,53.4 L563.7,55.3 L564.0,57.2 L564.3,59.1 L564.6,61.1 L564.9,63.0 L565.2,65.0 L565.5,67.0 L565.8,68.9 L566.1,70.9 L566.4,72.8 L566.7,74.7 L567.0,76.5 L567.3,78.3 L567.6,80.1 L567.9,81.8 L568.2,83.5 L568.5,85.1 L568.8,86.6 L569.1,88.0 L569.4,89.4 L569.7,90.7 L570.0,91.9 L570.3,93.0 L570.6,94.1 L570.9,95.0 L571.2,95.8 L571.5,96.6 L571.8,97.2 L572.1,97.7 L572.4,98.1 L572.7,98.4 L573.0,98.6 L573.3,98.7 L573.6,98.7 L573.9,98.6 L574.2,98.3 L574.5,97.9 L574.8,97.5 L575.1,96.9 L575.4,96.2 L575.7,95.4 L576.0,94.6 L576.3,93.6 L576.6,92.5 L576.9,91.3 L577.2,90.1 L577.5,88.7 L577.8,87.3 L578.1,85.8 L578.4,84.3 L578.7,82.6 L579.0,80.9 L579.3,79.2 L579.6,77.4 L579.9,75.6 L580.2,73.7 L580.5,71.8 L580.8,69.9 L581.1,67.9 L581.4,66.0 L581.7,64.0 L582.0,62.1 L582.3,60.1 L582.6,58.2 L582.9,56.2 L583.2,54.3 L583.5,52.5 L583.8,50.6 L584.1,48.8 L584.4,47.1 L584.7,45.4 L585.0,43.8 L585.3,42.2 L585.6,40.7 L585.9,39.3 L586.2,38.0 L586.5,36.7 L586.8,35.6 L587.1,34.5 L587.4,33.5 L587.7,32.6 L588.1,31.8 L588.4,31.1 L588.7,30.6 L589.0,30.1 L589.3,29.7 L589.6,29.5 L589.9,29.4 L590.2,29.3 L590.5,29.4 L590.8,29.6 L591.1,29.9 L591.4,30.3 L591.7,30.8 L592.0,31.5 L592.3,32.2 L592.6,33.0 L592.9,34.0 L593.2,35.0 L593.5,36.1 L593.8,37.3 L594.1,38.6 L594.4,40.0 L594.7,41.5 L595.0,43.0 L595.3,44.6 L595.6,46.3 L595.9,48.0 L596.2,49.7 L596.5,51.5 L596.8,53.4 L597.1,55.3 L597.4,57.2 L597.7,59.1 L598.0,61.1 L598.3,63.0 L598.6,65.0 L598.9,67.0 L599.2,68.9 L599.5,70.9 L599.8,72.8 L600.1,74.7 L600.4,76.5 L600.7,78.3 L601.0,80.1 L601.3,81.8 L601.6,83.5 L601.9,85.1 L602.2,86.6 L602.5,88.0 L602.8,89.4 L603.1,90.7 L603.4,91.9 L603.7,93.0 L604.0,94.1 L604.3,95.0 L604.6,95.8 L604.9,96.6 L605.2,97.2 L605.5,97.7 L605.8,98.1 L606.1,98.4 L606.4,98.6 L606.7,98.7 L607.0,98.7 L607.3,98.6 L607.6,98.3 L607.9,97.9 L608.2,97.5 L608.5,96.9 L608.8,96.2 L609.1,95.4 L609.4,94.6 L609.7,93.6 L610.0,92.5 L610.3,91.3 L610.6,90.1 L610.9,88.7 L611.2,87.3 L611.5,85.8 L611.8,84.3 L612.1,82.6 L612.4,80.9 L612.7,79.2 L613.0,77.4 L613.3,75.6 L613.6,73.7 L613.9,71.8 L614.2,69.9 L614.5,67.9 L614.8,66.0 L615.1,64.0 L615.4,62.1 L615.7,60.1 L616.0,58.2 L616.3,56.2 L616.6,54.3 L616.9,52.5 L617.2,50.6 L617.5,48.8 L617.8,47.1 L618.1,45.4 L618.4,43.8 L618.7,42.2 L619.0,40.7 L619.3,39.3 L619.6,38.0 L619.9,36.7 L620.2,35.6 L620.5,34.5 L620.8,33.5 L621.1,32.6 L621.4,31.8 L621.7,31.1 L622.0,30.6 L622.3,30.1 L622.6,29.7 L622.9,29.5 L623.2,29.4 L623.5,29.3 L623.8,29.4 L624.1,29.6 L624.4,29.9 L624.7,30.3 L625.0,30.8 L625.3,31.5 L625.7,32.2 L626.0,33.0 L626.3,34.0 L626.6,35.0 L626.9,36.1 L627.2,37.3 L627.5,38.6 L627.8,40.0 L628.1,41.5 L628.4,43.0 L628.7,44.6 L629.0,46.3 L629.3,48.0 L629.6,49.7 L629.9,51.5 L630.2,53.4 L630.5,55.3 L630.8,57.2 L631.1,59.1 L631.4,61.1 L631.7,63.0 L632.0,65.0 L632.3,67.0 L632.6,68.9 L632.9,70.9 L633.2,72.8 L633.5,74.7 L633.8,76.5 L634.1,78.3 L634.4,80.1 L634.7,81.8 L635.0,83.5 L635.3,85.1 L635.6,86.6 L635.9,88.0 L636.2,89.4 L636.5,90.7 L636.8,91.9 L637.1,93.0 L637.4,94.1 L637.7,95.0 L638.0,95.8 L638.3,96.6 L638.6,97.2 L638.9,97.7 L639.2,98.1 L639.5,98.4 L639.8,98.6 L640.1,98.7 L640.4,98.7 L640.7,98.6 L641.0,98.3 L641.3,97.9 L641.6,97.5 L641.9,96.9 L642.2,96.2 L642.5,95.4 L642.8,94.6 L643.1,93.6 L643.4,92.5 L643.7,91.3 L644.0,90.1 L644.3,88.7 L644.6,87.3 L644.9,85.8 L645.2,84.3 L645.5,82.6 L645.8,80.9 L646.1,79.2 L646.4,77.4 L646.7,75.6 L647.0,73.7 L647.3,71.8 L647.6,69.9 L647.9,67.9 L648.2,66.0 L648.5,64.0 L648.8,62.1 L649.1,60.1 L649.4,58.2 L649.7,56.2 L650.0,54.3 L650.3,52.5 L650.6,50.6 L650.9,48.8 L651.2,47.1 L651.5,45.4 L651.8,43.8 L652.1,42.2 L652.4,40.7 L652.7,39.3 L653.0,38.0 L653.3,36.7 L653.6,35.6 L653.9,34.5 L654.2,33.5 L654.5,32.6 L654.8,31.8 L655.1,31.1 L655.4,30.6 L655.7,30.1 L656.0,29.7 L656.3,29.5 L656.6,29.4 L656.9,29.3 L657.2,29.4 L657.5,29.6 L657.8,29.9 L658.1,30.3 L658.4,30.8 L658.7,31.5 L659.0,32.2 L659.3,33.0 L659.6,34.0 L659.9,35.0 L660.2,36.1 L660.5,37.3 L660.8,38.6 L661.1,40.0 L661.4,41.5 L661.7,43.0 L662.0,44.6 L662.3,46.3 L662.6,48.0 L662.9,49.7 L663.3,51.5 L663.6,53.4 L663.9,55.3 L664.2,57.2 L664.5,59.1 L664.8,61.1 L665.1,63.0 L665.4,65.0 L665.7,67.0 L666.0,68.9 L666.3,70.9 L666.6,72.8 L666.9,74.7 L667.2,76.5 L667.5,78.3 L667.8,80.1 L668.1,81.8 L668.4,83.5 L668.7,85.1 L669.0,86.6 L669.3,88.0 L669.6,89.4 L669.9,90.7 L670.2,91.9 L670.5,93.0 L670.8,94.1 L671.1,95.0 L671.4,95.8 L671.7,96.6 L672.0,97.2 L672.3,97.7 L672.6,98.1 L672.9,98.4 L673.2,98.6 L673.5,98.7 L673.8,98.7 L674.1,98.6 L674.4,98.3 L674.7,97.9 L675.0,97.5 L675.3,96.9 L675.6,96.2 L675.9,95.4 L676.2,94.6 L676.5,93.6 L676.8,92.5 L677.1,91.3 L677.4,90.1 L677.7,88.7 L678.0,87.3 L678.3,85.8 L678.6,84.3 L678.9,82.6 L679.2,80.9 L679.5,79.2 L679.8,77.4 L680.1,75.6 L680.4,73.7 L680.7,71.8 L681.0,69.9 L681.3,67.9 L681.6,66.0 L681.9,64.0" stroke="#1e1e1e" stroke-dasharray="3.6,2.9" stroke-width="1.15"/>
<path d="M381.4,63.2 L381.7,63.2 L382.0,63.2 L382.3,63.2 L382.6,63.2 L382.9,63.2 L383.2,63.2 L383.5,63.2 L383.8,63.2 L384.1,63.2 L384.4,63.2 L384.7,63.2 L385.0,63.2 L385.3,63.2 L385.6,63.2 L385.9,63.3 L386.2,63.3 L386.5,63.3 L386.8,63.3 L387.1,63.3 L387.4,63.3 L387.7,63.4 L388.0,63.4 L388.3,63.4 L388.6,63.4 L388.9,63.5 L389.2,63.5 L389.5,63.6 L389.8,63.7 L390.1,63.8 L390.4,63.9 L390.7,64.1 L391.0,64.2 L391.3,64.4 L391.6,64.5 L391.9,64.7 L392.2,64.9 L392.5,65.2 L392.8,65.5 L393.1,65.9 L393.4,66.4 L393.7,67.0 L394.0,67.6 L394.3,68.2 L394.6,68.9 L394.9,69.6 L395.2,70.4 L395.5,71.1 L395.8,71.9 L396.1,72.6 L396.4,73.3 L396.7,74.1 L397.0,74.8 L397.3,75.6 L397.6,76.4 L397.9,77.2 L398.2,78.1 L398.5,78.9 L398.8,79.8 L399.1,80.7 L399.4,81.5 L399.7,82.4 L400.0,83.2 L400.4,84.0 L400.7,84.8 L401.0,85.6 L401.3,86.4 L401.6,87.1 L401.9,87.9 L402.2,88.7 L402.5,89.4 L402.8,90.0 L403.1,90.5 L403.4,91.0 L403.7,91.4 L404.0,91.8 L404.3,92.2 L404.6,92.6 L404.9,93.0 L405.2,93.3 L405.5,93.5 L405.8,93.6 L406.1,93.7 L406.4,93.7 L406.7,93.6 L407.0,93.5 L407.3,93.3 L407.6,93.1 L407.9,92.8 L408.2,92.6 L408.5,92.3 L408.8,91.9 L409.1,91.6 L409.4,91.1 L409.7,90.5 L410.0,89.8 L410.3,89.0 L410.6,88.1 L410.9,87.2 L411.2,86.2 L411.5,85.2 L411.8,84.2 L412.1,83.2 L412.4,82.2 L412.7,81.3 L413.0,80.4 L413.3,79.4 L413.6,78.5 L413.9,77.5 L414.2,76.5 L414.5,75.5 L414.8,74.5 L415.1,73.5 L415.4,72.4 L415.7,71.2 L416.0,70.0 L416.3,68.8 L416.6,67.4 L416.9,66.1 L417.2,64.7 L417.5,63.2 L417.8,61.8 L418.1,60.3 L418.4,58.8 L418.7,57.4 L419.0,56.0 L419.3,54.6 L419.6,53.4 L419.9,52.2 L420.2,51.1 L420.5,50.2 L420.8,49.5 L421.1,48.8 L421.4,48.4 L421.7,48.0 L422.0,47.7 L422.3,47.5 L422.6,47.4 L422.9,47.3 L423.2,47.4 L423.5,47.5 L423.8,47.6 L424.1,47.9 L424.4,48.1 L424.7,48.5 L425.0,48.9 L425.3,49.4 L425.6,50.0 L425.9,50.6 L426.2,51.2 L426.5,51.9 L426.8,52.7 L427.1,53.5 L427.4,54.4 L427.7,55.3 L428.0,56.2 L428.3,57.2 L428.6,58.3 L428.9,59.3 L429.2,60.4 L429.5,61.5 L429.8,62.6 L430.1,63.8 L430.4,64.9 L430.7,66.1 L431.0,67.3 L431.3,68.5 L431.6,69.7 L431.9,70.8 L432.2,72.0 L432.5,73.1 L432.8,74.3 L433.1,75.4 L433.4,76.5 L433.7,77.6 L434.0,78.6 L434.3,79.6 L434.6,80.6 L434.9,81.5 L435.2,82.4 L435.5,83.2 L435.8,84.0 L436.1,84.8 L436.4,85.5 L436.7,86.1 L437.0,86.7 L437.3,87.2 L437.6,87.7 L438.0,88.0 L438.3,88.4 L438.6,88.6 L438.9,88.8 L439.2,89.0 L439.5,89.0 L439.8,89.0 L440.1,89.0 L440.4,88.8 L440.7,88.6 L441.0,88.4 L441.3,88.0 L441.6,87.6 L441.9,87.1 L442.2,86.5 L442.5,85.9 L442.8,85.2 L443.1,84.4 L443.4,83.6 L443.7,82.7 L444.0,81.8 L444.3,80.8 L444.6,79.8 L444.9,78.8 L445.2,77.6 L445.5,76.5 L445.8,75.3 L446.1,74.1 L446.4,72.9 L446.7,71.7 L447.0,70.4 L447.3,69.1 L447.6,67.8 L447.9,66.6 L448.2,65.3 L448.5,64.0 L448.8,62.8 L449.1,61.5 L449.4,60.3 L449.7,59.1 L450.0,57.9 L450.3,56.8 L450.6,55.7 L450.9,54.7 L451.2,53.6 L451.5,52.7 L451.8,51.8 L452.1,50.9 L452.4,50.1 L452.7,49.4 L453.0,48.7 L453.3,48.1 L453.6,47.6 L453.9,47.1 L454.2,46.7 L454.5,46.4 L454.8,46.1 L455.1,46.0 L455.4,45.9 L455.7,45.9 L456.0,45.9 L456.3,46.1 L456.6,46.3 L456.9,46.6 L457.2,47.0 L457.5,47.4 L457.8,47.9 L458.1,48.5 L458.4,49.2 L458.7,49.9 L459.0,50.7 L459.3,51.5 L459.6,52.4 L459.9,53.3 L460.2,54.2 L460.5,55.2 L460.8,56.3 L461.1,57.3 L461.4,58.4 L461.7,59.5 L462.0,60.7 L462.3,61.8 L462.6,63.0 L462.9,64.2 L463.2,65.3 L463.5,66.5 L463.8,67.7 L464.1,68.9 L464.4,70.1 L464.7,71.3 L465.0,72.4 L465.3,73.5 L465.6,74.7 L465.9,75.8 L466.2,76.8 L466.5,77.9 L466.8,78.9 L467.1,79.8 L467.4,80.8 L467.7,81.7 L468.0,82.5 L468.3,83.3 L468.6,84.1 L468.9,84.8 L469.2,85.4 L469.5,86.0 L469.8,86.6 L470.1,87.1 L470.4,87.5 L470.7,87.9 L471.0,88.2 L471.3,88.4 L471.6,88.6 L471.9,88.8 L472.2,88.8 L472.5,88.8 L472.8,88.8 L473.1,88.6 L473.4,88.5 L473.7,88.2 L474.0,87.9 L474.3,87.5 L474.6,87.1 L474.9,86.6 L475.2,86.1 L475.6,85.5 L475.9,84.8 L476.2,84.1 L476.5,83.3 L476.8,82.5 L477.1,81.6 L477.4,80.7 L477.7,79.8 L478.0,78.8 L478.3,77.7 L478.6,76.7 L478.9,75.6 L479.2,74.5 L479.5,73.3 L479.8,72.2 L480.1,71.0 L480.4,69.8 L480.7,68.7 L481.0,67.5 L481.3,66.3 L481.6,65.1 L481.9,63.9 L482.2,62.8 L482.5,61.6 L482.8,60.5 L483.1,59.4 L483.4,58.3 L483.7,57.3 L484.0,56.3 L484.3,55.3 L484.6,54.4 L484.9,53.5 L485.2,52.6 L485.5,51.8 L485.8,51.1 L486.1,50.4 L486.4,49.7 L486.7,49.2 L487.0,48.6 L487.3,48.2 L487.6,47.8 L487.9,47.5 L488.2,47.2 L488.5,47.0 L488.8,46.9 L489.1,46.8 L489.4,46.8 L489.7,46.9 L490.0,47.0 L490.3,47.2 L490.6,47.5 L490.9,47.8 L491.2,48.2 L491.5,48.6 L491.8,49.2 L492.1,49.7 L492.4,50.4 L492.7,51.1 L493.0,51.8 L493.3,52.7 L493.6,53.5 L493.9,54.4 L494.2,55.4 L494.5,56.4 L494.8,57.4 L495.1,58.5 L495.4,59.6 L495.7,60.7 L496.0,61.9 L496.3,63.0 L496.6,64.2 L496.9,65.4 L497.2,66.7 L497.5,67.9 L497.8,69.1 L498.1,70.3 L498.4,71.6 L498.7,72.8 L499.0,74.0 L499.3,75.2 L499.6,76.3 L499.9,77.5 L500.2,78.6 L500.5,79.7 L500.8,80.7 L501.1,81.7 L501.4,82.7 L501.7,83.6 L502.0,84.5 L502.3,85.3 L502.6,86.1 L502.9,86.8 L503.2,87.5 L503.5,88.1 L503.8,88.7 L504.1,89.2 L504.4,89.6 L504.7,89.9 L505.0,90.2 L505.3,90.5 L505.6,90.6 L505.9,90.7 L506.2,90.7 L506.5,90.7 L506.8,90.6 L507.1,90.4 L507.4,90.2 L507.7,89.8 L508.0,89.4 L508.3,89.0 L508.6,88.5 L508.9,87.9 L509.2,87.2 L509.5,86.5 L509.8,85.7 L510.1,84.9 L510.4,84.0 L510.7,83.1 L511.0,82.1 L511.3,81.0 L511.6,80.0 L511.9,78.9 L512.2,77.7 L512.5,76.5 L512.8,75.3 L513.2,74.1 L513.5,72.9 L513.8,71.6 L514.1,70.4 L514.4,69.1 L514.7,67.8 L515.0,66.5 L515.3,65.3 L515.6,64.0 L515.9,62.8 L516.2,61.6 L516.5,60.4 L516.8,59.2 L517.1,58.1 L517.4,57.0 L517.7,55.9 L518.0,54.9 L518.3,53.9 L518.6,53.0 L518.9,52.1 L519.2,51.3 L519.5,50.6 L519.8,49.9 L520.1,49.2 L520.4,48.7 L520.7,48.2 L521.0,47.7 L521.3,47.4 L521.6,47.1 L521.9,46.8 L522.2,46.7 L522.5,46.6 L522.8,46.6 L523.1,46.7 L523.4,46.9 L523.7,47.1 L524.0,47.4 L524.3,47.8 L524.6,48.2 L524.9,48.7 L525.2,49.3 L525.5,49.9 L525.8,50.6 L526.1,51.3 L526.4,52.1 L526.7,52.9 L527.0,53.8 L527.3,54.7 L527.6,55.7 L527.9,56.7 L528.2,57.7 L528.5,58.8 L528.8,59.9 L529.1,61.0 L529.4,62.2 L529.7,63.3 L530.0,64.5 L530.3,65.7 L530.6,66.9 L530.9,68.1 L531.2,69.3 L531.5,70.5 L531.8,71.7 L532.1,72.8 L532.4,74.0 L532.7,75.1 L533.0,76.3 L533.3,77.4 L533.6,78.4 L533.9,79.5 L534.2,80.5 L534.5,81.4 L534.8,82.4 L535.1,83.2 L535.4,84.1 L535.7,84.9 L536.0,85.6 L536.3,86.3 L536.6,86.9 L536.9,87.5 L537.2,88.0 L537.5,88.5 L537.8,88.9 L538.1,89.2 L538.4,89.5 L538.7,89.7 L539.0,89.8 L539.3,89.9 L539.6,89.9 L539.9,89.8 L540.2,89.7 L540.5,89.5 L540.8,89.3 L541.1,89.0 L541.4,88.6 L541.7,88.1 L542.0,87.6 L542.3,87.0 L542.6,86.4 L542.9,85.7 L543.2,84.9 L543.5,84.1 L543.8,83.2 L544.1,82.3 L544.4,81.3 L544.7,80.3 L545.0,79.3 L545.3,78.2 L545.6,77.1 L545.9,75.9 L546.2,74.7 L546.5,73.5 L546.8,72.3 L547.1,71.1 L547.4,69.8 L547.7,68.6 L548.0,67.3 L548.3,66.1 L548.6,64.8 L548.9,63.6 L549.2,62.4 L549.5,61.2 L549.8,60.0 L550.1,58.8 L550.5,57.7 L550.8,56.6 L551.1,55.5 L551.4,54.5 L551.7,53.5 L552.0,52.5 L552.3,51.6 L552.6,50.8 L552.9,50.0 L553.2,49.3 L553.5,48.6 L553.8,48.0 L554.1,47.4 L554.4,47.0 L554.7,46.5 L555.0,46.2 L555.3,45.9 L555.6,45.7 L555.9,45.6 L556.2,45.5 L556.5,45.5 L556.8,45.6 L557.1,45.7 L557.4,45.9 L557.7,46.2 L558.0,46.5 L558.3,47.0 L558.6,47.4 L558.9,48.0 L559.2,48.6 L559.5,49.2 L559.8,50.0 L560.1,50.7 L560.4,51.6 L560.7,52.4 L561.0,53.3 L561.3,54.3 L561.6,55.3 L561.9,56.4 L562.2,57.4 L562.5,58.5 L562.8,59.7 L563.1,60.8 L563.4,62.0 L563.7,63.2 L564.0,64.4 L564.3,65.6 L564.6,66.8 L564.9,68.0 L565.2,69.3 L565.5,70.5 L565.8,71.7 L566.1,72.8 L566.4,74.0 L566.7,75.1 L567.0,76.3 L567.3,77.3 L567.6,78.4 L567.9,79.4 L568.2,80.4 L568.5,81.3 L568.8,82.2 L569.1,83.0 L569.4,83.8 L569.7,84.5 L570.0,85.2 L570.3,85.8 L570.6,86.4 L570.9,86.9 L571.2,87.3 L571.5,87.7 L571.8,88.0 L572.1,88.2 L572.4,88.4 L572.7,88.5 L573.0,88.5 L573.3,88.4 L573.6,88.3 L573.9,88.1 L574.2,87.9 L574.5,87.6 L574.8,87.2 L575.1,86.7 L575.4,86.2 L575.7,85.6 L576.0,85.0 L576.3,84.3 L576.6,83.5 L576.9,82.7 L577.2,81.8 L577.5,80.9 L577.8,80.0 L578.1,78.9 L578.4,77.9 L578.7,76.8 L579.0,75.7 L579.3,74.5 L579.6,73.4 L579.9,72.2 L580.2,71.0 L580.5,69.7 L580.8,68.5 L581.1,67.3 L581.4,66.0 L581.7,64.8 L582.0,63.5 L582.3,62.3 L582.6,61.1 L582.9,59.9 L583.2,58.8 L583.5,57.6 L583.8,56.5 L584.1,55.5 L584.4,54.4 L584.7,53.5 L585.0,52.5 L585.3,51.6 L585.6,50.8 L585.9,50.0 L586.2,49.3 L586.5,48.6 L586.8,48.0 L587.1,47.4 L587.4,47.0 L587.7,46.6 L588.1,46.2 L588.4,45.9 L588.7,45.7 L589.0,45.6 L589.3,45.5 L589.6,45.6 L589.9,45.6 L590.2,45.8 L590.5,46.0 L590.8,46.3 L591.1,46.7 L591.4,47.2 L591.7,47.7 L592.0,48.2 L592.3,48.9 L592.6,49.5 L592.9,50.3 L593.2,51.1 L593.5,51.9 L593.8,52.8 L594.1,53.7 L594.4,54.7 L594.7,55.7 L595.0,56.7 L595.3,57.8 L595.6,58.9 L595.9,60.0 L596.2,61.2 L596.5,62.4 L596.8,63.6 L597.1,64.8 L597.4,66.0 L597.7,67.2 L598.0,68.4 L598.3,69.6 L598.6,70.8 L598.9,72.0 L599.2,73.1 L599.5,74.3 L599.8,75.4 L600.1,76.5 L600.4,77.6 L600.7,78.6 L601.0,79.7 L601.3,80.6 L601.6,81.6 L601.9,82.5 L602.2,83.3 L602.5,84.1 L602.8,84.8 L603.1,85.5 L603.4,86.2 L603.7,86.8 L604.0,87.3 L604.3,87.7 L604.6,88.1 L604.9,88.5 L605.2,88.8 L605.5,89.0 L605.8,89.1 L606.1,89.2 L606.4,89.2 L606.7,89.1 L607.0,89.0 L607.3,88.8 L607.6,88.6 L607.9,88.3 L608.2,87.9 L608.5,87.4 L608.8,86.9 L609.1,86.3 L609.4,85.7 L609.7,85.0 L610.0,84.2 L610.3,83.4 L610.6,82.5 L610.9,81.5 L611.2,80.6 L611.5,79.5 L611.8,78.5 L612.1,77.4 L612.4,76.3 L612.7,75.1 L613.0,73.9 L613.3,72.7 L613.6,71.5 L613.9,70.2 L614.2,69.0 L614.5,67.7 L614.8,66.4 L615.1,65.2 L615.4,63.9 L615.7,62.7 L616.0,61.5 L616.3,60.3 L616.6,59.1 L616.9,57.9 L617.2,56.8 L617.5,55.7 L617.8,54.7 L618.1,53.7 L618.4,52.7 L618.7,51.8 L619.0,51.0 L619.3,50.2 L619.6,49.4 L619.9,48.7 L620.2,48.1 L620.5,47.5 L620.8,47.0 L621.1,46.6 L621.4,46.3 L621.7,46.0 L622.0,45.8 L622.3,45.6 L622.6,45.6 L622.9,45.6 L623.2,45.7 L623.5,45.8 L623.8,46.0 L624.1,46.3 L624.4,46.7 L624.7,47.2 L625.0,47.7 L625.3,48.2 L625.7,48.9 L626.0,49.5 L626.3,50.3 L626.6,51.1 L626.9,51.9 L627.2,52.8 L627.5,53.7 L627.8,54.7 L628.1,55.7 L628.4,56.7 L628.7,57.8 L629.0,58.9 L629.3,60.0 L629.6,61.2 L629.9,62.4 L630.2,63.6 L630.5,64.8 L630.8,66.0 L631.1,67.2 L631.4,68.4 L631.7,69.6 L632.0,70.8 L632.3,72.0 L632.6,73.1 L632.9,74.3 L633.2,75.4 L633.5,76.5 L633.8,77.6 L634.1,78.6 L634.4,79.7 L634.7,80.6 L635.0,81.6 L635.3,82.5 L635.6,83.3 L635.9,84.1 L636.2,84.8 L636.5,85.5 L636.8,86.2 L637.1,86.8 L637.4,87.3 L637.7,87.7 L638.0,88.1 L638.3,88.5 L638.6,88.8 L638.9,89.0 L639.2,89.1 L639.5,89.2 L639.8,89.2 L640.1,89.1 L640.4,89.0 L640.7,88.8 L641.0,88.6 L641.3,88.3 L641.6,87.9 L641.9,87.5 L642.2,86.9 L642.5,86.4 L642.8,85.7 L643.1,85.0 L643.4,84.3 L643.7,83.5 L644.0,82.6 L644.3,81.7 L644.6,80.8 L644.9,79.8 L645.2,78.8 L645.5,77.7 L645.8,76.6 L646.1,75.5 L646.4,74.4 L646.7,73.2 L647.0,72.0 L647.3,70.8 L647.6,69.6 L647.9,68.4 L648.2,67.1 L648.5,65.9 L648.8,64.7 L649.1,63.5 L649.4,62.3 L649.7,61.1 L650.0,60.0 L650.3,58.8 L650.6,57.7 L650.9,56.7 L651.2,55.6 L651.5,54.6 L651.8,53.7 L652.1,52.8 L652.4,51.9 L652.7,51.1 L653.0,50.3 L653.3,49.6 L653.6,49.0 L653.9,48.4 L654.2,47.8 L654.5,47.4 L654.8,47.0 L655.1,46.6 L655.4,46.4 L655.7,46.2 L656.0,46.1 L656.3,46.0 L656.6,46.0 L656.9,46.1 L657.2,46.2 L657.5,46.4 L657.8,46.7 L658.1,47.1 L658.4,47.5 L658.7,48.0 L659.0,48.5 L659.3,49.1 L659.6,49.8 L659.9,50.5 L660.2,51.3 L660.5,52.1 L660.8,53.0 L661.1,53.9 L661.4,54.9 L661.7,55.9 L662.0,56.9 L662.3,58.0 L662.6,59.1 L662.9,60.2 L663.3,61.4 L663.6,62.6 L663.9,63.8 L664.2,65.0 L664.5,66.2 L664.8,67.4 L665.1,68.6 L665.4,69.9 L665.7,71.1 L666.0,72.3 L666.3,73.5 L666.6,74.6 L666.9,75.8 L667.2,76.9 L667.5,78.0 L667.8,79.0 L668.1,80.0 L668.4,81.0 L668.7,82.0 L669.0,82.8 L669.3,83.7 L669.6,84.5 L669.9,85.2 L670.2,85.9 L670.5,86.5 L670.8,87.1 L671.1,87.6 L671.4,88.0 L671.7,88.4 L672.0,88.7 L672.3,88.9 L672.6,89.1 L672.9,89.2 L673.2,89.2 L673.5,89.1 L673.8,89.0 L674.1,88.8 L674.4,88.6 L674.7,88.3 L675.0,88.0 L675.3,87.7 L675.6,87.3 L675.9,86.8 L676.2,86.4 L676.5,85.9 L676.8,85.3 L677.1,84.7 L677.4,84.0 L677.7,83.3 L678.0,82.5 L678.3,81.6 L678.6,80.7 L678.9,79.6 L679.2,78.5 L679.5,77.3 L679.8,76.0 L680.1,74.6 L680.4,73.1 L680.7,71.6 L681.0,69.9 L681.3,68.1 L681.6,66.3 L681.9,64.4" stroke="#ff2020"/>
<path d="M381.4,62.5 L381.7,62.5 L382.0,62.5 L382.3,62.5 L382.6,62.5 L382.9,62.5 L383.2,62.5 L383.5,62.5 L383.8,62.6 L384.1,62.6 L384.4,62.6 L384.7,62.6 L385.0,62.7 L385.3,62.7 L385.6,62.7 L385.9,62.8 L386.2,62.8 L386.5,62.9 L386.8,63.0 L387.1,63.2 L387.4,63.3 L387.7,63.5 L388.0,63.7 L388.3,63.9 L388.6,64.1 L388.9,64.3 L389.2,64.6 L389.5,64.8 L389.8,65.1 L390.1,65.5 L390.4,66.0 L390.7,66.5 L391.0,67.1 L391.3,67.8 L391.6,68.5 L391.9,69.2 L392.2,69.9 L392.5,70.6 L392.8,71.4 L393.1,72.1 L393.4,72.9 L393.7,73.6 L394.0,74.3 L394.3,75.0 L394.6,75.8 L394.9,76.6 L395.2,77.4 L395.5,78.2 L395.8,79.0 L396.1,79.8 L396.4,80.6 L396.7,81.4 L397.0,82.1 L397.3,82.8 L397.6,83.4 L397.9,84.0 L398.2,84.5 L398.5,85.1 L398.8,85.6 L399.1,86.1 L399.4,86.6 L399.7,87.1 L400.0,87.5 L400.4,87.9 L400.7,88.3 L401.0,88.6 L401.3,88.9 L401.6,89.1 L401.9,89.3 L402.2,89.5 L402.5,89.7 L402.8,89.9 L403.1,90.0 L403.4,90.0 L403.7,89.9 L404.0,89.8 L404.3,89.6 L404.6,89.3 L404.9,89.0 L405.2,88.6 L405.5,88.2 L405.8,87.7 L406.1,87.3 L406.4,86.7 L406.7,86.0 L407.0,85.2 L407.3,84.2 L407.6,83.1 L407.9,82.0 L408.2,80.8 L408.5,79.6 L408.8,78.4 L409.1,77.3 L409.4,76.0 L409.7,74.8 L410.0,73.4 L410.3,72.0 L410.6,70.6 L410.9,69.1 L411.2,67.7 L411.5,66.2 L411.8,64.8 L412.1,63.4 L412.4,62.1 L412.7,60.8 L413.0,59.6 L413.3,58.3 L413.6,57.0 L413.9,55.5 L414.2,53.8 L414.5,52.0 L414.8,49.9 L415.1,47.7 L415.4,45.3 L415.7,42.8 L416.0,40.3 L416.3,37.8 L416.6,35.3 L416.9,32.9 L417.2,30.7 L417.5,28.7 L417.8,27.0 L418.1,25.5 L418.4,24.3 L418.7,23.3 L419.0,22.6 L419.3,22.0 L419.6,21.5 L419.9,21.1 L420.2,20.8 L420.5,20.6 L420.8,20.5 L421.1,20.6 L421.4,20.7 L421.7,21.0 L422.0,21.4 L422.3,21.9 L422.6,22.5 L422.9,23.2 L423.2,24.0 L423.5,25.0 L423.8,26.0 L424.1,27.1 L424.4,28.4 L424.7,29.7 L425.0,31.1 L425.3,32.7 L425.6,34.3 L425.9,36.0 L426.2,37.7 L426.5,39.6 L426.8,41.5 L427.1,43.4 L427.4,45.5 L427.7,47.5 L428.0,49.6 L428.3,51.8 L428.6,54.0 L428.9,56.2 L429.2,58.4 L429.5,60.7 L429.8,62.9 L430.1,65.2 L430.4,67.4 L430.7,69.6 L431.0,71.8 L431.3,74.0 L431.6,76.1 L431.9,78.2 L432.2,80.3 L432.5,82.3 L432.8,84.2 L433.1,86.1 L433.4,87.9 L433.7,89.6 L434.0,91.3 L434.3,92.9 L434.6,94.4 L434.9,95.8 L435.2,97.2 L435.5,98.4 L435.8,99.6 L436.1,100.7 L436.4,101.7 L436.7,102.6 L437.0,103.5 L437.3,104.2 L437.6,104.8 L438.0,105.4 L438.3,105.8 L438.6,106.2 L438.9,106.4 L439.2,106.5 L439.5,106.5 L439.8,106.4 L440.1,106.1 L440.4,105.8 L440.7,105.3 L441.0,104.7 L441.3,104.0 L441.6,103.3 L441.9,102.4 L442.2,101.4 L442.5,100.3 L442.8,99.2 L443.1,98.0 L443.4,96.6 L443.7,95.3 L444.0,93.8 L444.3,92.3 L444.6,90.8 L444.9,89.1 L445.2,87.4 L445.5,85.7 L445.8,83.9 L446.1,82.1 L446.4,80.2 L446.7,78.3 L447.0,76.4 L447.3,74.4 L447.6,72.4 L447.9,70.4 L448.2,68.4 L448.5,66.4 L448.8,64.4 L449.1,62.3 L449.4,60.3 L449.7,58.4 L450.0,56.4 L450.3,54.4 L450.6,52.5 L450.9,50.6 L451.2,48.8 L451.5,47.1 L451.8,45.3 L452.1,43.7 L452.4,42.2 L452.7,40.7 L453.0,39.3 L453.3,37.9 L453.6,36.7 L453.9,35.5 L454.2,34.5 L454.5,33.5 L454.8,32.6 L455.1,31.9 L455.4,31.2 L455.7,30.6 L456.0,30.2 L456.3,29.8 L456.6,29.6 L456.9,29.4 L457.2,29.4 L457.5,29.5 L457.8,29.6 L458.1,29.9 L458.4,30.3 L458.7,30.8 L459.0,31.4 L459.3,32.1 L459.6,32.9 L459.9,33.8 L460.2,34.8 L460.5,35.8 L460.8,37.0 L461.1,38.2 L461.4,39.5 L461.7,40.9 L462.0,42.3 L462.3,43.8 L462.6,45.4 L462.9,47.0 L463.2,48.7 L463.5,50.4 L463.8,52.1 L464.1,53.8 L464.4,55.6 L464.7,57.4 L465.0,59.2 L465.3,61.0 L465.6,62.8 L465.9,64.7 L466.2,66.4 L466.5,68.2 L466.8,70.0 L467.1,71.7 L467.4,73.4 L467.7,75.0 L468.0,76.6 L468.3,78.2 L468.6,79.7 L468.9,81.1 L469.2,82.5 L469.5,83.8 L469.8,85.0 L470.1,86.2 L470.4,87.3 L470.7,88.3 L471.0,89.3 L471.3,90.1 L471.6,90.9 L471.9,91.6 L472.2,92.2 L472.5,92.7 L472.8,93.1 L473.1,93.4 L473.4,93.7 L473.7,93.8 L474.0,93.8 L474.3,93.8 L474.6,93.6 L474.9,93.3 L475.2,93.0 L475.6,92.5 L475.9,92.0 L476.2,91.4 L476.5,90.7 L476.8,89.9 L477.1,89.0 L477.4,88.0 L477.7,87.0 L478.0,85.9 L478.3,84.7 L478.6,83.4 L478.9,82.1 L479.2,80.8 L479.5,79.3 L479.8,77.9 L480.1,76.4 L480.4,74.8 L480.7,73.2 L481.0,71.6 L481.3,70.0 L481.6,68.3 L481.9,66.7 L482.2,65.0 L482.5,63.4 L482.8,61.7 L483.1,60.0 L483.4,58.4 L483.7,56.8 L484.0,55.2 L484.3,53.6 L484.6,52.1 L484.9,50.6 L485.2,49.2 L485.5,47.8 L485.8,46.5 L486.1,45.2 L486.4,44.0 L486.7,42.8 L487.0,41.8 L487.3,40.8 L487.6,39.9 L487.9,39.0 L488.2,38.3 L488.5,37.7 L488.8,37.1 L489.1,36.7 L489.4,36.3 L489.7,36.1 L490.0,35.9 L490.3,35.9 L490.6,35.9 L490.9,36.1 L491.2,36.3 L491.5,36.7 L491.8,37.1 L492.1,37.7 L492.4,38.3 L492.7,39.0 L493.0,39.8 L493.3,40.7 L493.6,41.7 L493.9,42.7 L494.2,43.8 L494.5,45.0 L494.8,46.3 L495.1,47.6 L495.4,49.0 L495.7,50.5 L496.0,52.0 L496.3,53.5 L496.6,55.1 L496.9,56.7 L497.2,58.3 L497.5,60.0 L497.8,61.6 L498.1,63.3 L498.4,65.0 L498.7,66.7 L499.0,68.4 L499.3,70.0 L499.6,71.7 L499.9,73.3 L500.2,74.9 L500.5,76.5 L500.8,78.0 L501.1,79.5 L501.4,80.9 L501.7,82.3 L502.0,83.6 L502.3,84.9 L502.6,86.1 L502.9,87.2 L503.2,88.2 L503.5,89.2 L503.8,90.1 L504.1,90.9 L504.4,91.6 L504.7,92.2 L505.0,92.7 L505.3,93.1 L505.6,93.5 L505.9,93.7 L506.2,93.9 L506.5,93.9 L506.8,93.8 L507.1,93.7 L507.4,93.4 L507.7,93.1 L508.0,92.7 L508.3,92.1 L508.6,91.5 L508.9,90.7 L509.2,89.9 L509.5,89.0 L509.8,88.0 L510.1,86.9 L510.4,85.8 L510.7,84.5 L511.0,83.2 L511.3,81.9 L511.6,80.4 L511.9,79.0 L512.2,77.4 L512.5,75.8 L512.8,74.2 L513.2,72.6 L513.5,70.9 L513.8,69.1 L514.1,67.4 L514.4,65.6 L514.7,63.9 L515.0,62.1 L515.3,60.4 L515.6,58.6 L515.9,56.9 L516.2,55.2 L516.5,53.5 L516.8,51.8 L517.1,50.2 L517.4,48.6 L517.7,47.1 L518.0,45.6 L518.3,44.2 L518.6,42.8 L518.9,41.5 L519.2,40.3 L519.5,39.2 L519.8,38.1 L520.1,37.1 L520.4,36.2 L520.7,35.4 L521.0,34.7 L521.3,34.1 L521.6,33.6 L521.9,33.2 L522.2,32.8 L522.5,32.6 L522.8,32.5 L523.1,32.5 L523.4,32.6 L523.7,32.7 L524.0,33.0 L524.3,33.4 L524.6,33.9 L524.9,34.5 L525.2,35.2 L525.5,35.9 L525.8,36.8 L526.1,37.8 L526.4,38.8 L526.7,39.9 L527.0,41.1 L527.3,42.4 L527.6,43.8 L527.9,45.2 L528.2,46.7 L528.5,48.2 L528.8,49.8 L529.1,51.4 L529.4,53.1 L529.7,54.8 L530.0,56.5 L530.3,58.3 L530.6,60.0 L530.9,61.8 L531.2,63.6 L531.5,65.4 L531.8,67.2 L532.1,69.0 L532.4,70.8 L532.7,72.5 L533.0,74.3 L533.3,76.0 L533.6,77.6 L533.9,79.3 L534.2,80.8 L534.5,82.4 L534.8,83.8 L535.1,85.2 L535.4,86.6 L535.7,87.8 L536.0,89.0 L536.3,90.2 L536.6,91.2 L536.9,92.2 L537.2,93.0 L537.5,93.8 L537.8,94.5 L538.1,95.1 L538.4,95.6 L538.7,96.0 L539.0,96.3 L539.3,96.5 L539.6,96.7 L539.9,96.7 L540.2,96.6 L540.5,96.4 L540.8,96.1 L541.1,95.7 L541.4,95.2 L541.7,94.6 L542.0,94.0 L542.3,93.2 L542.6,92.3 L542.9,91.4 L543.2,90.3 L543.5,89.2 L543.8,88.0 L544.1,86.7 L544.4,85.4 L544.7,83.9 L545.0,82.4 L545.3,80.9 L545.6,79.3 L545.9,77.6 L546.2,75.9 L546.5,74.2 L546.8,72.4 L547.1,70.7 L547.4,68.8 L547.7,67.0 L548.0,65.2 L548.3,63.3 L548.6,61.5 L548.9,59.7 L549.2,57.9 L549.5,56.1 L549.8,54.3 L550.1,52.6 L550.5,50.9 L550.8,49.2 L551.1,47.6 L551.4,46.0 L551.7,44.5 L552.0,43.1 L552.3,41.7 L552.6,40.4 L552.9,39.2 L553.2,38.1 L553.5,37.0 L553.8,36.1 L554.1,35.2 L554.4,34.4 L554.7,33.7 L555.0,33.1 L555.3,32.6 L555.6,32.2 L555.9,32.0 L556.2,31.8 L556.5,31.7 L556.8,31.7 L557.1,31.9 L557.4,32.1 L557.7,32.4 L558.0,32.9 L558.3,33.4 L558.6,34.1 L558.9,34.8 L559.2,35.6 L559.5,36.6 L559.8,37.6 L560.1,38.7 L560.4,39.9 L560.7,41.1 L561.0,42.4 L561.3,43.8 L561.6,45.3 L561.9,46.8 L562.2,48.4 L562.5,50.0 L562.8,51.7 L563.1,53.4 L563.4,55.1 L563.7,56.9 L564.0,58.7 L564.3,60.5 L564.6,62.3 L564.9,64.1 L565.2,65.9 L565.5,67.7 L565.8,69.5 L566.1,71.3 L566.4,73.1 L566.7,74.8 L567.0,76.5 L567.3,78.1 L567.6,79.7 L567.9,81.3 L568.2,82.8 L568.5,84.2 L568.8,85.6 L569.1,86.8 L569.4,88.1 L569.7,89.2 L570.0,90.3 L570.3,91.2 L570.6,92.1 L570.9,92.9 L571.2,93.6 L571.5,94.2 L571.8,94.7 L572.1,95.1 L572.4,95.4 L572.7,95.6 L573.0,95.6 L573.3,95.6 L573.6,95.5 L573.9,95.3 L574.2,95.0 L574.5,94.5 L574.8,94.0 L575.1,93.4 L575.4,92.7 L575.7,91.8 L576.0,90.9 L576.3,89.9 L576.6,88.9 L576.9,87.7 L577.2,86.4 L577.5,85.1 L577.8,83.7 L578.1,82.3 L578.4,80.8 L578.7,79.2 L579.0,77.6 L579.3,76.0 L579.6,74.3 L579.9,72.5 L580.2,70.8 L580.5,69.0 L580.8,67.2 L581.1,65.4 L581.4,63.6 L581.7,61.7 L582.0,59.9 L582.3,58.1 L582.6,56.4 L582.9,54.6 L583.2,52.9 L583.5,51.2 L583.8,49.5 L584.1,47.9 L584.4,46.4 L584.7,44.9 L585.0,43.4 L585.3,42.0 L585.6,40.7 L585.9,39.5 L586.2,38.4 L586.5,37.3 L586.8,36.3 L587.1,35.4 L587.4,34.6 L587.7,33.9 L588.1,33.2 L588.4,32.7 L588.7,32.3 L589.0,32.0 L589.3,31.7 L589.6,31.6 L589.9,31.6 L590.2,31.7 L590.5,31.9 L590.8,32.2 L591.1,32.5 L591.4,33.0 L591.7,33.6 L592.0,34.3 L592.3,35.1 L592.6,35.9 L592.9,36.9 L593.2,37.9 L593.5,39.1 L593.8,40.3 L594.1,41.6 L594.4,42.9 L594.7,44.3 L595.0,45.8 L595.3,47.3 L595.6,48.9 L595.9,50.5 L596.2,52.2 L596.5,53.9 L596.8,55.7 L597.1,57.4 L597.4,59.2 L597.7,61.0 L598.0,62.8 L598.3,64.6 L598.6,66.5 L598.9,68.3 L599.2,70.0 L599.5,71.8 L599.8,73.6 L600.1,75.3 L600.4,77.0 L600.7,78.6 L601.0,80.2 L601.3,81.8 L601.6,83.2 L601.9,84.7 L602.2,86.0 L602.5,87.4 L602.8,88.6 L603.1,89.7 L603.4,90.8 L603.7,91.8 L604.0,92.7 L604.3,93.5 L604.6,94.3 L604.9,94.9 L605.2,95.4 L605.5,95.9 L605.8,96.2 L606.1,96.5 L606.4,96.6 L606.7,96.7 L607.0,96.6 L607.3,96.5 L607.6,96.2 L607.9,95.9 L608.2,95.4 L608.5,94.9 L608.8,94.2 L609.1,93.5 L609.4,92.7 L609.7,91.8 L610.0,90.8 L610.3,89.7 L610.6,88.6 L610.9,87.3 L611.2,86.0 L611.5,84.7 L611.8,83.2 L612.1,81.7 L612.4,80.2 L612.7,78.6 L613.0,76.9 L613.3,75.3 L613.6,73.5 L613.9,71.8 L614.2,70.0 L614.5,68.2 L614.8,66.4 L615.1,64.6 L615.4,62.8 L615.7,61.0 L616.0,59.2 L616.3,57.4 L616.6,55.7 L616.9,54.0 L617.2,52.3 L617.5,50.6 L617.8,49.0 L618.1,47.4 L618.4,45.9 L618.7,44.4 L619.0,43.0 L619.3,41.7 L619.6,40.4 L619.9,39.2 L620.2,38.1 L620.5,37.0 L620.8,36.1 L621.1,35.2 L621.4,34.4 L621.7,33.7 L622.0,33.2 L622.3,32.7 L622.6,32.3 L622.9,32.0 L623.2,31.8 L623.5,31.7 L623.8,31.8 L624.1,31.9 L624.4,32.1 L624.7,32.5 L625.0,32.9 L625.3,33.5 L625.7,34.1 L626.0,34.8 L626.3,35.7 L626.6,36.6 L626.9,37.6 L627.2,38.7 L627.5,39.9 L627.8,41.1 L628.1,42.4 L628.4,43.8 L628.7,45.3 L629.0,46.8 L629.3,48.4 L629.6,50.0 L629.9,51.7 L630.2,53.4 L630.5,55.1 L630.8,56.9 L631.1,58.7 L631.4,60.5 L631.7,62.3 L632.0,64.1 L632.3,66.0 L632.6,67.8 L632.9,69.6 L633.2,71.4 L633.5,73.1 L633.8,74.9 L634.1,76.6 L634.4,78.2 L634.7,79.8 L635.0,81.4 L635.3,82.9 L635.6,84.3 L635.9,85.7 L636.2,87.0 L636.5,88.2 L636.8,89.4 L637.1,90.5 L637.4,91.4 L637.7,92.3 L638.0,93.1 L638.3,93.8 L638.6,94.4 L638.9,95.0 L639.2,95.4 L639.5,95.7 L639.8,95.9 L640.1,96.0 L640.4,96.0 L640.7,95.9 L641.0,95.8 L641.3,95.5 L641.6,95.1 L641.9,94.6 L642.2,94.1 L642.5,93.4 L642.8,92.7 L643.1,91.8 L643.4,90.9 L643.7,89.9 L644.0,88.8 L644.3,87.7 L644.6,86.4 L644.9,85.1 L645.2,83.7 L645.5,82.3 L645.8,80.8 L646.1,79.3 L646.4,77.7 L646.7,76.1 L647.0,74.4 L647.3,72.7 L647.6,71.0 L647.9,69.2 L648.2,67.4 L648.5,65.7 L648.8,63.9 L649.1,62.1 L649.4,60.3 L649.7,58.6 L650.0,56.8 L650.3,55.1 L650.6,53.4 L650.9,51.7 L651.2,50.1 L651.5,48.5 L651.8,47.0 L652.1,45.5 L652.4,44.1 L652.7,42.7 L653.0,41.4 L653.3,40.2 L653.6,39.0 L653.9,37.9 L654.2,37.0 L654.5,36.1 L654.8,35.3 L655.1,34.5 L655.4,33.9 L655.7,33.4 L656.0,33.0 L656.3,32.7 L656.6,32.5 L656.9,32.4 L657.2,32.4 L657.5,32.5 L657.8,32.7 L658.1,33.0 L658.4,33.4 L658.7,33.9 L659.0,34.5 L659.3,35.2 L659.6,36.0 L659.9,36.9 L660.2,37.9 L660.5,39.0 L660.8,40.1 L661.1,41.3 L661.4,42.6 L661.7,44.0 L662.0,45.4 L662.3,46.9 L662.6,48.5 L662.9,50.1 L663.3,51.7 L663.6,53.4 L663.9,55.1 L664.2,56.9 L664.5,58.6 L664.8,60.4 L665.1,62.2 L665.4,64.0 L665.7,65.8 L666.0,67.6 L666.3,69.4 L666.6,71.1 L666.9,72.9 L667.2,74.6 L667.5,76.2 L667.8,77.9 L668.1,79.4 L668.4,81.0 L668.7,82.4 L669.0,83.8 L669.3,85.2 L669.6,86.5 L669.9,87.7 L670.2,88.8 L670.5,89.8 L670.8,90.8 L671.1,91.6 L671.4,92.4 L671.7,93.1 L672.0,93.7 L672.3,94.2 L672.6,94.5 L672.9,94.8 L673.2,95.0 L673.5,95.1 L673.8,95.1 L674.1,94.9 L674.4,94.7 L674.7,94.5 L675.0,94.1 L675.3,93.6 L675.6,93.1 L675.9,92.4 L676.2,91.7 L676.5,90.9 L676.8,90.0 L677.1,89.0 L677.4,87.9 L677.7,86.8 L678.0,85.6 L678.3,84.3 L678.6,82.9 L678.9,81.5 L679.2,79.9 L679.5,78.4 L679.8,76.7 L680.1,75.0 L680.4,73.3 L680.7,71.5 L681.0,69.6 L681.3,67.7 L681.6,65.8 L681.9,63.9" stroke="#1f1fff"/>
</g>
<g font-family='"Liberation Sans", sans-serif' fill="#111">
<line x1="32.6" y1="16.9" x2="56" y2="16.9" stroke="#333" stroke-width="1.1" stroke-dasharray="3.6,3.0"/>
<text transform="translate(60.90,20.50) scale(1,0.97)" font-size="10.4">Desired</text>
<line x1="102" y1="16.9" x2="126.8" y2="16.9" stroke="#1f1fff" stroke-width="1.15"/>
<text transform="translate(130.10,20.50) scale(1,0.97)" font-size="10.4">Measured AFSMC</text>
<line x1="221" y1="16.9" x2="246" y2="16.9" stroke="#ff2020" stroke-width="1.15"/>
<text transform="translate(249.00,20.50) scale(1,0.97)" font-size="10.4">Measured SMC</text>
<line x1="384.4" y1="16.7" x2="408.5" y2="16.7" stroke="#333" stroke-width="1.1" stroke-dasharray="3.6,3.0"/>
<text transform="translate(414.00,20.30) scale(1,0.97)" font-size="10.4">Desired</text>
<line x1="454.4" y1="16.7" x2="479.6" y2="16.7" stroke="#1f1fff" stroke-width="1.15"/>
<text transform="translate(481.70,20.30) scale(1,0.97)" font-size="10.4">Measured AFSMC</text>
<line x1="572.5" y1="16.7" x2="598.3" y2="16.7" stroke="#ff2020" stroke-width="1.15"/>
<text transform="translate(600.70,20.30) scale(1,0.97)" font-size="10.4">Measured SMC</text>
<line x1="200.2" y1="154.2" x2="225.6" y2="154.2" stroke="#1f1fff" stroke-width="1.15"/>
<text transform="translate(228.10,157.80) scale(1,0.97)" font-size="10.4">AFSMC</text>
<line x1="270" y1="154.2" x2="295.2" y2="154.2" stroke="#ff2020" stroke-width="1.15"/>
<text transform="translate(297.50,157.80) scale(1,0.97)" font-size="10.4">SMC</text>
<line x1="552.2" y1="153.7" x2="577.7" y2="153.7" stroke="#1f1fff" stroke-width="1.15"/>
<text transform="translate(580.20,157.30) scale(1,0.97)" font-size="10.4">AFSMC</text>
<line x1="621.6" y1="153.7" x2="646.8" y2="153.7" stroke="#ff2020" stroke-width="1.15"/>
<text transform="translate(649.60,157.30) scale(1,0.97)" font-size="10.4">SMC</text>
</g>
<g font-family='"Liberation Sans", sans-serif' fill="#262626" font-size="10.2">
<text transform="translate(9.6,58.8) rotate(-90)" text-anchor="middle">Angle (°)</text>
<text transform="translate(359.0,62.3) rotate(-90)" text-anchor="middle">Angle (°)</text>
<text transform="translate(8.8,193.5) rotate(-90)" text-anchor="middle">Tracking Error (°)</text>
<text transform="translate(358.4,192.2) rotate(-90)" text-anchor="middle">Tracking Error (°)</text>
<text x="179.5" y="271.5" text-anchor="middle">Time (s)</text>
<text x="532" y="271.5" text-anchor="middle">Time (s)</text>
</g>
<g font-family='"Liberation Serif", serif' fill="#111" font-size="17">
<text x="128.55" y="291.4">(a)</text>
<text transform="translate(151.80,291.4) skewX(-8) scale(1.22,0.91)" font-style="italic">f</text>
<rect x="165.60" y="284.9" width="8.5" height="1.0"/>
<rect x="165.60" y="288.2" width="8.5" height="1.0"/>
<text x="178.30" y="291.4">0.1Hz</text>
<text x="477.75" y="291.4">(b)</text>
<text transform="translate(502.00,291.4) skewX(-8) scale(1.22,0.91)" font-style="italic">f</text>
<rect x="515.60" y="284.9" width="8.5" height="1.0"/>
<rect x="515.60" y="288.2" width="8.5" height="1.0"/>
<text x="528.80" y="291.4">1.0Hz</text>
</g>
</svg>
</body></html>
